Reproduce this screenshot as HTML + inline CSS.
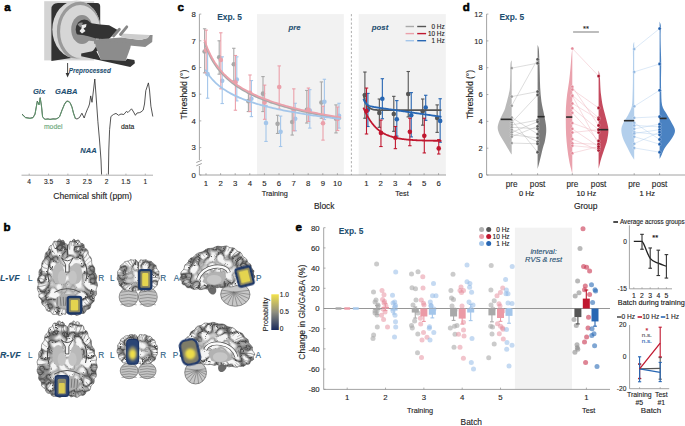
<!DOCTYPE html>
<html><head><meta charset="utf-8"><style>
html,body{margin:0;padding:0;background:#fff;overflow:hidden;}
svg{display:block;}
text{font-family:"Liberation Sans",sans-serif;}
</style></head><body>
<svg width="685" height="426" viewBox="0 0 685 426">
<rect width="685" height="426" fill="#fff"/>
<text x="4.20" y="11.20" font-size="11.5" text-anchor="start" fill="#000" font-weight="bold" font-style="normal" stroke="#000" stroke-width="0.55">a</text>
<text x="177.40" y="11.20" font-size="11.5" text-anchor="start" fill="#000" font-weight="bold" font-style="normal" stroke="#000" stroke-width="0.55">c</text>
<text x="462.80" y="10.80" font-size="11.5" text-anchor="start" fill="#000" font-weight="bold" font-style="normal" stroke="#000" stroke-width="0.55">d</text>
<text x="3.60" y="231.20" font-size="11.5" text-anchor="start" fill="#000" font-weight="bold" font-style="normal" stroke="#000" stroke-width="0.55">b</text>
<text x="295.40" y="230.90" font-size="11.5" text-anchor="start" fill="#000" font-weight="bold" font-style="normal" stroke="#000" stroke-width="0.55">e</text>
<g id="mri">
<clipPath id="discclip"><ellipse cx="76.5" cy="29.5" rx="24.2" ry="29"/></clipPath>
<rect x="44.20" y="1.20" width="50.00" height="59.20" fill="#d4d4d4" />
<path d="M51.4,61 L51.4,9.5 Q51.4,3 58,3 L97.2,3 Q100.2,3 100.2,6.5 L100.2,50 L81,56.5 Z" fill="#323232"/>
<ellipse cx="76.5" cy="29.5" rx="24.2" ry="29" fill="#d6d6d6"/>
<g clip-path="url(#discclip)"><ellipse cx="80.2" cy="31.5" rx="21.7" ry="28.2" fill="none" stroke="#9a9a9a" stroke-width="3.2"/></g>
<ellipse cx="82" cy="29.5" rx="10.8" ry="14.6" fill="#8e8e8e"/>
<ellipse cx="84.3" cy="29.5" rx="8.6" ry="10" fill="#343434"/>
<polygon points="73.00,34.00 96.00,36.50 96.00,41.50 74.00,39.00" fill="#8e8e8e" />
<polygon points="83.00,23.50 88.00,22.80 100.00,24.50 109.10,25.30 118.10,30.20 113.20,35.10 108.30,39.50 96.00,38.50 84.00,35.00 82.00,31.00" fill="#333" />
<path d="M77.5,24.5 Q80,21.5 83,22.8 L80.5,27.5 Z" fill="#8a8a8a"/>
<path d="M81.5,25 L86.5,24 L86,27 L83.5,28.5 L85.5,31 L82,33.5 L79.5,31 L81.5,28.5 Z" fill="#ececec"/>
<polygon points="94.00,39.50 121.40,37.60 140.30,40.00 147.70,38.00 149.70,35.10 152.60,35.10 152.20,42.10 145.20,47.00 129.60,45.40 94.00,43.80" fill="#8c8c8c" />
<polygon points="121.00,33.50 149.70,35.10 147.70,38.00 140.30,40.00 121.40,37.60" fill="#cdcdcd" />
<path d="M113.5,36 L119.4,29.3" stroke="#888" stroke-width="2.8" stroke-linecap="round"/>
<path d="M120.5,34.5 L126.8,26.8" stroke="#888" stroke-width="2.8" stroke-linecap="round"/>
<polygon points="94.50,40.00 131.30,43.30 130.30,47.90 125.70,60.70 100.70,59.60 96.10,47.40" fill="#8c8c8c" />
<polygon points="81.20,53.60 96.00,50.50 100.70,59.60 125.70,60.70 127.00,58.70 134.40,60.10 134.90,63.20 130.30,67.00 81.20,56.20" fill="#333" />
</g>
<line x1="67.60" y1="63.00" x2="67.60" y2="74.50" stroke="#333" stroke-width="0.9" />
<polygon points="65.60,73.00 69.60,73.00 67.60,77.50" fill="#333" />
<text x="68.80" y="72.80" font-size="6.35" text-anchor="start" fill="#1d4e70" font-weight="bold" font-style="italic"  stroke="#1d4e70" stroke-width="0.08">Preprocessed</text>
<line x1="21.50" y1="175.20" x2="153.00" y2="175.20" stroke="#999" stroke-width="0.8" />
<line x1="29.20" y1="175.20" x2="29.20" y2="173.60" stroke="#999" stroke-width="0.7" />
<text x="29.20" y="183.50" font-size="6.6" text-anchor="middle" fill="#262626" font-weight="normal" font-style="normal"  stroke="#262626" stroke-width="0.12">4</text>
<line x1="48.55" y1="175.20" x2="48.55" y2="173.60" stroke="#999" stroke-width="0.7" />
<text x="48.55" y="183.50" font-size="6.6" text-anchor="middle" fill="#262626" font-weight="normal" font-style="normal"  stroke="#262626" stroke-width="0.12">3.5</text>
<line x1="67.90" y1="175.20" x2="67.90" y2="173.60" stroke="#999" stroke-width="0.7" />
<text x="67.90" y="183.50" font-size="6.6" text-anchor="middle" fill="#262626" font-weight="normal" font-style="normal"  stroke="#262626" stroke-width="0.12">3</text>
<line x1="87.25" y1="175.20" x2="87.25" y2="173.60" stroke="#999" stroke-width="0.7" />
<text x="87.25" y="183.50" font-size="6.6" text-anchor="middle" fill="#262626" font-weight="normal" font-style="normal"  stroke="#262626" stroke-width="0.12">2.5</text>
<line x1="106.60" y1="175.20" x2="106.60" y2="173.60" stroke="#999" stroke-width="0.7" />
<text x="106.60" y="183.50" font-size="6.6" text-anchor="middle" fill="#262626" font-weight="normal" font-style="normal"  stroke="#262626" stroke-width="0.12">2</text>
<line x1="125.95" y1="175.20" x2="125.95" y2="173.60" stroke="#999" stroke-width="0.7" />
<text x="125.95" y="183.50" font-size="6.6" text-anchor="middle" fill="#262626" font-weight="normal" font-style="normal"  stroke="#262626" stroke-width="0.12">1.5</text>
<line x1="145.30" y1="175.20" x2="145.30" y2="173.60" stroke="#999" stroke-width="0.7" />
<text x="145.30" y="183.50" font-size="6.6" text-anchor="middle" fill="#262626" font-weight="normal" font-style="normal"  stroke="#262626" stroke-width="0.12">1</text>
<text x="92.60" y="199.30" font-size="8.6" text-anchor="middle" fill="#222" font-weight="normal" font-style="normal"  stroke="#222" stroke-width="0.12">Chemical shift (ppm)</text>
<clipPath id="specclip"><rect x="0" y="60" width="160" height="114.5"/></clipPath>
<g clip-path="url(#specclip)">
<polyline points="22.00,114.00 25.60,117.50 30.00,118.20 33.00,117.50 35.00,114.00 37.30,101.10 39.00,104.60 40.20,97.60 41.50,106.00 42.60,117.00 45.00,119.30 48.00,118.80 50.00,119.50 53.00,118.80 56.00,119.00 58.00,118.00 59.60,116.50 62.00,110.00 64.50,104.00 66.50,101.20 68.00,101.00 70.10,102.50 72.00,107.00 73.50,113.00 75.40,118.50 77.00,119.00 79.50,117.50 81.90,113.20 84.20,118.00 85.50,114.00 87.60,108.80 88.50,107.00 89.50,104.00 90.70,95.90 92.00,102.30 93.50,90.00 94.80,79.00 96.00,95.00 97.90,121.70 99.50,140.00 101.00,160.00 101.80,180.00" fill="none" stroke="#2a2a2a" stroke-width="0.8" stroke-linejoin="round"/>
<polyline points="108.30,180.00 108.80,150.00 109.60,129.50 110.90,116.50 113.40,114.50 116.00,113.40 118.60,115.30 121.00,114.00 123.80,114.50 126.40,111.40 128.00,112.50 131.50,108.80 133.00,111.00 135.40,115.30 137.00,113.00 139.30,112.70 141.00,112.00 143.20,110.10 144.50,104.00 145.80,90.70 148.40,82.90 149.50,90.00 150.90,106.20 152.80,116.50" fill="none" stroke="#2a2a2a" stroke-width="0.8" stroke-linejoin="round"/>
<polyline points="22.00,114.50 25.60,117.80 30.00,118.50 33.00,117.80 35.00,114.50 37.30,101.60 39.00,105.00 40.20,98.20 41.50,106.50 42.60,117.30 45.00,119.40 50.00,119.20 55.00,119.20 58.00,118.20 59.60,116.80 62.00,110.50 64.50,104.50 66.50,101.70 68.00,101.40 70.10,103.00 72.00,107.50 73.50,113.50 75.40,118.80" fill="none" stroke="#5e9e6e" stroke-width="1.0" stroke-linejoin="round" opacity="0.9"/>
</g>
<text x="39.00" y="93.50" font-size="7.6" text-anchor="middle" fill="#1d4e70" font-weight="bold" font-style="italic"  stroke="#1d4e70" stroke-width="0.08">Glx</text>
<text x="66.20" y="93.50" font-size="7.6" text-anchor="middle" fill="#1d4e70" font-weight="bold" font-style="italic"  stroke="#1d4e70" stroke-width="0.08">GABA</text>
<text x="88.40" y="153.20" font-size="7.6" text-anchor="middle" fill="#1d4e70" font-weight="bold" font-style="italic"  stroke="#1d4e70" stroke-width="0.08">NAA</text>
<text x="53.20" y="128.70" font-size="6.8" text-anchor="middle" fill="#6aa87a" font-weight="normal" font-style="normal"  stroke="#6aa87a" stroke-width="0.12">model</text>
<text x="127.70" y="128.70" font-size="6.8" text-anchor="middle" fill="#222" font-weight="normal" font-style="normal"  stroke="#222" stroke-width="0.12">data</text>
<rect x="257.00" y="14.10" width="86.80" height="160.90" fill="#f2f2f2" />
<rect x="358.70" y="14.10" width="87.10" height="160.90" fill="#f2f2f2" />
<line x1="351.40" y1="14.10" x2="351.40" y2="175.00" stroke="#999" stroke-width="0.8" stroke-dasharray="2.2,2"/>
<line x1="199.40" y1="14.10" x2="199.40" y2="160.00" stroke="#8c8c8c" stroke-width="0.8" />
<line x1="199.40" y1="166.00" x2="199.40" y2="175.00" stroke="#8c8c8c" stroke-width="0.8" />
<line x1="199.50" y1="175.00" x2="446.00" y2="175.00" stroke="#8c8c8c" stroke-width="0.8" />
<line x1="196.30" y1="162.50" x2="201.80" y2="160.20" stroke="#777" stroke-width="0.7" />
<line x1="196.30" y1="165.80" x2="201.80" y2="163.50" stroke="#777" stroke-width="0.7" />
<line x1="199.50" y1="14.10" x2="201.30" y2="14.10" stroke="#8c8c8c" stroke-width="0.7" />
<text x="195.90" y="16.90" font-size="7.8" text-anchor="end" fill="#262626" font-weight="normal" font-style="normal"  stroke="#262626" stroke-width="0.12">8</text>
<line x1="199.50" y1="40.80" x2="201.30" y2="40.80" stroke="#8c8c8c" stroke-width="0.7" />
<text x="195.90" y="43.60" font-size="7.8" text-anchor="end" fill="#262626" font-weight="normal" font-style="normal"  stroke="#262626" stroke-width="0.12">7</text>
<line x1="199.50" y1="67.50" x2="201.30" y2="67.50" stroke="#8c8c8c" stroke-width="0.7" />
<text x="195.90" y="70.30" font-size="7.8" text-anchor="end" fill="#262626" font-weight="normal" font-style="normal"  stroke="#262626" stroke-width="0.12">6</text>
<line x1="199.50" y1="94.20" x2="201.30" y2="94.20" stroke="#8c8c8c" stroke-width="0.7" />
<text x="195.90" y="97.00" font-size="7.8" text-anchor="end" fill="#262626" font-weight="normal" font-style="normal"  stroke="#262626" stroke-width="0.12">5</text>
<line x1="199.50" y1="120.90" x2="201.30" y2="120.90" stroke="#8c8c8c" stroke-width="0.7" />
<text x="195.90" y="123.70" font-size="7.8" text-anchor="end" fill="#262626" font-weight="normal" font-style="normal"  stroke="#262626" stroke-width="0.12">4</text>
<line x1="199.50" y1="147.60" x2="201.30" y2="147.60" stroke="#8c8c8c" stroke-width="0.7" />
<text x="195.90" y="150.40" font-size="7.8" text-anchor="end" fill="#262626" font-weight="normal" font-style="normal"  stroke="#262626" stroke-width="0.12">3</text>
<line x1="199.50" y1="175.00" x2="201.30" y2="175.00" stroke="#8c8c8c" stroke-width="0.7" />
<text x="195.90" y="177.80" font-size="7.8" text-anchor="end" fill="#262626" font-weight="normal" font-style="normal"  stroke="#262626" stroke-width="0.12">0</text>
<line x1="206.00" y1="175.00" x2="206.00" y2="173.20" stroke="#8c8c8c" stroke-width="0.7" />
<text x="206.00" y="186.30" font-size="7.8" text-anchor="middle" fill="#262626" font-weight="normal" font-style="normal"  stroke="#262626" stroke-width="0.12">1</text>
<line x1="220.60" y1="175.00" x2="220.60" y2="173.20" stroke="#8c8c8c" stroke-width="0.7" />
<text x="220.60" y="186.30" font-size="7.8" text-anchor="middle" fill="#262626" font-weight="normal" font-style="normal"  stroke="#262626" stroke-width="0.12">2</text>
<line x1="235.20" y1="175.00" x2="235.20" y2="173.20" stroke="#8c8c8c" stroke-width="0.7" />
<text x="235.20" y="186.30" font-size="7.8" text-anchor="middle" fill="#262626" font-weight="normal" font-style="normal"  stroke="#262626" stroke-width="0.12">3</text>
<line x1="249.80" y1="175.00" x2="249.80" y2="173.20" stroke="#8c8c8c" stroke-width="0.7" />
<text x="249.80" y="186.30" font-size="7.8" text-anchor="middle" fill="#262626" font-weight="normal" font-style="normal"  stroke="#262626" stroke-width="0.12">4</text>
<line x1="264.40" y1="175.00" x2="264.40" y2="173.20" stroke="#8c8c8c" stroke-width="0.7" />
<text x="264.40" y="186.30" font-size="7.8" text-anchor="middle" fill="#262626" font-weight="normal" font-style="normal"  stroke="#262626" stroke-width="0.12">5</text>
<line x1="279.00" y1="175.00" x2="279.00" y2="173.20" stroke="#8c8c8c" stroke-width="0.7" />
<text x="279.00" y="186.30" font-size="7.8" text-anchor="middle" fill="#262626" font-weight="normal" font-style="normal"  stroke="#262626" stroke-width="0.12">6</text>
<line x1="293.60" y1="175.00" x2="293.60" y2="173.20" stroke="#8c8c8c" stroke-width="0.7" />
<text x="293.60" y="186.30" font-size="7.8" text-anchor="middle" fill="#262626" font-weight="normal" font-style="normal"  stroke="#262626" stroke-width="0.12">7</text>
<line x1="308.20" y1="175.00" x2="308.20" y2="173.20" stroke="#8c8c8c" stroke-width="0.7" />
<text x="308.20" y="186.30" font-size="7.8" text-anchor="middle" fill="#262626" font-weight="normal" font-style="normal"  stroke="#262626" stroke-width="0.12">8</text>
<line x1="322.80" y1="175.00" x2="322.80" y2="173.20" stroke="#8c8c8c" stroke-width="0.7" />
<text x="322.80" y="186.30" font-size="7.8" text-anchor="middle" fill="#262626" font-weight="normal" font-style="normal"  stroke="#262626" stroke-width="0.12">9</text>
<line x1="337.40" y1="175.00" x2="337.40" y2="173.20" stroke="#8c8c8c" stroke-width="0.7" />
<text x="337.40" y="186.30" font-size="7.8" text-anchor="middle" fill="#262626" font-weight="normal" font-style="normal"  stroke="#262626" stroke-width="0.12">10</text>
<line x1="366.30" y1="175.00" x2="366.30" y2="173.20" stroke="#8c8c8c" stroke-width="0.7" />
<text x="366.30" y="186.30" font-size="7.8" text-anchor="middle" fill="#262626" font-weight="normal" font-style="normal"  stroke="#262626" stroke-width="0.12">1</text>
<line x1="380.75" y1="175.00" x2="380.75" y2="173.20" stroke="#8c8c8c" stroke-width="0.7" />
<text x="380.75" y="186.30" font-size="7.8" text-anchor="middle" fill="#262626" font-weight="normal" font-style="normal"  stroke="#262626" stroke-width="0.12">2</text>
<line x1="395.20" y1="175.00" x2="395.20" y2="173.20" stroke="#8c8c8c" stroke-width="0.7" />
<text x="395.20" y="186.30" font-size="7.8" text-anchor="middle" fill="#262626" font-weight="normal" font-style="normal"  stroke="#262626" stroke-width="0.12">3</text>
<line x1="409.65" y1="175.00" x2="409.65" y2="173.20" stroke="#8c8c8c" stroke-width="0.7" />
<text x="409.65" y="186.30" font-size="7.8" text-anchor="middle" fill="#262626" font-weight="normal" font-style="normal"  stroke="#262626" stroke-width="0.12">4</text>
<line x1="424.10" y1="175.00" x2="424.10" y2="173.20" stroke="#8c8c8c" stroke-width="0.7" />
<text x="424.10" y="186.30" font-size="7.8" text-anchor="middle" fill="#262626" font-weight="normal" font-style="normal"  stroke="#262626" stroke-width="0.12">5</text>
<line x1="438.55" y1="175.00" x2="438.55" y2="173.20" stroke="#8c8c8c" stroke-width="0.7" />
<text x="438.55" y="186.30" font-size="7.8" text-anchor="middle" fill="#262626" font-weight="normal" font-style="normal"  stroke="#262626" stroke-width="0.12">6</text>
<text x="274.80" y="195.80" font-size="7.3" text-anchor="middle" fill="#222" font-weight="normal" font-style="normal"  stroke="#222" stroke-width="0.12">Training</text>
<text x="402.00" y="195.80" font-size="7.3" text-anchor="middle" fill="#222" font-weight="normal" font-style="normal"  stroke="#222" stroke-width="0.12">Test</text>
<text x="324.20" y="208.90" font-size="8.4" text-anchor="middle" fill="#222" font-weight="normal" font-style="normal"  stroke="#222" stroke-width="0.12">Block</text>
<text x="187.40" y="94.60" font-size="8.6" text-anchor="middle" fill="#222" font-weight="normal" font-style="normal" transform="rotate(-90 187.4 94.6)" stroke="#222" stroke-width="0.12">Threshold (°)</text>
<text x="229.60" y="20.00" font-size="8.4" text-anchor="middle" fill="#1d4e70" font-weight="bold" font-style="normal"  stroke="#1d4e70" stroke-width="0.08">Exp. 5</text>
<text x="294.50" y="30.00" font-size="7.8" text-anchor="middle" fill="#1d4e70" font-weight="bold" font-style="italic"  stroke="#1d4e70" stroke-width="0.08">pre</text>
<text x="380.00" y="30.00" font-size="7.8" text-anchor="middle" fill="#1d4e70" font-weight="bold" font-style="italic"  stroke="#1d4e70" stroke-width="0.08">post</text>
<line x1="405.60" y1="26.50" x2="414.00" y2="26.50" stroke="#a9a9a9" stroke-width="1.4" />
<line x1="417.20" y1="26.50" x2="426.10" y2="26.50" stroke="#555" stroke-width="1.4" />
<text x="444.60" y="28.80" font-size="6.4" text-anchor="end" fill="#222" font-weight="normal" font-style="normal"  stroke="#222" stroke-width="0.12">0 Hz</text>
<line x1="405.60" y1="33.60" x2="414.00" y2="33.60" stroke="#eba0aa" stroke-width="1.4" />
<line x1="417.20" y1="33.60" x2="426.10" y2="33.60" stroke="#c0172f" stroke-width="1.4" />
<text x="444.60" y="35.90" font-size="6.4" text-anchor="end" fill="#222" font-weight="normal" font-style="normal"  stroke="#222" stroke-width="0.12">10 Hz</text>
<line x1="405.60" y1="40.70" x2="414.00" y2="40.70" stroke="#a4c6ea" stroke-width="1.4" />
<line x1="417.20" y1="40.70" x2="426.10" y2="40.70" stroke="#2766b3" stroke-width="1.4" />
<text x="444.60" y="43.00" font-size="6.4" text-anchor="end" fill="#222" font-weight="normal" font-style="normal"  stroke="#222" stroke-width="0.12">1 Hz</text>
<line x1="204.60" y1="28.78" x2="204.60" y2="72.84" stroke="#a9a9a9" stroke-width="1.1" />
<line x1="202.90" y1="28.78" x2="206.30" y2="28.78" stroke="#a9a9a9" stroke-width="1.1" />
<line x1="202.90" y1="72.84" x2="206.30" y2="72.84" stroke="#a9a9a9" stroke-width="1.1" />
<circle cx="204.60" cy="51.48" r="2.3" fill="#a9a9a9" />
<line x1="219.20" y1="40.80" x2="219.20" y2="74.17" stroke="#a9a9a9" stroke-width="1.1" />
<line x1="217.50" y1="40.80" x2="220.90" y2="40.80" stroke="#a9a9a9" stroke-width="1.1" />
<line x1="217.50" y1="74.17" x2="220.90" y2="74.17" stroke="#a9a9a9" stroke-width="1.1" />
<circle cx="219.20" cy="57.35" r="2.3" fill="#a9a9a9" />
<line x1="233.80" y1="48.28" x2="233.80" y2="80.85" stroke="#a9a9a9" stroke-width="1.1" />
<line x1="232.10" y1="48.28" x2="235.50" y2="48.28" stroke="#a9a9a9" stroke-width="1.1" />
<line x1="232.10" y1="80.85" x2="235.50" y2="80.85" stroke="#a9a9a9" stroke-width="1.1" />
<circle cx="233.80" cy="64.30" r="2.3" fill="#a9a9a9" />
<line x1="248.40" y1="92.86" x2="248.40" y2="111.56" stroke="#a9a9a9" stroke-width="1.1" />
<line x1="246.70" y1="92.86" x2="250.10" y2="92.86" stroke="#a9a9a9" stroke-width="1.1" />
<line x1="246.70" y1="111.56" x2="250.10" y2="111.56" stroke="#a9a9a9" stroke-width="1.1" />
<circle cx="248.40" cy="101.14" r="2.3" fill="#a9a9a9" />
<line x1="263.00" y1="76.58" x2="263.00" y2="111.56" stroke="#a9a9a9" stroke-width="1.1" />
<line x1="261.30" y1="76.58" x2="264.70" y2="76.58" stroke="#a9a9a9" stroke-width="1.1" />
<line x1="261.30" y1="111.56" x2="264.70" y2="111.56" stroke="#a9a9a9" stroke-width="1.1" />
<circle cx="263.00" cy="93.67" r="2.3" fill="#a9a9a9" />
<line x1="277.60" y1="115.29" x2="277.60" y2="133.45" stroke="#a9a9a9" stroke-width="1.1" />
<line x1="275.90" y1="115.29" x2="279.30" y2="115.29" stroke="#a9a9a9" stroke-width="1.1" />
<line x1="275.90" y1="133.45" x2="279.30" y2="133.45" stroke="#a9a9a9" stroke-width="1.1" />
<circle cx="277.60" cy="123.84" r="2.3" fill="#a9a9a9" />
<line x1="292.20" y1="108.88" x2="292.20" y2="135.05" stroke="#a9a9a9" stroke-width="1.1" />
<line x1="290.50" y1="108.88" x2="293.90" y2="108.88" stroke="#a9a9a9" stroke-width="1.1" />
<line x1="290.50" y1="135.05" x2="293.90" y2="135.05" stroke="#a9a9a9" stroke-width="1.1" />
<circle cx="292.20" cy="121.97" r="2.3" fill="#a9a9a9" />
<line x1="306.80" y1="90.46" x2="306.80" y2="123.04" stroke="#a9a9a9" stroke-width="1.1" />
<line x1="305.10" y1="90.46" x2="308.50" y2="90.46" stroke="#a9a9a9" stroke-width="1.1" />
<line x1="305.10" y1="123.04" x2="308.50" y2="123.04" stroke="#a9a9a9" stroke-width="1.1" />
<circle cx="306.80" cy="109.69" r="2.3" fill="#a9a9a9" />
<line x1="321.40" y1="81.92" x2="321.40" y2="118.23" stroke="#a9a9a9" stroke-width="1.1" />
<line x1="319.70" y1="81.92" x2="323.10" y2="81.92" stroke="#a9a9a9" stroke-width="1.1" />
<line x1="319.70" y1="118.23" x2="323.10" y2="118.23" stroke="#a9a9a9" stroke-width="1.1" />
<circle cx="321.40" cy="102.48" r="2.3" fill="#a9a9a9" />
<line x1="336.00" y1="104.88" x2="336.00" y2="132.91" stroke="#a9a9a9" stroke-width="1.1" />
<line x1="334.30" y1="104.88" x2="337.70" y2="104.88" stroke="#a9a9a9" stroke-width="1.1" />
<line x1="334.30" y1="132.91" x2="337.70" y2="132.91" stroke="#a9a9a9" stroke-width="1.1" />
<circle cx="336.00" cy="118.76" r="2.3" fill="#a9a9a9" />
<line x1="207.60" y1="51.48" x2="207.60" y2="98.20" stroke="#a4c6ea" stroke-width="1.1" />
<line x1="205.90" y1="51.48" x2="209.30" y2="51.48" stroke="#a4c6ea" stroke-width="1.1" />
<line x1="205.90" y1="98.20" x2="209.30" y2="98.20" stroke="#a4c6ea" stroke-width="1.1" />
<circle cx="207.60" cy="74.17" r="2.3" fill="#a4c6ea" />
<line x1="222.20" y1="56.82" x2="222.20" y2="103.54" stroke="#a4c6ea" stroke-width="1.1" />
<line x1="220.50" y1="56.82" x2="223.90" y2="56.82" stroke="#a4c6ea" stroke-width="1.1" />
<line x1="220.50" y1="103.54" x2="223.90" y2="103.54" stroke="#a4c6ea" stroke-width="1.1" />
<circle cx="222.20" cy="80.85" r="2.3" fill="#a4c6ea" />
<line x1="236.80" y1="56.82" x2="236.80" y2="100.87" stroke="#a4c6ea" stroke-width="1.1" />
<line x1="235.10" y1="56.82" x2="238.50" y2="56.82" stroke="#a4c6ea" stroke-width="1.1" />
<line x1="235.10" y1="100.87" x2="238.50" y2="100.87" stroke="#a4c6ea" stroke-width="1.1" />
<circle cx="236.80" cy="79.52" r="2.3" fill="#a4c6ea" />
<line x1="251.40" y1="80.58" x2="251.40" y2="116.63" stroke="#a4c6ea" stroke-width="1.1" />
<line x1="249.70" y1="80.58" x2="253.10" y2="80.58" stroke="#a4c6ea" stroke-width="1.1" />
<line x1="249.70" y1="116.63" x2="253.10" y2="116.63" stroke="#a4c6ea" stroke-width="1.1" />
<circle cx="251.40" cy="98.74" r="2.3" fill="#a4c6ea" />
<line x1="266.00" y1="105.41" x2="266.00" y2="141.46" stroke="#a4c6ea" stroke-width="1.1" />
<line x1="264.30" y1="105.41" x2="267.70" y2="105.41" stroke="#a4c6ea" stroke-width="1.1" />
<line x1="264.30" y1="141.46" x2="267.70" y2="141.46" stroke="#a4c6ea" stroke-width="1.1" />
<circle cx="266.00" cy="123.04" r="2.3" fill="#a4c6ea" />
<line x1="280.60" y1="116.09" x2="280.60" y2="146.53" stroke="#a4c6ea" stroke-width="1.1" />
<line x1="278.90" y1="116.09" x2="282.30" y2="116.09" stroke="#a4c6ea" stroke-width="1.1" />
<line x1="278.90" y1="146.53" x2="282.30" y2="146.53" stroke="#a4c6ea" stroke-width="1.1" />
<circle cx="280.60" cy="131.85" r="2.3" fill="#a4c6ea" />
<line x1="295.20" y1="103.28" x2="295.20" y2="130.78" stroke="#a4c6ea" stroke-width="1.1" />
<line x1="293.50" y1="103.28" x2="296.90" y2="103.28" stroke="#a4c6ea" stroke-width="1.1" />
<line x1="293.50" y1="130.78" x2="296.90" y2="130.78" stroke="#a4c6ea" stroke-width="1.1" />
<circle cx="295.20" cy="118.76" r="2.3" fill="#a4c6ea" />
<line x1="309.80" y1="89.66" x2="309.80" y2="128.11" stroke="#a4c6ea" stroke-width="1.1" />
<line x1="308.10" y1="89.66" x2="311.50" y2="89.66" stroke="#a4c6ea" stroke-width="1.1" />
<line x1="308.10" y1="128.11" x2="311.50" y2="128.11" stroke="#a4c6ea" stroke-width="1.1" />
<circle cx="309.80" cy="110.49" r="2.3" fill="#a4c6ea" />
<line x1="324.40" y1="79.25" x2="324.40" y2="119.56" stroke="#a4c6ea" stroke-width="1.1" />
<line x1="322.70" y1="79.25" x2="326.10" y2="79.25" stroke="#a4c6ea" stroke-width="1.1" />
<line x1="322.70" y1="119.56" x2="326.10" y2="119.56" stroke="#a4c6ea" stroke-width="1.1" />
<circle cx="324.40" cy="101.68" r="2.3" fill="#a4c6ea" />
<line x1="339.00" y1="103.28" x2="339.00" y2="128.11" stroke="#a4c6ea" stroke-width="1.1" />
<line x1="337.30" y1="103.28" x2="340.70" y2="103.28" stroke="#a4c6ea" stroke-width="1.1" />
<line x1="337.30" y1="128.11" x2="340.70" y2="128.11" stroke="#a4c6ea" stroke-width="1.1" />
<circle cx="339.00" cy="115.83" r="2.3" fill="#a4c6ea" />
<line x1="206.20" y1="30.12" x2="206.20" y2="72.84" stroke="#eba0aa" stroke-width="1.1" />
<line x1="204.50" y1="30.12" x2="207.90" y2="30.12" stroke="#eba0aa" stroke-width="1.1" />
<line x1="204.50" y1="72.84" x2="207.90" y2="72.84" stroke="#eba0aa" stroke-width="1.1" />
<circle cx="206.20" cy="50.14" r="2.3" fill="#eba0aa" />
<line x1="220.80" y1="32.79" x2="220.80" y2="88.86" stroke="#eba0aa" stroke-width="1.1" />
<line x1="219.10" y1="32.79" x2="222.50" y2="32.79" stroke="#eba0aa" stroke-width="1.1" />
<line x1="219.10" y1="88.86" x2="222.50" y2="88.86" stroke="#eba0aa" stroke-width="1.1" />
<circle cx="220.80" cy="60.02" r="2.3" fill="#eba0aa" />
<line x1="235.40" y1="55.48" x2="235.40" y2="110.22" stroke="#eba0aa" stroke-width="1.1" />
<line x1="233.70" y1="55.48" x2="237.10" y2="55.48" stroke="#eba0aa" stroke-width="1.1" />
<line x1="233.70" y1="110.22" x2="237.10" y2="110.22" stroke="#eba0aa" stroke-width="1.1" />
<circle cx="235.40" cy="82.18" r="2.3" fill="#eba0aa" />
<line x1="250.00" y1="74.98" x2="250.00" y2="111.56" stroke="#eba0aa" stroke-width="1.1" />
<line x1="248.30" y1="74.98" x2="251.70" y2="74.98" stroke="#eba0aa" stroke-width="1.1" />
<line x1="248.30" y1="111.56" x2="251.70" y2="111.56" stroke="#eba0aa" stroke-width="1.1" />
<circle cx="250.00" cy="92.86" r="2.3" fill="#eba0aa" />
<line x1="264.60" y1="85.12" x2="264.60" y2="119.30" stroke="#eba0aa" stroke-width="1.1" />
<line x1="262.90" y1="85.12" x2="266.30" y2="85.12" stroke="#eba0aa" stroke-width="1.1" />
<line x1="262.90" y1="119.30" x2="266.30" y2="119.30" stroke="#eba0aa" stroke-width="1.1" />
<circle cx="264.60" cy="102.48" r="2.3" fill="#eba0aa" />
<line x1="279.20" y1="65.90" x2="279.20" y2="109.15" stroke="#eba0aa" stroke-width="1.1" />
<line x1="277.50" y1="65.90" x2="280.90" y2="65.90" stroke="#eba0aa" stroke-width="1.1" />
<line x1="277.50" y1="109.15" x2="280.90" y2="109.15" stroke="#eba0aa" stroke-width="1.1" />
<circle cx="279.20" cy="86.99" r="2.3" fill="#eba0aa" />
<line x1="293.80" y1="88.86" x2="293.80" y2="130.78" stroke="#eba0aa" stroke-width="1.1" />
<line x1="292.10" y1="88.86" x2="295.50" y2="88.86" stroke="#eba0aa" stroke-width="1.1" />
<line x1="292.10" y1="130.78" x2="295.50" y2="130.78" stroke="#eba0aa" stroke-width="1.1" />
<circle cx="293.80" cy="109.69" r="2.3" fill="#eba0aa" />
<line x1="308.40" y1="88.06" x2="308.40" y2="121.43" stroke="#eba0aa" stroke-width="1.1" />
<line x1="306.70" y1="88.06" x2="310.10" y2="88.06" stroke="#eba0aa" stroke-width="1.1" />
<line x1="306.70" y1="121.43" x2="310.10" y2="121.43" stroke="#eba0aa" stroke-width="1.1" />
<circle cx="308.40" cy="109.69" r="2.3" fill="#eba0aa" />
<line x1="323.00" y1="106.22" x2="323.00" y2="140.12" stroke="#eba0aa" stroke-width="1.1" />
<line x1="321.30" y1="106.22" x2="324.70" y2="106.22" stroke="#eba0aa" stroke-width="1.1" />
<line x1="321.30" y1="140.12" x2="324.70" y2="140.12" stroke="#eba0aa" stroke-width="1.1" />
<circle cx="323.00" cy="123.30" r="2.3" fill="#eba0aa" />
<line x1="337.60" y1="107.02" x2="337.60" y2="130.51" stroke="#eba0aa" stroke-width="1.1" />
<line x1="335.90" y1="107.02" x2="339.30" y2="107.02" stroke="#eba0aa" stroke-width="1.1" />
<line x1="335.90" y1="130.51" x2="339.30" y2="130.51" stroke="#eba0aa" stroke-width="1.1" />
<circle cx="337.60" cy="119.03" r="2.3" fill="#eba0aa" />
<polyline points="204.54,42.48 206.00,46.67 207.46,50.39 208.92,53.72 210.38,56.72 211.84,59.45 213.30,61.96 214.76,64.27 216.22,66.41 217.68,68.41 219.14,70.27 220.60,72.02 222.06,73.66 223.52,75.21 224.98,76.68 226.44,78.07 227.90,79.40 229.36,80.66 230.82,81.86 232.28,83.01 233.74,84.11 235.20,85.17 236.66,86.18 238.12,87.15 239.58,88.09 241.04,89.00 242.50,89.87 243.96,90.71 245.42,91.52 246.88,92.31 248.34,93.08 249.80,93.81 251.26,94.53 252.72,95.23 254.18,95.91 255.64,96.56 257.10,97.20 258.56,97.83 260.02,98.43 261.48,99.02 262.94,99.60 264.40,100.16 265.86,100.71 267.32,101.24 268.78,101.77 270.24,102.28 271.70,102.78 273.16,103.27 274.62,103.75 276.08,104.21 277.54,104.67 279.00,105.12 280.46,105.56 281.92,105.99 283.38,106.42 284.84,106.83 286.30,107.24 287.76,107.64 289.22,108.03 290.68,108.41 292.14,108.79 293.60,109.16 295.06,109.53 296.52,109.89 297.98,110.24 299.44,110.59 300.90,110.93 302.36,111.27 303.82,111.60 305.28,111.92 306.74,112.24 308.20,112.56 309.66,112.87 311.12,113.18 312.58,113.48 314.04,113.78 315.50,114.07 316.96,114.36 318.42,114.64 319.88,114.92 321.34,115.20 322.80,115.47 324.26,115.74 325.72,116.01 327.18,116.27 328.64,116.53 330.10,116.79 331.56,117.04 333.02,117.29 334.48,117.53 335.94,117.78 337.40,118.02 338.86,118.25 340.32,118.49" fill="none" stroke="#a9a9a9" stroke-width="1.8" stroke-linecap="round"/>
<polyline points="204.54,40.27 206.00,44.54 207.46,48.31 208.92,51.69 210.38,54.74 211.84,57.52 213.30,60.07 214.76,62.41 216.22,64.59 217.68,66.61 219.14,68.51 220.60,70.28 222.06,71.95 223.52,73.52 224.98,75.01 226.44,76.43 227.90,77.77 229.36,79.05 230.82,80.27 232.28,81.44 233.74,82.56 235.20,83.63 236.66,84.65 238.12,85.64 239.58,86.60 241.04,87.51 242.50,88.40 243.96,89.25 245.42,90.08 246.88,90.88 248.34,91.65 249.80,92.40 251.26,93.13 252.72,93.84 254.18,94.53 255.64,95.19 257.10,95.84 258.56,96.47 260.02,97.09 261.48,97.69 262.94,98.27 264.40,98.84 265.86,99.40 267.32,99.94 268.78,100.47 270.24,100.99 271.70,101.50 273.16,101.99 274.62,102.48 276.08,102.95 277.54,103.42 279.00,103.87 280.46,104.32 281.92,104.76 283.38,105.19 284.84,105.61 286.30,106.02 287.76,106.43 289.22,106.82 290.68,107.22 292.14,107.60 293.60,107.98 295.06,108.35 296.52,108.71 297.98,109.07 299.44,109.42 300.90,109.77 302.36,110.11 303.82,110.44 305.28,110.77 306.74,111.10 308.20,111.42 309.66,111.73 311.12,112.04 312.58,112.35 314.04,112.65 315.50,112.95 316.96,113.24 318.42,113.53 319.88,113.82 321.34,114.10 322.80,114.37 324.26,114.65 325.72,114.92 327.18,115.18 328.64,115.44 330.10,115.70 331.56,115.96 333.02,116.21 334.48,116.46 335.94,116.71 337.40,116.95 338.86,117.19 340.32,117.43" fill="none" stroke="#eba0aa" stroke-width="1.8" stroke-linecap="round"/>
<polyline points="205.71,70.20 207.17,72.60 208.63,74.76 210.09,76.71 211.55,78.49 213.01,80.13 214.47,81.65 215.93,83.06 217.39,84.37 218.85,85.61 220.31,86.77 221.77,87.86 223.23,88.89 224.69,89.87 226.15,90.80 227.61,91.69 229.07,92.54 230.53,93.35 231.99,94.12 233.45,94.87 234.91,95.58 236.37,96.27 237.83,96.93 239.29,97.57 240.75,98.19 242.21,98.78 243.67,99.36 245.13,99.91 246.59,100.45 248.05,100.98 249.51,101.49 250.97,101.98 252.43,102.46 253.89,102.93 255.35,103.38 256.81,103.82 258.27,104.26 259.73,104.68 261.19,105.09 262.65,105.49 264.11,105.88 265.57,106.26 267.03,106.63 268.49,107.00 269.95,107.36 271.41,107.71 272.87,108.05 274.33,108.38 275.79,108.71 277.25,109.03 278.71,109.35 280.17,109.66 281.63,109.96 283.09,110.26 284.55,110.55 286.01,110.84 287.47,111.12 288.93,111.40 290.39,111.67 291.85,111.94 293.31,112.21 294.77,112.47 296.23,112.72 297.69,112.97 299.15,113.22 300.61,113.46 302.07,113.70 303.53,113.94 304.99,114.17 306.45,114.40 307.91,114.62 309.37,114.85 310.83,115.06 312.29,115.28 313.75,115.49 315.21,115.70 316.67,115.91 318.13,116.12 319.59,116.32 321.05,116.52 322.51,116.71 323.97,116.91 325.43,117.10 326.89,117.29 328.35,117.47 329.81,117.66 331.27,117.84 332.73,118.02 334.19,118.20 335.65,118.38 337.11,118.55 338.57,118.72 340.03,118.89" fill="none" stroke="#a4c6ea" stroke-width="1.8" stroke-linecap="round"/>
<line x1="364.90" y1="72.04" x2="364.90" y2="118.23" stroke="#555555" stroke-width="1.1" />
<line x1="363.20" y1="72.04" x2="366.60" y2="72.04" stroke="#555555" stroke-width="1.1" />
<line x1="363.20" y1="118.23" x2="366.60" y2="118.23" stroke="#555555" stroke-width="1.1" />
<circle cx="364.90" cy="95.00" r="2.3" fill="#555555" />
<line x1="379.35" y1="99.01" x2="379.35" y2="127.31" stroke="#555555" stroke-width="1.1" />
<line x1="377.65" y1="99.01" x2="381.05" y2="99.01" stroke="#555555" stroke-width="1.1" />
<line x1="377.65" y1="127.31" x2="381.05" y2="127.31" stroke="#555555" stroke-width="1.1" />
<circle cx="379.35" cy="112.89" r="2.3" fill="#555555" />
<line x1="393.80" y1="96.34" x2="393.80" y2="131.31" stroke="#555555" stroke-width="1.1" />
<line x1="392.10" y1="96.34" x2="395.50" y2="96.34" stroke="#555555" stroke-width="1.1" />
<line x1="392.10" y1="131.31" x2="395.50" y2="131.31" stroke="#555555" stroke-width="1.1" />
<circle cx="393.80" cy="113.96" r="2.3" fill="#555555" />
<line x1="408.25" y1="71.51" x2="408.25" y2="116.89" stroke="#555555" stroke-width="1.1" />
<line x1="406.55" y1="71.51" x2="409.95" y2="71.51" stroke="#555555" stroke-width="1.1" />
<line x1="406.55" y1="116.89" x2="409.95" y2="116.89" stroke="#555555" stroke-width="1.1" />
<circle cx="408.25" cy="93.93" r="2.3" fill="#555555" />
<line x1="422.70" y1="99.01" x2="422.70" y2="125.17" stroke="#555555" stroke-width="1.1" />
<line x1="421.00" y1="99.01" x2="424.40" y2="99.01" stroke="#555555" stroke-width="1.1" />
<line x1="421.00" y1="125.17" x2="424.40" y2="125.17" stroke="#555555" stroke-width="1.1" />
<circle cx="422.70" cy="111.56" r="2.3" fill="#555555" />
<line x1="437.15" y1="104.88" x2="437.15" y2="132.38" stroke="#555555" stroke-width="1.1" />
<line x1="435.45" y1="104.88" x2="438.85" y2="104.88" stroke="#555555" stroke-width="1.1" />
<line x1="435.45" y1="132.38" x2="438.85" y2="132.38" stroke="#555555" stroke-width="1.1" />
<circle cx="437.15" cy="117.96" r="2.3" fill="#555555" />
<line x1="367.90" y1="93.40" x2="367.90" y2="126.51" stroke="#2766b3" stroke-width="1.1" />
<line x1="366.20" y1="93.40" x2="369.60" y2="93.40" stroke="#2766b3" stroke-width="1.1" />
<line x1="366.20" y1="126.51" x2="369.60" y2="126.51" stroke="#2766b3" stroke-width="1.1" />
<circle cx="367.90" cy="109.69" r="2.3" fill="#2766b3" />
<line x1="382.35" y1="78.71" x2="382.35" y2="118.76" stroke="#2766b3" stroke-width="1.1" />
<line x1="380.65" y1="78.71" x2="384.05" y2="78.71" stroke="#2766b3" stroke-width="1.1" />
<line x1="380.65" y1="118.76" x2="384.05" y2="118.76" stroke="#2766b3" stroke-width="1.1" />
<circle cx="382.35" cy="98.74" r="2.3" fill="#2766b3" />
<line x1="396.80" y1="100.61" x2="396.80" y2="136.12" stroke="#2766b3" stroke-width="1.1" />
<line x1="395.10" y1="100.61" x2="398.50" y2="100.61" stroke="#2766b3" stroke-width="1.1" />
<line x1="395.10" y1="136.12" x2="398.50" y2="136.12" stroke="#2766b3" stroke-width="1.1" />
<circle cx="396.80" cy="119.30" r="2.3" fill="#2766b3" />
<line x1="411.25" y1="92.60" x2="411.25" y2="136.92" stroke="#2766b3" stroke-width="1.1" />
<line x1="409.55" y1="92.60" x2="412.95" y2="92.60" stroke="#2766b3" stroke-width="1.1" />
<line x1="409.55" y1="136.92" x2="412.95" y2="136.92" stroke="#2766b3" stroke-width="1.1" />
<circle cx="411.25" cy="115.29" r="2.3" fill="#2766b3" />
<line x1="425.70" y1="95.27" x2="425.70" y2="120.37" stroke="#2766b3" stroke-width="1.1" />
<line x1="424.00" y1="95.27" x2="427.40" y2="95.27" stroke="#2766b3" stroke-width="1.1" />
<line x1="424.00" y1="120.37" x2="427.40" y2="120.37" stroke="#2766b3" stroke-width="1.1" />
<circle cx="425.70" cy="107.55" r="2.3" fill="#2766b3" />
<line x1="440.15" y1="98.74" x2="440.15" y2="142.26" stroke="#2766b3" stroke-width="1.1" />
<line x1="438.45" y1="98.74" x2="441.85" y2="98.74" stroke="#2766b3" stroke-width="1.1" />
<line x1="438.45" y1="142.26" x2="441.85" y2="142.26" stroke="#2766b3" stroke-width="1.1" />
<circle cx="440.15" cy="120.90" r="2.3" fill="#2766b3" />
<line x1="366.50" y1="88.06" x2="366.50" y2="133.98" stroke="#c0172f" stroke-width="1.1" />
<line x1="364.80" y1="88.06" x2="368.20" y2="88.06" stroke="#c0172f" stroke-width="1.1" />
<line x1="364.80" y1="133.98" x2="368.20" y2="133.98" stroke="#c0172f" stroke-width="1.1" />
<circle cx="366.50" cy="111.02" r="2.3" fill="#c0172f" />
<line x1="380.95" y1="120.10" x2="380.95" y2="146.53" stroke="#c0172f" stroke-width="1.1" />
<line x1="379.25" y1="120.10" x2="382.65" y2="120.10" stroke="#c0172f" stroke-width="1.1" />
<line x1="379.25" y1="146.53" x2="382.65" y2="146.53" stroke="#c0172f" stroke-width="1.1" />
<circle cx="380.95" cy="132.91" r="2.3" fill="#c0172f" />
<line x1="395.40" y1="126.51" x2="395.40" y2="148.67" stroke="#c0172f" stroke-width="1.1" />
<line x1="393.70" y1="126.51" x2="397.10" y2="126.51" stroke="#c0172f" stroke-width="1.1" />
<line x1="393.70" y1="148.67" x2="397.10" y2="148.67" stroke="#c0172f" stroke-width="1.1" />
<circle cx="395.40" cy="137.72" r="2.3" fill="#c0172f" />
<line x1="409.85" y1="118.23" x2="409.85" y2="145.73" stroke="#c0172f" stroke-width="1.1" />
<line x1="408.15" y1="118.23" x2="411.55" y2="118.23" stroke="#c0172f" stroke-width="1.1" />
<line x1="408.15" y1="145.73" x2="411.55" y2="145.73" stroke="#c0172f" stroke-width="1.1" />
<circle cx="409.85" cy="131.85" r="2.3" fill="#c0172f" />
<line x1="424.30" y1="118.23" x2="424.30" y2="152.94" stroke="#c0172f" stroke-width="1.1" />
<line x1="422.60" y1="118.23" x2="426.00" y2="118.23" stroke="#c0172f" stroke-width="1.1" />
<line x1="422.60" y1="152.94" x2="426.00" y2="152.94" stroke="#c0172f" stroke-width="1.1" />
<circle cx="424.30" cy="135.85" r="2.3" fill="#c0172f" />
<line x1="438.75" y1="139.59" x2="438.75" y2="154.01" stroke="#c0172f" stroke-width="1.1" />
<line x1="437.05" y1="139.59" x2="440.45" y2="139.59" stroke="#c0172f" stroke-width="1.1" />
<line x1="437.05" y1="154.01" x2="440.45" y2="154.01" stroke="#c0172f" stroke-width="1.1" />
<circle cx="438.75" cy="148.40" r="2.3" fill="#c0172f" />
<polyline points="363.41,94.20 364.13,97.43 364.86,100.01 365.58,102.06 366.30,103.71 367.02,105.02 367.75,106.07 368.47,106.90 369.19,107.57 369.91,108.11 370.63,108.53 371.36,108.87 372.08,109.14 372.80,109.36 373.53,109.53 374.25,109.67 374.97,109.78 375.69,109.87 376.42,109.94 377.14,110.00 377.86,110.04 378.58,110.08 379.31,110.11 380.03,110.13 380.75,110.15 381.47,110.16 382.19,110.17 382.92,110.18 383.64,110.19 384.36,110.20 385.09,110.20 385.81,110.21 386.53,110.21 387.25,110.21 387.98,110.21 388.70,110.21 389.42,110.22 390.14,110.22 390.87,110.22 391.59,110.22 392.31,110.22 393.03,110.22 393.75,110.22 394.48,110.22 395.20,110.22 395.92,110.22 396.64,110.22 397.37,110.22 398.09,110.22 398.81,110.22 399.53,110.22 400.26,110.22 400.98,110.22 401.70,110.22 402.42,110.22 403.15,110.22 403.87,110.22 404.59,110.22 405.31,110.22 406.04,110.22 406.76,110.22 407.48,110.22 408.20,110.22 408.93,110.22 409.65,110.22 410.37,110.22 411.09,110.22 411.82,110.22 412.54,110.22 413.26,110.22 413.98,110.22 414.71,110.22 415.43,110.22 416.15,110.22 416.87,110.22 417.60,110.22 418.32,110.22 419.04,110.22 419.76,110.22 420.49,110.22 421.21,110.22 421.93,110.22 422.65,110.22 423.38,110.22 424.10,110.22 424.82,110.22 425.54,110.22 426.27,110.22 426.99,110.22 427.71,110.22 428.43,110.22 429.16,110.22 429.88,110.22 430.60,110.22 431.32,110.22 432.05,110.22 432.77,110.22 433.49,110.22 434.21,110.22 434.94,110.22 435.66,110.22 436.38,110.22 437.10,110.22 437.83,110.22 438.55,110.22 439.27,110.22 439.99,110.22 440.72,110.22 441.44,110.22" fill="none" stroke="#555555" stroke-width="1.8" />
<polyline points="363.41,98.86 364.13,100.69 364.86,102.08 365.58,103.13 366.30,103.94 367.02,104.56 367.75,105.05 368.47,105.44 369.19,105.76 369.91,106.02 370.63,106.24 371.36,106.43 372.08,106.60 372.80,106.75 373.53,106.89 374.25,107.02 374.97,107.14 375.69,107.26 376.42,107.38 377.14,107.49 377.86,107.60 378.58,107.71 379.31,107.81 380.03,107.92 380.75,108.03 381.47,108.13 382.19,108.24 382.92,108.34 383.64,108.45 384.36,108.55 385.09,108.65 385.81,108.76 386.53,108.86 387.25,108.97 387.98,109.07 388.70,109.18 389.42,109.28 390.14,109.38 390.87,109.49 391.59,109.59 392.31,109.70 393.03,109.80 393.75,109.90 394.48,110.01 395.20,110.11 395.92,110.22 396.64,110.32 397.37,110.43 398.09,110.53 398.81,110.63 399.53,110.74 400.26,110.84 400.98,110.95 401.70,111.05 402.42,111.15 403.15,111.26 403.87,111.36 404.59,111.47 405.31,111.57 406.04,111.68 406.76,111.78 407.48,111.88 408.20,111.99 408.93,112.09 409.65,112.20 410.37,112.30 411.09,112.40 411.82,112.51 412.54,112.61 413.26,112.72 413.98,112.82 414.71,112.92 415.43,113.03 416.15,113.13 416.87,113.24 417.60,113.34 418.32,113.45 419.04,113.55 419.76,113.65 420.49,113.76 421.21,113.86 421.93,113.97 422.65,114.07 423.38,114.17 424.10,114.28 424.82,114.38 425.54,114.49 426.27,114.59 426.99,114.69 427.71,114.80 428.43,114.90 429.16,115.01 429.88,115.11 430.60,115.22 431.32,115.32 432.05,115.42 432.77,115.53 433.49,115.63 434.21,115.74 434.94,115.84 435.66,115.94 436.38,116.05 437.10,116.15 437.83,116.26 438.55,116.36 439.27,116.47 439.99,116.57 440.72,116.67 441.44,116.78" fill="none" stroke="#2766b3" stroke-width="1.8" />
<polyline points="363.41,107.55 364.13,109.27 364.86,110.91 365.58,112.46 366.30,113.93 367.02,115.32 367.75,116.64 368.47,117.89 369.19,119.08 369.91,120.21 370.63,121.28 371.36,122.29 372.08,123.26 372.80,124.17 373.53,125.03 374.25,125.85 374.97,126.63 375.69,127.37 376.42,128.07 377.14,128.73 377.86,129.36 378.58,129.96 379.31,130.52 380.03,131.06 380.75,131.57 381.47,132.05 382.19,132.51 382.92,132.95 383.64,133.36 384.36,133.75 385.09,134.12 385.81,134.47 386.53,134.80 387.25,135.12 387.98,135.42 388.70,135.70 389.42,135.97 390.14,136.23 390.87,136.47 391.59,136.70 392.31,136.92 393.03,137.13 393.75,137.32 394.48,137.51 395.20,137.68 395.92,137.85 396.64,138.01 397.37,138.16 398.09,138.30 398.81,138.44 399.53,138.57 400.26,138.69 400.98,138.80 401.70,138.91 402.42,139.02 403.15,139.12 403.87,139.21 404.59,139.30 405.31,139.38 406.04,139.46 406.76,139.54 407.48,139.61 408.20,139.68 408.93,139.74 409.65,139.80 410.37,139.86 411.09,139.92 411.82,139.97 412.54,140.02 413.26,140.06 413.98,140.11 414.71,140.15 415.43,140.19 416.15,140.23 416.87,140.26 417.60,140.30 418.32,140.33 419.04,140.36 419.76,140.39 420.49,140.42 421.21,140.44 421.93,140.47 422.65,140.49 423.38,140.51 424.10,140.54 424.82,140.56 425.54,140.58 426.27,140.59 426.99,140.61 427.71,140.63 428.43,140.64 429.16,140.66 429.88,140.67 430.60,140.68 431.32,140.70 432.05,140.71 432.77,140.72 433.49,140.73 434.21,140.74 434.94,140.75 435.66,140.76 436.38,140.77 437.10,140.78 437.83,140.78 438.55,140.79 439.27,140.80 439.99,140.80 440.72,140.81 441.44,140.82" fill="none" stroke="#c0172f" stroke-width="1.8" />
<line x1="486.60" y1="14.10" x2="486.60" y2="175.00" stroke="#8c8c8c" stroke-width="0.8" />
<line x1="486.60" y1="175.00" x2="685.00" y2="175.00" stroke="#8c8c8c" stroke-width="0.8" />
<line x1="486.60" y1="175.00" x2="488.40" y2="175.00" stroke="#8c8c8c" stroke-width="0.7" />
<text x="482.60" y="177.70" font-size="7.5" text-anchor="end" fill="#262626" font-weight="normal" font-style="normal"  stroke="#262626" stroke-width="0.12">0</text>
<line x1="486.60" y1="148.18" x2="488.40" y2="148.18" stroke="#8c8c8c" stroke-width="0.7" />
<text x="482.60" y="150.88" font-size="7.5" text-anchor="end" fill="#262626" font-weight="normal" font-style="normal"  stroke="#262626" stroke-width="0.12">2</text>
<line x1="486.60" y1="121.36" x2="488.40" y2="121.36" stroke="#8c8c8c" stroke-width="0.7" />
<text x="482.60" y="124.06" font-size="7.5" text-anchor="end" fill="#262626" font-weight="normal" font-style="normal"  stroke="#262626" stroke-width="0.12">4</text>
<line x1="486.60" y1="94.54" x2="488.40" y2="94.54" stroke="#8c8c8c" stroke-width="0.7" />
<text x="482.60" y="97.24" font-size="7.5" text-anchor="end" fill="#262626" font-weight="normal" font-style="normal"  stroke="#262626" stroke-width="0.12">6</text>
<line x1="486.60" y1="67.72" x2="488.40" y2="67.72" stroke="#8c8c8c" stroke-width="0.7" />
<text x="482.60" y="70.42" font-size="7.5" text-anchor="end" fill="#262626" font-weight="normal" font-style="normal"  stroke="#262626" stroke-width="0.12">8</text>
<line x1="486.60" y1="40.90" x2="488.40" y2="40.90" stroke="#8c8c8c" stroke-width="0.7" />
<text x="482.60" y="43.60" font-size="7.5" text-anchor="end" fill="#262626" font-weight="normal" font-style="normal"  stroke="#262626" stroke-width="0.12">10</text>
<line x1="486.60" y1="14.08" x2="488.40" y2="14.08" stroke="#8c8c8c" stroke-width="0.7" />
<text x="482.60" y="16.78" font-size="7.5" text-anchor="end" fill="#262626" font-weight="normal" font-style="normal"  stroke="#262626" stroke-width="0.12">12</text>
<line x1="511.70" y1="175.00" x2="511.70" y2="173.20" stroke="#8c8c8c" stroke-width="0.7" />
<line x1="537.60" y1="175.00" x2="537.60" y2="173.20" stroke="#8c8c8c" stroke-width="0.7" />
<line x1="572.30" y1="175.00" x2="572.30" y2="173.20" stroke="#8c8c8c" stroke-width="0.7" />
<line x1="598.60" y1="175.00" x2="598.60" y2="173.20" stroke="#8c8c8c" stroke-width="0.7" />
<line x1="634.20" y1="175.00" x2="634.20" y2="173.20" stroke="#8c8c8c" stroke-width="0.7" />
<line x1="659.60" y1="175.00" x2="659.60" y2="173.20" stroke="#8c8c8c" stroke-width="0.7" />
<text x="511.70" y="187.00" font-size="8.2" text-anchor="middle" fill="#2a2a2a" font-weight="normal" font-style="normal"  stroke="#2a2a2a" stroke-width="0.12">pre</text>
<text x="537.60" y="187.00" font-size="8.2" text-anchor="middle" fill="#2a2a2a" font-weight="normal" font-style="normal"  stroke="#2a2a2a" stroke-width="0.12">post</text>
<text x="572.30" y="187.00" font-size="8.2" text-anchor="middle" fill="#2a2a2a" font-weight="normal" font-style="normal"  stroke="#2a2a2a" stroke-width="0.12">pre</text>
<text x="598.60" y="187.00" font-size="8.2" text-anchor="middle" fill="#2a2a2a" font-weight="normal" font-style="normal"  stroke="#2a2a2a" stroke-width="0.12">post</text>
<text x="634.20" y="187.00" font-size="8.2" text-anchor="middle" fill="#2a2a2a" font-weight="normal" font-style="normal"  stroke="#2a2a2a" stroke-width="0.12">pre</text>
<text x="659.60" y="187.00" font-size="8.2" text-anchor="middle" fill="#2a2a2a" font-weight="normal" font-style="normal"  stroke="#2a2a2a" stroke-width="0.12">post</text>
<text x="526.60" y="195.60" font-size="7.5" text-anchor="middle" fill="#1a1a1a" font-weight="normal" font-style="normal" stroke="#1a1a1a" stroke-width="0.16">0 Hz</text>
<text x="586.40" y="195.60" font-size="7.5" text-anchor="middle" fill="#1a1a1a" font-weight="normal" font-style="normal" stroke="#1a1a1a" stroke-width="0.16">10 Hz</text>
<text x="647.30" y="195.60" font-size="7.5" text-anchor="middle" fill="#1a1a1a" font-weight="normal" font-style="normal" stroke="#1a1a1a" stroke-width="0.16">1 Hz</text>
<text x="585.70" y="209.20" font-size="8.5" text-anchor="middle" fill="#222" font-weight="normal" font-style="normal"  stroke="#222" stroke-width="0.12">Group</text>
<text x="473.40" y="94.50" font-size="8.5" text-anchor="middle" fill="#222" font-weight="normal" font-style="normal" transform="rotate(-90 473.4 94.5)" stroke="#222" stroke-width="0.12">Threshold (°)</text>
<text x="499.40" y="20.00" font-size="8.4" text-anchor="start" fill="#1d4e70" font-weight="bold" font-style="normal"  stroke="#1d4e70" stroke-width="0.08">Exp. 5</text>
<line x1="573.10" y1="32.00" x2="598.90" y2="32.00" stroke="#999" stroke-width="1.3" />
<text x="586.00" y="30.50" font-size="7.5" text-anchor="middle" fill="#222" font-weight="normal" font-style="normal"  stroke="#222" stroke-width="0.12">**</text>
<path d="M511.70,60.34 L511.70,60.34 C511.50,60.90 510.73,61.35 510.50,63.70 C510.27,66.04 510.40,70.40 510.30,74.42 C510.20,78.45 510.17,84.48 509.90,87.83 C509.63,91.19 509.48,91.19 508.70,94.54 C507.92,97.89 506.28,104.60 505.20,107.95 C504.12,111.30 503.20,112.42 502.20,114.66 C501.20,116.89 499.95,119.12 499.20,121.36 C498.45,123.59 497.62,125.83 497.70,128.06 C497.78,130.30 498.70,132.53 499.70,134.77 C500.70,137.00 502.37,139.24 503.70,141.47 C505.03,143.71 506.37,145.99 507.70,148.18 C509.03,150.37 511.03,153.54 511.70,154.62 L511.70,154.62 Z" fill="#b9b9b9"/>
<path d="M537.60,45.06 L537.60,45.06 C537.80,45.71 538.50,46.29 538.80,48.95 C539.10,51.61 539.23,56.77 539.40,61.02 C539.57,65.26 539.67,69.95 539.80,74.42 C539.93,78.89 539.93,83.36 540.20,87.83 C540.47,92.30 540.75,96.78 541.40,101.25 C542.05,105.72 543.37,110.86 544.10,114.66 C544.83,118.45 545.45,121.14 545.80,124.04 C546.15,126.95 546.37,129.18 546.20,132.09 C546.03,134.99 545.37,138.79 544.80,141.47 C544.23,144.16 543.67,144.83 542.80,148.18 C541.93,151.53 540.47,158.13 539.60,161.59 C538.73,165.05 537.93,167.74 537.60,168.97 L537.60,168.97 Z" fill="#7b7b7b"/>
<path d="M572.30,48.41 L572.30,48.41 C572.18,49.39 571.90,51.09 571.60,54.31 C571.30,57.53 570.92,63.25 570.50,67.72 C570.08,72.19 569.67,76.66 569.10,81.13 C568.53,85.60 567.63,90.07 567.10,94.54 C566.57,99.01 566.12,103.48 565.90,107.95 C565.68,112.42 565.77,116.89 565.80,121.36 C565.83,125.83 565.85,130.30 566.10,134.77 C566.35,139.24 566.77,143.71 567.30,148.18 C567.83,152.65 568.47,157.34 569.30,161.59 C570.13,165.84 571.80,171.65 572.30,173.66 L572.30,173.66 Z" fill="#eaa2ad"/>
<path d="M598.60,70.40 L598.60,70.40 C598.80,71.30 599.50,72.86 599.80,75.77 C600.10,78.67 600.20,84.71 600.40,87.83 C600.60,90.96 600.58,91.41 601.00,94.54 C601.42,97.67 602.05,102.59 602.90,106.61 C603.75,110.63 605.18,114.88 606.10,118.68 C607.02,122.48 608.23,125.83 608.40,129.41 C608.57,132.98 607.73,137.01 607.10,140.13 C606.47,143.26 605.60,145.05 604.60,148.18 C603.60,151.31 602.10,155.44 601.10,158.91 C600.10,162.37 599.02,167.29 598.60,168.97 L598.60,168.97 Z" fill="#c54a5e"/>
<path d="M634.20,41.70 L634.20,41.70 C634.00,42.46 633.20,43.05 633.00,46.26 C632.80,49.48 633.02,55.20 633.00,61.02 C632.98,66.83 632.97,75.54 632.90,81.13 C632.83,86.72 632.78,90.29 632.60,94.54 C632.42,98.79 632.53,103.26 631.80,106.61 C631.07,109.96 629.47,112.20 628.20,114.66 C626.93,117.11 625.33,118.99 624.20,121.36 C623.07,123.73 621.65,126.19 621.40,128.87 C621.15,131.55 621.65,134.23 622.70,137.45 C623.75,140.67 626.28,145.27 627.70,148.18 C629.12,151.09 630.12,152.96 631.20,154.88 C632.28,156.81 633.70,158.91 634.20,159.71 L634.20,159.71 Z" fill="#b3cfec"/>
<path d="M659.60,21.59 L659.60,21.59 C659.82,22.35 660.73,24.05 660.90,26.15 C661.07,28.25 660.62,30.62 660.60,34.19 C660.58,37.77 660.70,42.69 660.80,47.61 C660.90,52.52 661.17,58.11 661.20,63.70 C661.23,69.28 661.00,76.66 661.00,81.13 C661.00,85.60 661.02,86.49 661.20,90.52 C661.38,94.54 661.22,101.38 662.10,105.27 C662.98,109.16 664.92,110.94 666.50,113.85 C668.08,116.76 670.18,119.88 671.60,122.70 C673.02,125.52 675.00,128.06 675.00,130.75 C675.00,133.43 673.33,135.89 671.60,138.79 C669.87,141.70 666.27,145.50 664.60,148.18 C662.93,150.86 662.43,153.10 661.60,154.88 C660.77,156.67 659.93,158.24 659.60,158.91 L659.60,158.91 Z" fill="#4a82c2"/>
<line x1="511.70" y1="68.12" x2="537.60" y2="63.16" stroke="#b4b4b4" stroke-width="0.45" />
<line x1="511.70" y1="96.55" x2="537.60" y2="91.59" stroke="#b4b4b4" stroke-width="0.45" />
<line x1="511.70" y1="105.67" x2="537.60" y2="59.27" stroke="#b4b4b4" stroke-width="0.45" />
<line x1="511.70" y1="117.47" x2="537.60" y2="134.10" stroke="#b4b4b4" stroke-width="0.45" />
<line x1="511.70" y1="122.70" x2="537.60" y2="94.94" stroke="#b4b4b4" stroke-width="0.45" />
<line x1="511.70" y1="124.98" x2="537.60" y2="120.15" stroke="#b4b4b4" stroke-width="0.45" />
<line x1="511.70" y1="127.26" x2="537.60" y2="128.87" stroke="#b4b4b4" stroke-width="0.45" />
<line x1="511.70" y1="129.81" x2="537.60" y2="141.74" stroke="#b4b4b4" stroke-width="0.45" />
<line x1="511.70" y1="132.36" x2="537.60" y2="121.76" stroke="#b4b4b4" stroke-width="0.45" />
<line x1="511.70" y1="134.77" x2="537.60" y2="137.85" stroke="#b4b4b4" stroke-width="0.45" />
<line x1="511.70" y1="136.65" x2="537.60" y2="126.32" stroke="#b4b4b4" stroke-width="0.45" />
<line x1="511.70" y1="143.08" x2="537.60" y2="143.75" stroke="#b4b4b4" stroke-width="0.45" />
<line x1="511.70" y1="120.02" x2="537.60" y2="152.20" stroke="#b4b4b4" stroke-width="0.45" />
<circle cx="511.70" cy="68.12" r="1.5" fill="#9a9a9a" stroke="#fff" stroke-width="0.3"/>
<circle cx="537.60" cy="63.16" r="1.6" fill="#555" stroke="#fff" stroke-width="0.3"/>
<circle cx="511.70" cy="96.55" r="1.5" fill="#9a9a9a" stroke="#fff" stroke-width="0.3"/>
<circle cx="537.60" cy="91.59" r="1.6" fill="#555" stroke="#fff" stroke-width="0.3"/>
<circle cx="511.70" cy="105.67" r="1.5" fill="#9a9a9a" stroke="#fff" stroke-width="0.3"/>
<circle cx="537.60" cy="59.27" r="1.6" fill="#555" stroke="#fff" stroke-width="0.3"/>
<circle cx="511.70" cy="117.47" r="1.5" fill="#9a9a9a" stroke="#fff" stroke-width="0.3"/>
<circle cx="537.60" cy="134.10" r="1.6" fill="#555" stroke="#fff" stroke-width="0.3"/>
<circle cx="511.70" cy="122.70" r="1.5" fill="#9a9a9a" stroke="#fff" stroke-width="0.3"/>
<circle cx="537.60" cy="94.94" r="1.6" fill="#555" stroke="#fff" stroke-width="0.3"/>
<circle cx="511.70" cy="124.98" r="1.5" fill="#9a9a9a" stroke="#fff" stroke-width="0.3"/>
<circle cx="537.60" cy="120.15" r="1.6" fill="#555" stroke="#fff" stroke-width="0.3"/>
<circle cx="511.70" cy="127.26" r="1.5" fill="#9a9a9a" stroke="#fff" stroke-width="0.3"/>
<circle cx="537.60" cy="128.87" r="1.6" fill="#555" stroke="#fff" stroke-width="0.3"/>
<circle cx="511.70" cy="129.81" r="1.5" fill="#9a9a9a" stroke="#fff" stroke-width="0.3"/>
<circle cx="537.60" cy="141.74" r="1.6" fill="#555" stroke="#fff" stroke-width="0.3"/>
<circle cx="511.70" cy="132.36" r="1.5" fill="#9a9a9a" stroke="#fff" stroke-width="0.3"/>
<circle cx="537.60" cy="121.76" r="1.6" fill="#555" stroke="#fff" stroke-width="0.3"/>
<circle cx="511.70" cy="134.77" r="1.5" fill="#9a9a9a" stroke="#fff" stroke-width="0.3"/>
<circle cx="537.60" cy="137.85" r="1.6" fill="#555" stroke="#fff" stroke-width="0.3"/>
<circle cx="511.70" cy="136.65" r="1.5" fill="#9a9a9a" stroke="#fff" stroke-width="0.3"/>
<circle cx="537.60" cy="126.32" r="1.6" fill="#555" stroke="#fff" stroke-width="0.3"/>
<circle cx="511.70" cy="143.08" r="1.5" fill="#9a9a9a" stroke="#fff" stroke-width="0.3"/>
<circle cx="537.60" cy="143.75" r="1.6" fill="#555" stroke="#fff" stroke-width="0.3"/>
<circle cx="511.70" cy="120.02" r="1.5" fill="#9a9a9a" stroke="#fff" stroke-width="0.3"/>
<circle cx="537.60" cy="152.20" r="1.6" fill="#555" stroke="#fff" stroke-width="0.3"/>
<line x1="572.30" y1="48.41" x2="598.60" y2="76.03" stroke="#eeb0ba" stroke-width="0.45" />
<line x1="572.30" y1="86.76" x2="598.60" y2="125.38" stroke="#eeb0ba" stroke-width="0.45" />
<line x1="572.30" y1="89.44" x2="598.60" y2="107.95" stroke="#eeb0ba" stroke-width="0.45" />
<line x1="572.30" y1="95.34" x2="598.60" y2="117.87" stroke="#eeb0ba" stroke-width="0.45" />
<line x1="572.30" y1="95.88" x2="598.60" y2="144.16" stroke="#eeb0ba" stroke-width="0.45" />
<line x1="572.30" y1="103.39" x2="598.60" y2="119.35" stroke="#eeb0ba" stroke-width="0.45" />
<line x1="572.30" y1="108.08" x2="598.60" y2="129.67" stroke="#eeb0ba" stroke-width="0.45" />
<line x1="572.30" y1="112.78" x2="598.60" y2="140.94" stroke="#eeb0ba" stroke-width="0.45" />
<line x1="572.30" y1="123.10" x2="598.60" y2="132.49" stroke="#eeb0ba" stroke-width="0.45" />
<line x1="572.30" y1="128.87" x2="598.60" y2="146.57" stroke="#eeb0ba" stroke-width="0.45" />
<line x1="572.30" y1="132.49" x2="598.60" y2="129.67" stroke="#eeb0ba" stroke-width="0.45" />
<line x1="572.30" y1="139.06" x2="598.60" y2="150.33" stroke="#eeb0ba" stroke-width="0.45" />
<line x1="572.30" y1="143.35" x2="598.60" y2="144.16" stroke="#eeb0ba" stroke-width="0.45" />
<line x1="572.30" y1="145.63" x2="598.60" y2="148.18" stroke="#eeb0ba" stroke-width="0.45" />
<line x1="572.30" y1="153.14" x2="598.60" y2="146.57" stroke="#eeb0ba" stroke-width="0.45" />
<circle cx="572.30" cy="48.41" r="1.5" fill="#e38898" stroke="#fff" stroke-width="0.3"/>
<circle cx="598.60" cy="76.03" r="1.6" fill="#a8142c" stroke="#fff" stroke-width="0.3"/>
<circle cx="572.30" cy="86.76" r="1.5" fill="#e38898" stroke="#fff" stroke-width="0.3"/>
<circle cx="598.60" cy="125.38" r="1.6" fill="#a8142c" stroke="#fff" stroke-width="0.3"/>
<circle cx="572.30" cy="89.44" r="1.5" fill="#e38898" stroke="#fff" stroke-width="0.3"/>
<circle cx="598.60" cy="107.95" r="1.6" fill="#a8142c" stroke="#fff" stroke-width="0.3"/>
<circle cx="572.30" cy="95.34" r="1.5" fill="#e38898" stroke="#fff" stroke-width="0.3"/>
<circle cx="598.60" cy="117.87" r="1.6" fill="#a8142c" stroke="#fff" stroke-width="0.3"/>
<circle cx="572.30" cy="95.88" r="1.5" fill="#e38898" stroke="#fff" stroke-width="0.3"/>
<circle cx="598.60" cy="144.16" r="1.6" fill="#a8142c" stroke="#fff" stroke-width="0.3"/>
<circle cx="572.30" cy="103.39" r="1.5" fill="#e38898" stroke="#fff" stroke-width="0.3"/>
<circle cx="598.60" cy="119.35" r="1.6" fill="#a8142c" stroke="#fff" stroke-width="0.3"/>
<circle cx="572.30" cy="108.08" r="1.5" fill="#e38898" stroke="#fff" stroke-width="0.3"/>
<circle cx="598.60" cy="129.67" r="1.6" fill="#a8142c" stroke="#fff" stroke-width="0.3"/>
<circle cx="572.30" cy="112.78" r="1.5" fill="#e38898" stroke="#fff" stroke-width="0.3"/>
<circle cx="598.60" cy="140.94" r="1.6" fill="#a8142c" stroke="#fff" stroke-width="0.3"/>
<circle cx="572.30" cy="123.10" r="1.5" fill="#e38898" stroke="#fff" stroke-width="0.3"/>
<circle cx="598.60" cy="132.49" r="1.6" fill="#a8142c" stroke="#fff" stroke-width="0.3"/>
<circle cx="572.30" cy="128.87" r="1.5" fill="#e38898" stroke="#fff" stroke-width="0.3"/>
<circle cx="598.60" cy="146.57" r="1.6" fill="#a8142c" stroke="#fff" stroke-width="0.3"/>
<circle cx="572.30" cy="132.49" r="1.5" fill="#e38898" stroke="#fff" stroke-width="0.3"/>
<circle cx="598.60" cy="129.67" r="1.6" fill="#a8142c" stroke="#fff" stroke-width="0.3"/>
<circle cx="572.30" cy="139.06" r="1.5" fill="#e38898" stroke="#fff" stroke-width="0.3"/>
<circle cx="598.60" cy="150.33" r="1.6" fill="#a8142c" stroke="#fff" stroke-width="0.3"/>
<circle cx="572.30" cy="143.35" r="1.5" fill="#e38898" stroke="#fff" stroke-width="0.3"/>
<circle cx="598.60" cy="144.16" r="1.6" fill="#a8142c" stroke="#fff" stroke-width="0.3"/>
<circle cx="572.30" cy="145.63" r="1.5" fill="#e38898" stroke="#fff" stroke-width="0.3"/>
<circle cx="598.60" cy="148.18" r="1.6" fill="#a8142c" stroke="#fff" stroke-width="0.3"/>
<circle cx="572.30" cy="153.14" r="1.5" fill="#e38898" stroke="#fff" stroke-width="0.3"/>
<circle cx="598.60" cy="146.57" r="1.6" fill="#a8142c" stroke="#fff" stroke-width="0.3"/>
<line x1="634.20" y1="49.08" x2="659.60" y2="28.56" stroke="#b0cdee" stroke-width="0.45" />
<line x1="634.20" y1="71.88" x2="659.60" y2="63.97" stroke="#b0cdee" stroke-width="0.45" />
<line x1="634.20" y1="106.34" x2="659.60" y2="90.25" stroke="#b0cdee" stroke-width="0.45" />
<line x1="634.20" y1="117.87" x2="659.60" y2="116.67" stroke="#b0cdee" stroke-width="0.45" />
<line x1="634.20" y1="122.84" x2="659.60" y2="139.46" stroke="#b0cdee" stroke-width="0.45" />
<line x1="634.20" y1="125.38" x2="659.60" y2="126.86" stroke="#b0cdee" stroke-width="0.45" />
<line x1="634.20" y1="128.87" x2="659.60" y2="124.18" stroke="#b0cdee" stroke-width="0.45" />
<line x1="634.20" y1="132.09" x2="659.60" y2="134.77" stroke="#b0cdee" stroke-width="0.45" />
<line x1="634.20" y1="133.43" x2="659.60" y2="129.67" stroke="#b0cdee" stroke-width="0.45" />
<line x1="634.20" y1="136.65" x2="659.60" y2="144.16" stroke="#b0cdee" stroke-width="0.45" />
<line x1="634.20" y1="143.75" x2="659.60" y2="132.09" stroke="#b0cdee" stroke-width="0.45" />
<line x1="634.20" y1="147.91" x2="659.60" y2="152.20" stroke="#b0cdee" stroke-width="0.45" />
<circle cx="634.20" cy="49.08" r="1.5" fill="#94b9e2" stroke="#fff" stroke-width="0.3"/>
<circle cx="659.60" cy="28.56" r="1.6" fill="#1f5fae" stroke="#fff" stroke-width="0.3"/>
<circle cx="634.20" cy="71.88" r="1.5" fill="#94b9e2" stroke="#fff" stroke-width="0.3"/>
<circle cx="659.60" cy="63.97" r="1.6" fill="#1f5fae" stroke="#fff" stroke-width="0.3"/>
<circle cx="634.20" cy="106.34" r="1.5" fill="#94b9e2" stroke="#fff" stroke-width="0.3"/>
<circle cx="659.60" cy="90.25" r="1.6" fill="#1f5fae" stroke="#fff" stroke-width="0.3"/>
<circle cx="634.20" cy="117.87" r="1.5" fill="#94b9e2" stroke="#fff" stroke-width="0.3"/>
<circle cx="659.60" cy="116.67" r="1.6" fill="#1f5fae" stroke="#fff" stroke-width="0.3"/>
<circle cx="634.20" cy="122.84" r="1.5" fill="#94b9e2" stroke="#fff" stroke-width="0.3"/>
<circle cx="659.60" cy="139.46" r="1.6" fill="#1f5fae" stroke="#fff" stroke-width="0.3"/>
<circle cx="634.20" cy="125.38" r="1.5" fill="#94b9e2" stroke="#fff" stroke-width="0.3"/>
<circle cx="659.60" cy="126.86" r="1.6" fill="#1f5fae" stroke="#fff" stroke-width="0.3"/>
<circle cx="634.20" cy="128.87" r="1.5" fill="#94b9e2" stroke="#fff" stroke-width="0.3"/>
<circle cx="659.60" cy="124.18" r="1.6" fill="#1f5fae" stroke="#fff" stroke-width="0.3"/>
<circle cx="634.20" cy="132.09" r="1.5" fill="#94b9e2" stroke="#fff" stroke-width="0.3"/>
<circle cx="659.60" cy="134.77" r="1.6" fill="#1f5fae" stroke="#fff" stroke-width="0.3"/>
<circle cx="634.20" cy="133.43" r="1.5" fill="#94b9e2" stroke="#fff" stroke-width="0.3"/>
<circle cx="659.60" cy="129.67" r="1.6" fill="#1f5fae" stroke="#fff" stroke-width="0.3"/>
<circle cx="634.20" cy="136.65" r="1.5" fill="#94b9e2" stroke="#fff" stroke-width="0.3"/>
<circle cx="659.60" cy="144.16" r="1.6" fill="#1f5fae" stroke="#fff" stroke-width="0.3"/>
<circle cx="634.20" cy="143.75" r="1.5" fill="#94b9e2" stroke="#fff" stroke-width="0.3"/>
<circle cx="659.60" cy="132.09" r="1.6" fill="#1f5fae" stroke="#fff" stroke-width="0.3"/>
<circle cx="634.20" cy="147.91" r="1.5" fill="#94b9e2" stroke="#fff" stroke-width="0.3"/>
<circle cx="659.60" cy="152.20" r="1.6" fill="#1f5fae" stroke="#fff" stroke-width="0.3"/>
<line x1="511.70" y1="119.35" x2="500.70" y2="119.35" stroke="#2a2a2a" stroke-width="1.6" />
<line x1="537.60" y1="116.67" x2="544.60" y2="116.67" stroke="#2a2a2a" stroke-width="1.6" />
<line x1="572.30" y1="117.07" x2="566.10" y2="117.07" stroke="#2a2a2a" stroke-width="1.6" />
<line x1="598.60" y1="129.67" x2="608.10" y2="129.67" stroke="#2a2a2a" stroke-width="1.6" />
<line x1="634.20" y1="120.69" x2="623.90" y2="120.69" stroke="#2a2a2a" stroke-width="1.6" />
<line x1="659.60" y1="118.41" x2="666.60" y2="118.41" stroke="#2a2a2a" stroke-width="1.6" />
<filter id="gyri" x="0" y="0" width="100%" height="100%" color-interpolation-filters="sRGB"><feTurbulence type="turbulence" baseFrequency="0.12" numOctaves="1" seed="7" result="n"/><feColorMatrix in="n" type="matrix" values="1 0 0 0 0  1 0 0 0 0  1 0 0 0 0  0 0 0 0 1" result="g"/><feGaussianBlur in="g" stdDeviation="0.7" result="gb"/><feComponentTransfer in="gb"><feFuncR type="table" tableValues="0.32 0.47 0.57 0.66 0.79 0.92 0.97 0.97 0.97 0.97 0.97 0.97 0.97 0.97 0.97 0.97 0.97 0.97 0.97 0.97 0.97"/><feFuncG type="table" tableValues="0.32 0.47 0.57 0.66 0.79 0.92 0.97 0.97 0.97 0.97 0.97 0.97 0.97 0.97 0.97 0.97 0.97 0.97 0.97 0.97 0.97"/><feFuncB type="table" tableValues="0.32 0.47 0.57 0.66 0.79 0.92 0.97 0.97 0.97 0.97 0.97 0.97 0.97 0.97 0.97 0.97 0.97 0.97 0.97 0.97 0.97"/></feComponentTransfer></filter>
<filter id="gyl" x="0" y="0" width="100%" height="100%" color-interpolation-filters="sRGB"><feTurbulence type="turbulence" baseFrequency="0.12" numOctaves="1" seed="7" result="n"/><feColorMatrix in="n" type="matrix" values="0 0 0 0 0.2  0 0 0 0 0.2  0 0 0 0 0.2  1 0 0 0 0" result="a"/><feGaussianBlur in="a" stdDeviation="0.7" result="ab"/><feComponentTransfer in="ab"><feFuncA type="table" tableValues="0.75 0.7 0.25 0 0 0 0 0 0 0 0 0 0 0 0 0 0 0 0 0 0 0 0 0 0 0 0 0 0 0 0 0 0 0 0 0 0 0 0 0 0"/></feComponentTransfer></filter>
<filter id="rb" x="-30%" y="-30%" width="160%" height="160%"><feGaussianBlur stdDeviation="0.65"/></filter>
<filter id="rb2" x="-30%" y="-30%" width="160%" height="160%"><feGaussianBlur stdDeviation="1.1"/></filter>
<clipPath id="bc1"><path d="M67.35,244.86 L67.70,245.21 L68.04,245.31 L68.38,245.07 L68.72,244.45 L69.08,243.57 L69.46,242.63 L69.83,241.84 L70.20,241.37 L70.55,241.25 L70.89,241.39 L71.23,241.56 L71.59,241.52 L71.98,241.19 L72.42,240.61 L72.89,239.94 L73.35,239.40 L73.80,239.17 L74.21,239.29 L74.59,239.69 L74.96,240.18 L75.38,240.55 L75.88,240.67 L76.47,240.52 L77.12,240.23 L77.78,240.01 L78.40,240.04 L78.94,240.41 L79.39,241.08 L79.78,241.89 L80.16,242.63 L80.61,243.14 L81.16,243.39 L81.79,243.46 L82.44,243.51 L83.05,243.75 L83.54,244.27 L83.90,245.09 L84.17,246.09 L84.43,247.08 L84.77,247.91 L85.23,248.49 L85.82,248.87 L86.47,249.19 L87.08,249.60 L87.58,250.24 L87.92,251.13 L88.12,252.22 L88.27,253.36 L88.48,254.41 L88.83,255.28 L89.35,256.00 L89.97,256.64 L90.60,257.35 L91.11,258.21 L91.45,259.26 L91.61,260.46 L91.67,261.71 L91.76,262.90 L91.98,263.94 L92.40,264.82 L92.97,265.59 L93.61,266.33 L94.17,267.12 L94.55,268.01 L94.71,268.99 L94.72,270.02 L94.69,271.02 L94.77,271.97 L95.03,272.84 L95.47,273.66 L96.00,274.47 L96.48,275.31 L96.78,276.19 L96.84,277.11 L96.69,278.04 L96.45,278.96 L96.28,279.87 L96.28,280.76 L96.50,281.67 L96.85,282.60 L97.21,283.59 L97.43,284.61 L97.41,285.63 L97.16,286.62 L96.76,287.57 L96.38,288.50 L96.15,289.43 L96.12,290.41 L96.27,291.42 L96.48,292.44 L96.59,293.40 L96.49,294.25 L96.15,294.97 L95.64,295.57 L95.09,296.13 L94.64,296.72 L94.37,297.41 L94.29,298.24 L94.30,299.16 L94.27,300.11 L94.08,300.99 L93.67,301.74 L93.06,302.35 L92.38,302.88 L91.73,303.44 L91.24,304.13 L90.91,304.98 L90.70,305.95 L90.50,306.95 L90.18,307.82 L89.68,308.49 L88.99,308.93 L88.19,309.21 L87.39,309.46 L86.69,309.83 L86.13,310.39 L85.68,311.14 L85.26,311.96 L84.79,312.70 L84.20,313.21 L83.46,313.45 L82.60,313.46 L81.72,313.38 L80.89,313.38 L80.16,313.57 L79.52,313.98 L78.93,314.54 L78.33,315.06 L77.67,315.40 L76.96,315.45 L76.19,315.23 L75.38,314.84 L74.60,314.46 L73.87,314.26 L73.21,314.30 L72.60,314.52 L72.01,314.79 L71.43,314.95 L70.87,314.87 L70.34,314.54 L69.87,314.02 L69.46,313.44 L69.13,312.99 L68.84,312.76 L68.59,312.77 L68.36,312.90 L68.14,313.01 L67.89,312.99 L67.63,312.78 L67.35,312.44 L67.07,312.11 L66.82,311.94 L66.59,312.03 L66.35,312.41 L66.10,312.99 L65.82,313.62 L65.51,314.10 L65.18,314.34 L64.81,314.30 L64.40,314.08 L63.94,313.86 L63.40,313.82 L62.79,314.04 L62.11,314.47 L61.37,314.98 L60.61,315.38 L59.87,315.54 L59.18,315.40 L58.56,315.03 L57.98,314.59 L57.37,314.24 L56.68,314.11 L55.89,314.20 L55.03,314.40 L54.15,314.55 L53.34,314.49 L52.63,314.15 L52.05,313.56 L51.55,312.85 L51.05,312.18 L50.46,311.69 L49.76,311.41 L48.94,311.27 L48.10,311.12 L47.34,310.83 L46.72,310.30 L46.27,309.53 L45.95,308.62 L45.66,307.71 L45.29,306.93 L44.77,306.32 L44.10,305.85 L43.36,305.41 L42.68,304.88 L42.16,304.18 L41.85,303.30 L41.71,302.29 L41.64,301.26 L41.52,300.32 L41.22,299.55 L40.74,298.94 L40.14,298.41 L39.56,297.88 L39.11,297.26 L38.89,296.51 L38.89,295.65 L39.02,294.74 L39.12,293.84 L39.07,292.99 L38.81,292.21 L38.39,291.43 L37.92,290.62 L37.56,289.72 L37.42,288.72 L37.52,287.66 L37.80,286.57 L38.10,285.51 L38.29,284.49 L38.27,283.52 L38.06,282.59 L37.75,281.68 L37.50,280.75 L37.44,279.83 L37.62,278.92 L38.01,278.04 L38.49,277.19 L38.89,276.35 L39.12,275.49 L39.14,274.57 L39.03,273.61 L38.93,272.61 L38.97,271.65 L39.25,270.74 L39.75,269.92 L40.37,269.16 L40.97,268.41 L41.42,267.59 L41.68,266.66 L41.77,265.61 L41.79,264.49 L41.89,263.36 L42.16,262.31 L42.62,261.39 L43.23,260.57 L43.85,259.81 L44.39,258.98 L44.75,258.01 L44.95,256.89 L45.07,255.67 L45.22,254.50 L45.49,253.48 L45.93,252.70 L46.52,252.14 L47.17,251.70 L47.77,251.23 L48.24,250.60 L48.57,249.75 L48.80,248.73 L49.02,247.68 L49.33,246.75 L49.77,246.08 L50.34,245.69 L50.99,245.49 L51.63,245.32 L52.18,245.00 L52.63,244.43 L52.98,243.62 L53.29,242.71 L53.66,241.90 L54.11,241.35 L54.69,241.14 L55.35,241.20 L56.03,241.35 L56.67,241.41 L57.23,241.22 L57.71,240.75 L58.14,240.11 L58.57,239.51 L59.04,239.14 L59.54,239.12 L60.07,239.45 L60.60,239.97 L61.10,240.47 L61.54,240.76 L61.93,240.77 L62.27,240.55 L62.61,240.28 L62.96,240.16 L63.35,240.33 L63.76,240.83 L64.18,241.59 L64.58,242.44 L64.95,243.17 L65.30,243.64 L65.63,243.84 L65.96,243.88 L66.29,243.92 L66.64,244.10 L66.99,244.44 Z"/></clipPath>
<path d="M67.35,244.86 L67.70,245.21 L68.04,245.31 L68.38,245.07 L68.72,244.45 L69.08,243.57 L69.46,242.63 L69.83,241.84 L70.20,241.37 L70.55,241.25 L70.89,241.39 L71.23,241.56 L71.59,241.52 L71.98,241.19 L72.42,240.61 L72.89,239.94 L73.35,239.40 L73.80,239.17 L74.21,239.29 L74.59,239.69 L74.96,240.18 L75.38,240.55 L75.88,240.67 L76.47,240.52 L77.12,240.23 L77.78,240.01 L78.40,240.04 L78.94,240.41 L79.39,241.08 L79.78,241.89 L80.16,242.63 L80.61,243.14 L81.16,243.39 L81.79,243.46 L82.44,243.51 L83.05,243.75 L83.54,244.27 L83.90,245.09 L84.17,246.09 L84.43,247.08 L84.77,247.91 L85.23,248.49 L85.82,248.87 L86.47,249.19 L87.08,249.60 L87.58,250.24 L87.92,251.13 L88.12,252.22 L88.27,253.36 L88.48,254.41 L88.83,255.28 L89.35,256.00 L89.97,256.64 L90.60,257.35 L91.11,258.21 L91.45,259.26 L91.61,260.46 L91.67,261.71 L91.76,262.90 L91.98,263.94 L92.40,264.82 L92.97,265.59 L93.61,266.33 L94.17,267.12 L94.55,268.01 L94.71,268.99 L94.72,270.02 L94.69,271.02 L94.77,271.97 L95.03,272.84 L95.47,273.66 L96.00,274.47 L96.48,275.31 L96.78,276.19 L96.84,277.11 L96.69,278.04 L96.45,278.96 L96.28,279.87 L96.28,280.76 L96.50,281.67 L96.85,282.60 L97.21,283.59 L97.43,284.61 L97.41,285.63 L97.16,286.62 L96.76,287.57 L96.38,288.50 L96.15,289.43 L96.12,290.41 L96.27,291.42 L96.48,292.44 L96.59,293.40 L96.49,294.25 L96.15,294.97 L95.64,295.57 L95.09,296.13 L94.64,296.72 L94.37,297.41 L94.29,298.24 L94.30,299.16 L94.27,300.11 L94.08,300.99 L93.67,301.74 L93.06,302.35 L92.38,302.88 L91.73,303.44 L91.24,304.13 L90.91,304.98 L90.70,305.95 L90.50,306.95 L90.18,307.82 L89.68,308.49 L88.99,308.93 L88.19,309.21 L87.39,309.46 L86.69,309.83 L86.13,310.39 L85.68,311.14 L85.26,311.96 L84.79,312.70 L84.20,313.21 L83.46,313.45 L82.60,313.46 L81.72,313.38 L80.89,313.38 L80.16,313.57 L79.52,313.98 L78.93,314.54 L78.33,315.06 L77.67,315.40 L76.96,315.45 L76.19,315.23 L75.38,314.84 L74.60,314.46 L73.87,314.26 L73.21,314.30 L72.60,314.52 L72.01,314.79 L71.43,314.95 L70.87,314.87 L70.34,314.54 L69.87,314.02 L69.46,313.44 L69.13,312.99 L68.84,312.76 L68.59,312.77 L68.36,312.90 L68.14,313.01 L67.89,312.99 L67.63,312.78 L67.35,312.44 L67.07,312.11 L66.82,311.94 L66.59,312.03 L66.35,312.41 L66.10,312.99 L65.82,313.62 L65.51,314.10 L65.18,314.34 L64.81,314.30 L64.40,314.08 L63.94,313.86 L63.40,313.82 L62.79,314.04 L62.11,314.47 L61.37,314.98 L60.61,315.38 L59.87,315.54 L59.18,315.40 L58.56,315.03 L57.98,314.59 L57.37,314.24 L56.68,314.11 L55.89,314.20 L55.03,314.40 L54.15,314.55 L53.34,314.49 L52.63,314.15 L52.05,313.56 L51.55,312.85 L51.05,312.18 L50.46,311.69 L49.76,311.41 L48.94,311.27 L48.10,311.12 L47.34,310.83 L46.72,310.30 L46.27,309.53 L45.95,308.62 L45.66,307.71 L45.29,306.93 L44.77,306.32 L44.10,305.85 L43.36,305.41 L42.68,304.88 L42.16,304.18 L41.85,303.30 L41.71,302.29 L41.64,301.26 L41.52,300.32 L41.22,299.55 L40.74,298.94 L40.14,298.41 L39.56,297.88 L39.11,297.26 L38.89,296.51 L38.89,295.65 L39.02,294.74 L39.12,293.84 L39.07,292.99 L38.81,292.21 L38.39,291.43 L37.92,290.62 L37.56,289.72 L37.42,288.72 L37.52,287.66 L37.80,286.57 L38.10,285.51 L38.29,284.49 L38.27,283.52 L38.06,282.59 L37.75,281.68 L37.50,280.75 L37.44,279.83 L37.62,278.92 L38.01,278.04 L38.49,277.19 L38.89,276.35 L39.12,275.49 L39.14,274.57 L39.03,273.61 L38.93,272.61 L38.97,271.65 L39.25,270.74 L39.75,269.92 L40.37,269.16 L40.97,268.41 L41.42,267.59 L41.68,266.66 L41.77,265.61 L41.79,264.49 L41.89,263.36 L42.16,262.31 L42.62,261.39 L43.23,260.57 L43.85,259.81 L44.39,258.98 L44.75,258.01 L44.95,256.89 L45.07,255.67 L45.22,254.50 L45.49,253.48 L45.93,252.70 L46.52,252.14 L47.17,251.70 L47.77,251.23 L48.24,250.60 L48.57,249.75 L48.80,248.73 L49.02,247.68 L49.33,246.75 L49.77,246.08 L50.34,245.69 L50.99,245.49 L51.63,245.32 L52.18,245.00 L52.63,244.43 L52.98,243.62 L53.29,242.71 L53.66,241.90 L54.11,241.35 L54.69,241.14 L55.35,241.20 L56.03,241.35 L56.67,241.41 L57.23,241.22 L57.71,240.75 L58.14,240.11 L58.57,239.51 L59.04,239.14 L59.54,239.12 L60.07,239.45 L60.60,239.97 L61.10,240.47 L61.54,240.76 L61.93,240.77 L62.27,240.55 L62.61,240.28 L62.96,240.16 L63.35,240.33 L63.76,240.83 L64.18,241.59 L64.58,242.44 L64.95,243.17 L65.30,243.64 L65.63,243.84 L65.96,243.88 L66.29,243.92 L66.64,244.10 L66.99,244.44 Z" fill="#dadada"/>
<path d="M67.35,252.58 L67.61,254.44 L67.86,254.53 L68.14,253.39 L68.44,252.10 L68.81,249.56 L69.17,247.89 L69.49,247.23 L69.65,249.05 L69.83,250.17 L69.95,251.90 L70.27,251.35 L70.58,250.93 L70.92,250.36 L71.65,246.79 L72.18,245.19 L72.53,245.12 L72.77,245.89 L72.73,248.27 L72.72,250.34 L73.00,250.72 L73.20,251.58 L73.85,250.30 L74.68,248.50 L75.44,247.27 L76.29,245.87 L76.67,246.47 L76.93,247.46 L76.69,250.07 L76.69,251.61 L76.84,252.59 L77.53,251.94 L78.36,251.04 L79.29,249.96 L80.58,248.14 L81.05,248.49 L80.95,250.15 L80.54,252.40 L79.92,254.93 L79.80,256.30 L80.28,256.45 L81.05,256.11 L82.75,254.22 L83.56,254.04 L84.55,253.65 L84.23,255.35 L84.25,256.48 L83.55,258.58 L82.46,261.06 L82.82,261.56 L84.25,260.79 L85.12,260.82 L86.86,260.00 L87.22,260.80 L87.12,262.06 L87.19,263.12 L86.53,264.79 L85.34,266.76 L85.01,267.93 L85.85,268.22 L87.70,267.87 L88.94,268.03 L89.42,268.68 L90.02,269.29 L89.53,270.43 L88.59,271.70 L88.43,272.56 L87.24,273.77 L87.93,274.24 L88.85,274.68 L90.02,275.10 L91.95,275.41 L91.93,276.21 L92.31,276.93 L90.74,277.93 L89.86,278.75 L88.67,279.53 L88.55,280.20 L90.05,280.84 L91.14,281.56 L91.90,282.35 L93.43,283.27 L92.61,284.05 L91.95,284.81 L91.14,285.50 L89.63,286.00 L88.36,286.45 L89.65,287.55 L89.71,288.33 L91.01,289.54 L92.54,290.90 L92.20,291.55 L91.46,291.98 L89.87,291.94 L88.45,291.89 L88.01,292.29 L87.42,292.59 L88.38,293.80 L89.13,294.96 L90.11,296.36 L90.96,297.77 L89.94,297.91 L88.83,297.94 L87.65,297.87 L85.71,297.08 L85.08,297.34 L85.94,299.02 L86.48,300.48 L86.64,301.63 L86.91,302.94 L87.05,304.16 L86.20,304.22 L84.16,302.72 L83.46,302.83 L82.49,302.53 L81.96,302.80 L82.01,303.97 L82.15,305.35 L82.28,306.82 L82.63,308.78 L81.31,307.71 L80.42,307.36 L78.89,305.58 L78.21,305.50 L77.48,305.24 L77.10,305.82 L77.03,307.27 L77.22,309.60 L76.59,309.68 L76.00,309.84 L75.23,309.28 L74.36,308.17 L73.40,306.52 L72.65,305.50 L72.40,306.79 L71.93,307.05 L71.61,308.26 L71.29,309.62 L70.83,309.98 L70.22,308.59 L69.69,307.22 L69.25,305.89 L68.92,305.14 L68.65,304.49 L68.50,305.59 L68.39,307.52 L68.23,308.72 L68.03,308.69 L67.81,308.20 L67.58,306.81 L67.35,304.79 L67.15,303.60 L66.97,303.39 L66.75,305.30 L66.54,306.53 L66.27,308.48 L66.06,308.38 L65.78,309.37 L65.56,308.42 L65.34,307.44 L65.15,305.65 L64.75,306.00 L64.44,305.22 L63.75,307.15 L62.96,309.04 L62.15,310.57 L61.51,310.79 L61.04,310.14 L60.73,308.89 L60.51,307.52 L60.46,305.73 L59.83,306.07 L58.91,307.20 L57.85,308.54 L56.96,309.19 L55.86,310.21 L55.30,309.82 L55.34,308.07 L55.42,306.41 L55.63,304.65 L55.21,304.24 L54.42,304.53 L53.59,304.80 L51.86,306.49 L50.48,307.42 L49.97,306.92 L50.10,305.51 L50.82,303.40 L51.00,302.13 L51.23,300.87 L50.83,300.44 L49.34,301.22 L48.60,301.06 L46.67,302.05 L46.64,301.06 L46.11,300.56 L46.88,298.92 L47.98,297.10 L48.06,296.23 L48.14,295.40 L47.11,295.39 L45.37,295.83 L44.67,295.53 L44.02,295.18 L43.61,294.69 L43.87,293.82 L45.51,292.27 L46.51,291.13 L45.99,290.74 L45.73,290.19 L44.76,289.89 L42.79,289.86 L42.37,289.18 L41.68,288.53 L42.83,287.35 L43.76,286.29 L44.58,285.32 L45.20,284.44 L45.15,283.69 L44.83,282.98 L43.27,282.33 L42.43,281.59 L42.16,280.81 L42.16,280.03 L42.92,279.31 L44.34,278.70 L45.62,278.16 L45.71,277.49 L45.99,276.86 L45.05,275.94 L43.62,274.82 L43.21,273.90 L43.52,273.16 L44.33,272.62 L45.57,272.28 L47.07,272.13 L48.03,271.80 L47.44,270.72 L46.60,269.43 L46.22,268.31 L45.95,267.19 L46.01,266.23 L45.94,265.13 L48.05,265.71 L48.76,265.29 L49.87,265.26 L50.40,264.77 L49.58,262.95 L49.56,261.87 L48.81,259.94 L48.38,258.31 L49.27,258.26 L49.65,257.64 L51.43,258.96 L52.58,259.58 L53.20,259.52 L52.70,257.72 L52.39,256.13 L51.75,253.87 L51.53,252.25 L51.75,251.37 L52.49,251.51 L53.81,252.91 L55.19,254.65 L55.73,254.67 L56.16,254.46 L56.10,253.08 L55.53,250.28 L55.26,248.07 L55.78,247.97 L56.36,248.11 L57.25,249.23 L58.06,250.22 L58.93,251.55 L59.35,251.39 L59.45,249.98 L59.59,248.63 L59.48,246.05 L59.67,244.72 L60.43,246.17 L60.83,246.05 L61.61,248.28 L62.40,250.91 L62.74,251.10 L62.92,250.33 L62.95,248.41 L63.15,247.56 L63.28,246.05 L63.53,245.47 L63.98,246.74 L64.44,248.43 L64.95,251.19 L65.28,252.24 L65.59,253.17 L65.73,251.58 L65.92,250.12 L66.16,249.28 L66.43,248.87 L66.76,250.34 L67.06,250.88 Z" fill="#f4f4f4"/>
<g clip-path="url(#bc1)"><rect x="36.4" y="238.1" width="62.0" height="78.4" fill="#fff" filter="url(#gyri)"/></g>
<path d="M67.35,259.48 L67.56,259.43 L67.77,259.29 L67.98,259.09 L68.18,258.83 L68.39,258.55 L68.60,258.24 L68.81,257.94 L69.03,257.66 L69.25,257.41 L69.48,257.22 L69.71,257.07 L69.94,256.92 L70.17,256.78 L70.41,256.66 L70.65,256.55 L70.90,256.46 L71.15,256.38 L71.41,256.34 L71.68,256.31 L71.96,256.32 L72.25,256.36 L72.56,256.42 L72.88,256.51 L73.20,256.61 L73.53,256.74 L73.87,256.90 L74.20,257.06 L74.52,257.25 L74.84,257.46 L75.15,257.67 L75.45,257.91 L75.75,258.17 L76.04,258.45 L76.33,258.74 L76.61,259.05 L76.90,259.38 L77.17,259.73 L77.45,260.08 L77.72,260.45 L77.99,260.83 L78.25,261.22 L78.51,261.62 L78.77,262.04 L79.02,262.47 L79.27,262.91 L79.52,263.37 L79.76,263.84 L80.00,264.32 L80.24,264.82 L80.47,265.33 L80.70,265.87 L80.92,266.43 L81.15,267.01 L81.36,267.60 L81.58,268.21 L81.79,268.82 L82.00,269.42 L82.20,270.03 L82.40,270.62 L82.60,271.19 L82.79,271.75 L82.99,272.30 L83.19,272.85 L83.38,273.39 L83.57,273.92 L83.76,274.46 L83.93,274.99 L84.09,275.52 L84.24,276.06 L84.37,276.60 L84.49,277.14 L84.60,277.67 L84.70,278.21 L84.78,278.74 L84.86,279.27 L84.92,279.81 L84.98,280.35 L85.02,280.90 L85.06,281.45 L85.08,282.01 L85.09,282.58 L85.09,283.17 L85.09,283.77 L85.07,284.38 L85.04,284.99 L84.99,285.60 L84.94,286.19 L84.88,286.77 L84.81,287.33 L84.73,287.86 L84.63,288.37 L84.53,288.85 L84.41,289.32 L84.29,289.76 L84.15,290.20 L84.00,290.63 L83.84,291.06 L83.68,291.49 L83.50,291.93 L83.31,292.37 L83.11,292.83 L82.90,293.29 L82.67,293.76 L82.44,294.24 L82.20,294.71 L81.95,295.17 L81.68,295.62 L81.41,296.06 L81.12,296.48 L80.82,296.88 L80.52,297.25 L80.20,297.62 L79.86,297.98 L79.52,298.32 L79.16,298.65 L78.80,298.96 L78.43,299.26 L78.05,299.54 L77.67,299.79 L77.28,300.03 L76.88,300.25 L76.47,300.44 L76.04,300.62 L75.61,300.79 L75.17,300.93 L74.73,301.06 L74.30,301.17 L73.86,301.26 L73.44,301.33 L73.02,301.38 L72.61,301.41 L72.19,301.42 L71.76,301.40 L71.34,301.36 L70.92,301.31 L70.51,301.25 L70.13,301.17 L69.76,301.09 L69.43,301.01 L69.12,300.93 L68.86,300.84 L68.63,300.71 L68.43,300.57 L68.26,300.42 L68.10,300.27 L67.96,300.13 L67.81,300.00 L67.67,299.90 L67.52,299.83 L67.35,299.80 L67.18,299.83 L67.03,299.90 L66.89,300.00 L66.74,300.13 L66.60,300.27 L66.44,300.42 L66.27,300.57 L66.07,300.71 L65.84,300.84 L65.58,300.93 L65.27,301.01 L64.94,301.09 L64.57,301.17 L64.19,301.25 L63.78,301.31 L63.36,301.36 L62.94,301.40 L62.51,301.42 L62.09,301.41 L61.68,301.38 L61.26,301.33 L60.84,301.26 L60.40,301.17 L59.97,301.06 L59.53,300.93 L59.09,300.79 L58.66,300.62 L58.23,300.44 L57.82,300.25 L57.42,300.03 L57.03,299.79 L56.65,299.54 L56.27,299.26 L55.90,298.96 L55.54,298.65 L55.18,298.32 L54.84,297.98 L54.50,297.62 L54.18,297.25 L53.88,296.88 L53.58,296.48 L53.29,296.06 L53.02,295.62 L52.75,295.17 L52.50,294.71 L52.26,294.24 L52.03,293.76 L51.80,293.29 L51.59,292.83 L51.39,292.37 L51.20,291.93 L51.02,291.49 L50.86,291.06 L50.70,290.63 L50.55,290.20 L50.41,289.76 L50.29,289.32 L50.17,288.85 L50.07,288.37 L49.97,287.86 L49.89,287.33 L49.82,286.77 L49.76,286.19 L49.71,285.60 L49.66,284.99 L49.63,284.38 L49.61,283.77 L49.61,283.17 L49.61,282.58 L49.62,282.01 L49.64,281.45 L49.68,280.90 L49.72,280.35 L49.78,279.81 L49.84,279.27 L49.92,278.74 L50.00,278.21 L50.10,277.67 L50.21,277.14 L50.33,276.60 L50.46,276.06 L50.61,275.52 L50.77,274.99 L50.94,274.46 L51.13,273.92 L51.32,273.39 L51.51,272.85 L51.71,272.30 L51.91,271.75 L52.10,271.19 L52.30,270.62 L52.50,270.03 L52.70,269.42 L52.91,268.82 L53.12,268.21 L53.34,267.60 L53.55,267.01 L53.78,266.43 L54.00,265.87 L54.23,265.33 L54.46,264.82 L54.70,264.32 L54.94,263.84 L55.18,263.37 L55.43,262.91 L55.68,262.47 L55.93,262.04 L56.19,261.62 L56.45,261.22 L56.71,260.83 L56.98,260.45 L57.25,260.08 L57.53,259.73 L57.80,259.38 L58.09,259.05 L58.37,258.74 L58.66,258.45 L58.95,258.17 L59.25,257.91 L59.55,257.67 L59.86,257.46 L60.18,257.25 L60.50,257.06 L60.83,256.90 L61.17,256.74 L61.50,256.61 L61.82,256.51 L62.14,256.42 L62.45,256.36 L62.74,256.32 L63.02,256.31 L63.29,256.34 L63.55,256.38 L63.80,256.46 L64.05,256.55 L64.29,256.66 L64.53,256.78 L64.76,256.92 L64.99,257.07 L65.22,257.22 L65.45,257.41 L65.67,257.66 L65.89,257.94 L66.10,258.24 L66.31,258.55 L66.52,258.83 L66.72,259.09 L66.93,259.29 L67.14,259.43 Z" fill="#f2f2f2" opacity="0.5" filter="url(#rb2)"/>
<path d="M67.35,244.86 Q67.19,250.23 67.35,255.59" stroke="#505050" stroke-width="0.55" fill="none" stroke-linecap="round"/>
<path d="M68.72,244.45 Q66.96,249.59 68.33,254.85" stroke="#505050" stroke-width="0.44" fill="none" stroke-linecap="round"/>
<path d="M70.20,241.37 Q69.67,245.31 69.63,249.29" stroke="#505050" stroke-width="0.54" fill="none" stroke-linecap="round"/>
<path d="M72.42,240.61 Q70.60,242.95 71.79,245.67" stroke="#505050" stroke-width="0.37" fill="none" stroke-linecap="round"/>
<path d="M74.59,239.69 Q74.86,242.96 73.49,245.95" stroke="#505050" stroke-width="0.55" fill="none" stroke-linecap="round"/>
<path d="M75.88,240.67 Q75.18,243.62 74.63,246.60" stroke="#505050" stroke-width="0.53" fill="none" stroke-linecap="round"/>
<path d="M79.39,241.08 Q75.78,245.32 76.45,250.85" stroke="#505050" stroke-width="0.47" fill="none" stroke-linecap="round"/>
<path d="M81.79,243.46 Q82.07,246.49 79.83,248.56" stroke="#505050" stroke-width="0.48" fill="none" stroke-linecap="round"/>
<path d="M83.90,245.09 Q81.22,249.34 79.74,254.14" stroke="#505050" stroke-width="0.48" fill="none" stroke-linecap="round"/>
<path d="M85.82,248.87 Q84.51,252.85 81.74,255.99" stroke="#505050" stroke-width="0.45" fill="none" stroke-linecap="round"/>
<path d="M88.12,252.22 Q86.20,257.02 82.26,260.37" stroke="#505050" stroke-width="0.56" fill="none" stroke-linecap="round"/>
<path d="M89.97,256.64 Q87.33,259.07 85.12,261.89" stroke="#505050" stroke-width="0.40" fill="none" stroke-linecap="round"/>
<path d="M91.61,260.46 Q88.80,262.32 86.50,264.81" stroke="#505050" stroke-width="0.36" fill="none" stroke-linecap="round"/>
<path d="M92.97,265.59 Q90.43,267.54 87.52,268.89" stroke="#505050" stroke-width="0.55" fill="none" stroke-linecap="round"/>
<path d="M94.71,268.99 Q91.58,269.63 89.01,271.52" stroke="#505050" stroke-width="0.37" fill="none" stroke-linecap="round"/>
<path d="M95.47,273.66 Q92.33,272.84 90.00,275.11" stroke="#505050" stroke-width="0.58" fill="none" stroke-linecap="round"/>
<path d="M96.84,277.11 Q93.99,278.84 90.79,277.93" stroke="#505050" stroke-width="0.46" fill="none" stroke-linecap="round"/>
<path d="M96.85,282.60 Q92.69,282.48 88.53,282.18" stroke="#505050" stroke-width="0.43" fill="none" stroke-linecap="round"/>
<path d="M97.41,285.63 Q94.16,283.57 90.46,284.58" stroke="#505050" stroke-width="0.38" fill="none" stroke-linecap="round"/>
<path d="M96.27,291.42 Q94.10,291.84 92.68,290.14" stroke="#505050" stroke-width="0.41" fill="none" stroke-linecap="round"/>
<path d="M95.64,295.57 Q92.87,294.77 90.61,293.00" stroke="#505050" stroke-width="0.50" fill="none" stroke-linecap="round"/>
<path d="M94.37,297.41 Q90.23,296.59 87.57,293.31" stroke="#505050" stroke-width="0.48" fill="none" stroke-linecap="round"/>
<path d="M93.67,301.74 Q91.69,300.04 89.57,298.53" stroke="#505050" stroke-width="0.46" fill="none" stroke-linecap="round"/>
<path d="M90.91,304.98 Q88.71,302.57 86.33,300.34" stroke="#505050" stroke-width="0.39" fill="none" stroke-linecap="round"/>
<path d="M89.68,308.49 Q87.52,304.92 84.46,302.09" stroke="#505050" stroke-width="0.48" fill="none" stroke-linecap="round"/>
<path d="M85.68,311.14 Q84.85,306.90 81.46,304.23" stroke="#505050" stroke-width="0.41" fill="none" stroke-linecap="round"/>
<path d="M82.60,313.46 Q82.14,308.42 78.55,304.86" stroke="#505050" stroke-width="0.43" fill="none" stroke-linecap="round"/>
<path d="M79.52,313.98 Q76.67,309.69 76.04,304.58" stroke="#505050" stroke-width="0.60" fill="none" stroke-linecap="round"/>
<path d="M75.38,314.84 Q73.75,312.66 74.22,309.98" stroke="#505050" stroke-width="0.53" fill="none" stroke-linecap="round"/>
<path d="M73.21,314.30 Q74.13,311.78 72.41,309.73" stroke="#505050" stroke-width="0.46" fill="none" stroke-linecap="round"/>
<path d="M69.87,314.02 Q69.30,311.70 69.51,309.32" stroke="#505050" stroke-width="0.52" fill="none" stroke-linecap="round"/>
<path d="M68.84,312.76 Q69.42,310.26 68.61,307.82" stroke="#505050" stroke-width="0.58" fill="none" stroke-linecap="round"/>
<path d="M67.35,312.44 Q67.37,310.23 67.35,308.03" stroke="#505050" stroke-width="0.54" fill="none" stroke-linecap="round"/>
<path d="M66.35,312.41 Q65.30,308.56 66.59,304.79" stroke="#505050" stroke-width="0.37" fill="none" stroke-linecap="round"/>
<path d="M65.18,314.34 Q65.52,312.25 65.45,310.13" stroke="#505050" stroke-width="0.48" fill="none" stroke-linecap="round"/>
<path d="M62.11,314.47 Q61.23,311.83 62.88,309.59" stroke="#505050" stroke-width="0.40" fill="none" stroke-linecap="round"/>
<path d="M58.56,315.03 Q61.61,310.42 61.18,304.91" stroke="#505050" stroke-width="0.37" fill="none" stroke-linecap="round"/>
<path d="M56.68,314.11 Q58.08,309.26 59.79,304.50" stroke="#505050" stroke-width="0.54" fill="none" stroke-linecap="round"/>
<path d="M52.63,314.15 Q54.20,310.80 55.64,307.41" stroke="#505050" stroke-width="0.46" fill="none" stroke-linecap="round"/>
<path d="M48.94,311.27 Q50.80,309.87 51.20,307.58" stroke="#505050" stroke-width="0.56" fill="none" stroke-linecap="round"/>
<path d="M46.72,310.30 Q49.64,307.95 50.88,304.41" stroke="#505050" stroke-width="0.45" fill="none" stroke-linecap="round"/>
<path d="M44.77,306.32 Q46.49,304.47 48.15,302.54" stroke="#505050" stroke-width="0.35" fill="none" stroke-linecap="round"/>
<path d="M41.71,302.29 Q45.62,300.12 48.49,296.69" stroke="#505050" stroke-width="0.57" fill="none" stroke-linecap="round"/>
<path d="M40.74,298.94 Q43.52,297.53 45.87,295.50" stroke="#505050" stroke-width="0.48" fill="none" stroke-linecap="round"/>
<path d="M39.02,294.74 Q42.37,292.11 46.52,291.13" stroke="#505050" stroke-width="0.58" fill="none" stroke-linecap="round"/>
<path d="M38.39,291.43 Q42.54,291.18 45.92,288.75" stroke="#505050" stroke-width="0.45" fill="none" stroke-linecap="round"/>
<path d="M37.80,286.57 Q42.04,286.50 46.02,285.05" stroke="#505050" stroke-width="0.54" fill="none" stroke-linecap="round"/>
<path d="M38.06,282.59 Q40.93,283.23 43.71,282.31" stroke="#505050" stroke-width="0.37" fill="none" stroke-linecap="round"/>
<path d="M37.62,278.92 Q40.79,277.39 43.70,279.36" stroke="#505050" stroke-width="0.44" fill="none" stroke-linecap="round"/>
<path d="M39.14,274.57 Q42.63,274.43 45.69,276.09" stroke="#505050" stroke-width="0.59" fill="none" stroke-linecap="round"/>
<path d="M39.75,269.92 Q42.03,271.46 44.74,271.94" stroke="#505050" stroke-width="0.49" fill="none" stroke-linecap="round"/>
<path d="M41.77,265.61 Q43.27,268.62 46.63,268.56" stroke="#505050" stroke-width="0.51" fill="none" stroke-linecap="round"/>
<path d="M43.23,260.57 Q45.15,264.60 49.43,265.85" stroke="#505050" stroke-width="0.36" fill="none" stroke-linecap="round"/>
<path d="M44.95,256.89 Q48.49,259.30 50.62,263.01" stroke="#505050" stroke-width="0.45" fill="none" stroke-linecap="round"/>
<path d="M45.93,252.70 Q48.02,254.58 49.26,257.11" stroke="#505050" stroke-width="0.37" fill="none" stroke-linecap="round"/>
<path d="M48.57,249.75 Q51.04,254.30 53.89,258.63" stroke="#505050" stroke-width="0.48" fill="none" stroke-linecap="round"/>
<path d="M50.99,245.49 Q50.69,250.42 54.62,253.41" stroke="#505050" stroke-width="0.51" fill="none" stroke-linecap="round"/>
<path d="M52.98,243.62 Q53.50,246.29 54.90,248.63" stroke="#505050" stroke-width="0.54" fill="none" stroke-linecap="round"/>
<path d="M54.11,241.35 Q57.64,246.52 57.92,252.78" stroke="#505050" stroke-width="0.47" fill="none" stroke-linecap="round"/>
<path d="M57.23,241.22 Q57.75,245.52 59.34,249.56" stroke="#505050" stroke-width="0.36" fill="none" stroke-linecap="round"/>
<path d="M60.60,239.97 Q61.13,244.02 61.92,248.02" stroke="#505050" stroke-width="0.50" fill="none" stroke-linecap="round"/>
<path d="M61.93,240.77 Q61.64,244.32 62.86,247.68" stroke="#505050" stroke-width="0.49" fill="none" stroke-linecap="round"/>
<path d="M63.76,240.83 Q65.19,245.76 64.66,250.86" stroke="#505050" stroke-width="0.35" fill="none" stroke-linecap="round"/>
<path d="M65.30,243.64 Q66.97,245.94 65.56,248.42" stroke="#505050" stroke-width="0.54" fill="none" stroke-linecap="round"/>
<path d="M67.35,244.86 L67.70,245.21 L68.04,245.31 L68.38,245.07 L68.72,244.45 L69.08,243.57 L69.46,242.63 L69.83,241.84 L70.20,241.37 L70.55,241.25 L70.89,241.39 L71.23,241.56 L71.59,241.52 L71.98,241.19 L72.42,240.61 L72.89,239.94 L73.35,239.40 L73.80,239.17 L74.21,239.29 L74.59,239.69 L74.96,240.18 L75.38,240.55 L75.88,240.67 L76.47,240.52 L77.12,240.23 L77.78,240.01 L78.40,240.04 L78.94,240.41 L79.39,241.08 L79.78,241.89 L80.16,242.63 L80.61,243.14 L81.16,243.39 L81.79,243.46 L82.44,243.51 L83.05,243.75 L83.54,244.27 L83.90,245.09 L84.17,246.09 L84.43,247.08 L84.77,247.91 L85.23,248.49 L85.82,248.87 L86.47,249.19 L87.08,249.60 L87.58,250.24 L87.92,251.13 L88.12,252.22 L88.27,253.36 L88.48,254.41 L88.83,255.28 L89.35,256.00 L89.97,256.64 L90.60,257.35 L91.11,258.21 L91.45,259.26 L91.61,260.46 L91.67,261.71 L91.76,262.90 L91.98,263.94 L92.40,264.82 L92.97,265.59 L93.61,266.33 L94.17,267.12 L94.55,268.01 L94.71,268.99 L94.72,270.02 L94.69,271.02 L94.77,271.97 L95.03,272.84 L95.47,273.66 L96.00,274.47 L96.48,275.31 L96.78,276.19 L96.84,277.11 L96.69,278.04 L96.45,278.96 L96.28,279.87 L96.28,280.76 L96.50,281.67 L96.85,282.60 L97.21,283.59 L97.43,284.61 L97.41,285.63 L97.16,286.62 L96.76,287.57 L96.38,288.50 L96.15,289.43 L96.12,290.41 L96.27,291.42 L96.48,292.44 L96.59,293.40 L96.49,294.25 L96.15,294.97 L95.64,295.57 L95.09,296.13 L94.64,296.72 L94.37,297.41 L94.29,298.24 L94.30,299.16 L94.27,300.11 L94.08,300.99 L93.67,301.74 L93.06,302.35 L92.38,302.88 L91.73,303.44 L91.24,304.13 L90.91,304.98 L90.70,305.95 L90.50,306.95 L90.18,307.82 L89.68,308.49 L88.99,308.93 L88.19,309.21 L87.39,309.46 L86.69,309.83 L86.13,310.39 L85.68,311.14 L85.26,311.96 L84.79,312.70 L84.20,313.21 L83.46,313.45 L82.60,313.46 L81.72,313.38 L80.89,313.38 L80.16,313.57 L79.52,313.98 L78.93,314.54 L78.33,315.06 L77.67,315.40 L76.96,315.45 L76.19,315.23 L75.38,314.84 L74.60,314.46 L73.87,314.26 L73.21,314.30 L72.60,314.52 L72.01,314.79 L71.43,314.95 L70.87,314.87 L70.34,314.54 L69.87,314.02 L69.46,313.44 L69.13,312.99 L68.84,312.76 L68.59,312.77 L68.36,312.90 L68.14,313.01 L67.89,312.99 L67.63,312.78 L67.35,312.44 L67.07,312.11 L66.82,311.94 L66.59,312.03 L66.35,312.41 L66.10,312.99 L65.82,313.62 L65.51,314.10 L65.18,314.34 L64.81,314.30 L64.40,314.08 L63.94,313.86 L63.40,313.82 L62.79,314.04 L62.11,314.47 L61.37,314.98 L60.61,315.38 L59.87,315.54 L59.18,315.40 L58.56,315.03 L57.98,314.59 L57.37,314.24 L56.68,314.11 L55.89,314.20 L55.03,314.40 L54.15,314.55 L53.34,314.49 L52.63,314.15 L52.05,313.56 L51.55,312.85 L51.05,312.18 L50.46,311.69 L49.76,311.41 L48.94,311.27 L48.10,311.12 L47.34,310.83 L46.72,310.30 L46.27,309.53 L45.95,308.62 L45.66,307.71 L45.29,306.93 L44.77,306.32 L44.10,305.85 L43.36,305.41 L42.68,304.88 L42.16,304.18 L41.85,303.30 L41.71,302.29 L41.64,301.26 L41.52,300.32 L41.22,299.55 L40.74,298.94 L40.14,298.41 L39.56,297.88 L39.11,297.26 L38.89,296.51 L38.89,295.65 L39.02,294.74 L39.12,293.84 L39.07,292.99 L38.81,292.21 L38.39,291.43 L37.92,290.62 L37.56,289.72 L37.42,288.72 L37.52,287.66 L37.80,286.57 L38.10,285.51 L38.29,284.49 L38.27,283.52 L38.06,282.59 L37.75,281.68 L37.50,280.75 L37.44,279.83 L37.62,278.92 L38.01,278.04 L38.49,277.19 L38.89,276.35 L39.12,275.49 L39.14,274.57 L39.03,273.61 L38.93,272.61 L38.97,271.65 L39.25,270.74 L39.75,269.92 L40.37,269.16 L40.97,268.41 L41.42,267.59 L41.68,266.66 L41.77,265.61 L41.79,264.49 L41.89,263.36 L42.16,262.31 L42.62,261.39 L43.23,260.57 L43.85,259.81 L44.39,258.98 L44.75,258.01 L44.95,256.89 L45.07,255.67 L45.22,254.50 L45.49,253.48 L45.93,252.70 L46.52,252.14 L47.17,251.70 L47.77,251.23 L48.24,250.60 L48.57,249.75 L48.80,248.73 L49.02,247.68 L49.33,246.75 L49.77,246.08 L50.34,245.69 L50.99,245.49 L51.63,245.32 L52.18,245.00 L52.63,244.43 L52.98,243.62 L53.29,242.71 L53.66,241.90 L54.11,241.35 L54.69,241.14 L55.35,241.20 L56.03,241.35 L56.67,241.41 L57.23,241.22 L57.71,240.75 L58.14,240.11 L58.57,239.51 L59.04,239.14 L59.54,239.12 L60.07,239.45 L60.60,239.97 L61.10,240.47 L61.54,240.76 L61.93,240.77 L62.27,240.55 L62.61,240.28 L62.96,240.16 L63.35,240.33 L63.76,240.83 L64.18,241.59 L64.58,242.44 L64.95,243.17 L65.30,243.64 L65.63,243.84 L65.96,243.88 L66.29,243.92 L66.64,244.10 L66.99,244.44 Z" fill="none" stroke="#555" stroke-width="0.6"/>
<line x1="67.35" y1="245.06" x2="67.35" y2="254.82" stroke="#333" stroke-width="0.9" />
<line x1="67.35" y1="299.88" x2="67.35" y2="312.27" stroke="#333" stroke-width="0.9" />
<ellipse cx="58.48" cy="273.60" rx="5.91" ry="10.51" fill="#b9b9b9"/>
<ellipse cx="62.03" cy="277.35" rx="4.14" ry="6.76" fill="#c4c4c4"/>
<ellipse cx="76.21" cy="273.60" rx="5.91" ry="10.51" fill="#b9b9b9"/>
<ellipse cx="72.67" cy="277.35" rx="4.14" ry="6.76" fill="#c4c4c4"/>
<path d="M49.62,263.83 Q46.07,271.34 49.03,281.11" stroke="#444" stroke-width="1.1" fill="none"/>
<path d="M85.08,263.83 Q88.63,271.34 85.67,281.11" stroke="#444" stroke-width="1.1" fill="none"/>
<path d="M61.44,257.82 Q67.35,263.83 73.26,257.82 L69.12,264.58 L69.12,272.09 L65.58,272.09 L65.58,264.58 Z" fill="#f4f4f4" stroke="#333" stroke-width="0.8"/>
<path d="M54.35,292.37 Q67.35,284.86 80.35,292.37" stroke="#555" stroke-width="1" fill="none"/>
<ellipse cx="67.35" cy="301.38" rx="11.82" ry="7.51" fill="#b0b0b0"/>
<line x1="57.30" y1="296.88" x2="57.08" y2="305.89" stroke="#555" stroke-width="0.6" />
<line x1="60.26" y1="296.88" x2="61.05" y2="305.89" stroke="#555" stroke-width="0.6" />
<line x1="63.21" y1="296.88" x2="63.71" y2="305.89" stroke="#555" stroke-width="0.6" />
<line x1="66.17" y1="296.88" x2="65.27" y2="305.89" stroke="#555" stroke-width="0.6" />
<line x1="69.12" y1="296.88" x2="70.10" y2="305.89" stroke="#555" stroke-width="0.6" />
<line x1="72.08" y1="296.88" x2="72.97" y2="305.89" stroke="#555" stroke-width="0.6" />
<line x1="75.03" y1="296.88" x2="74.18" y2="305.89" stroke="#555" stroke-width="0.6" />
<line x1="77.99" y1="296.88" x2="78.80" y2="305.89" stroke="#555" stroke-width="0.6" />
<g transform="rotate(0 74.45 305.25)" filter="url(#rb)">
<rect x="67.70" y="297.00" width="13.50" height="16.50" rx="2.2" fill="#8a8660" stroke="#1f3766" stroke-width="2.3"/>
<rect x="70.70" y="300.00" width="7.50" height="10.50" rx="1" fill="#e4d450"/>
</g>
<clipPath id="bc2"><path d="M67.10,326.76 L67.45,327.10 L67.79,327.16 L68.13,326.85 L68.48,326.18 L68.84,325.28 L69.21,324.35 L69.59,323.62 L69.95,323.21 L70.30,323.14 L70.64,323.29 L70.98,323.42 L71.35,323.32 L71.75,322.93 L72.19,322.31 L72.66,321.64 L73.12,321.15 L73.56,320.98 L73.96,321.17 L74.33,321.59 L74.71,322.07 L75.14,322.38 L75.65,322.43 L76.25,322.23 L76.91,321.93 L77.57,321.74 L78.17,321.83 L78.69,322.27 L79.13,322.98 L79.52,323.78 L79.92,324.48 L80.39,324.93 L80.95,325.13 L81.60,325.17 L82.25,325.24 L82.83,325.52 L83.30,326.11 L83.64,326.97 L83.91,327.98 L84.18,328.95 L84.54,329.73 L85.03,330.26 L85.64,330.61 L86.29,330.92 L86.89,331.37 L87.36,332.06 L87.67,333.00 L87.85,334.11 L88.01,335.24 L88.25,336.25 L88.64,337.08 L89.18,337.76 L89.82,338.40 L90.43,339.13 L90.91,340.02 L91.21,341.11 L91.35,342.33 L91.41,343.58 L91.51,344.75 L91.78,345.77 L92.23,346.63 L92.83,347.38 L93.46,348.13 L93.99,348.95 L94.33,349.86 L94.45,350.86 L94.44,351.88 L94.43,352.88 L94.55,353.81 L94.86,354.67 L95.33,355.49 L95.87,356.30 L96.32,357.15 L96.58,358.04 L96.59,358.96 L96.41,359.90 L96.18,360.82 L96.04,361.72 L96.09,362.62 L96.35,363.53 L96.73,364.47 L97.07,365.45 L97.25,366.47 L97.18,367.48 L96.89,368.47 L96.49,369.42 L96.13,370.35 L95.94,371.30 L95.96,372.29 L96.14,373.31 L96.34,374.33 L96.42,375.28 L96.28,376.11 L95.90,376.81 L95.37,377.41 L94.83,377.97 L94.41,378.58 L94.19,379.31 L94.14,380.16 L94.16,381.09 L94.11,382.02 L93.88,382.87 L93.42,383.59 L92.80,384.18 L92.11,384.71 L91.49,385.30 L91.04,386.02 L90.75,386.91 L90.55,387.90 L90.34,388.89 L89.99,389.74 L89.45,390.36 L88.73,390.76 L87.92,391.03 L87.14,391.31 L86.47,391.71 L85.93,392.32 L85.50,393.10 L85.08,393.93 L84.59,394.64 L83.97,395.11 L83.21,395.30 L82.34,395.28 L81.47,395.21 L80.65,395.24 L79.94,395.49 L79.31,395.95 L78.72,396.52 L78.11,397.02 L77.45,397.31 L76.72,397.31 L75.93,397.05 L75.13,396.66 L74.35,396.31 L73.64,396.17 L72.98,396.25 L72.37,396.50 L71.78,396.77 L71.19,396.88 L70.62,396.75 L70.09,396.37 L69.62,395.84 L69.21,395.28 L68.88,394.87 L68.60,394.70 L68.35,394.73 L68.12,394.87 L67.89,394.96 L67.64,394.88 L67.38,394.62 L67.10,394.26 L66.82,393.93 L66.57,393.80 L66.34,393.95 L66.10,394.37 L65.84,394.97 L65.56,395.58 L65.26,396.02 L64.93,396.20 L64.56,396.13 L64.15,395.90 L63.69,395.70 L63.15,395.72 L62.53,395.99 L61.84,396.45 L61.09,396.96 L60.34,397.32 L59.61,397.42 L58.94,397.24 L58.32,396.85 L57.73,396.42 L57.11,396.12 L56.40,396.04 L55.59,396.17 L54.72,396.39 L53.86,396.51 L53.06,396.40 L52.38,396.00 L51.81,395.38 L51.31,394.67 L50.79,394.04 L50.18,393.60 L49.44,393.36 L48.62,393.24 L47.78,393.08 L47.04,392.75 L46.45,392.17 L46.03,391.36 L45.72,390.44 L45.41,389.55 L45.01,388.81 L44.45,388.24 L43.75,387.79 L43.01,387.35 L42.35,386.80 L41.87,386.06 L41.60,385.14 L41.48,384.12 L41.41,383.10 L41.25,382.19 L40.91,381.44 L40.39,380.85 L39.78,380.33 L39.21,379.79 L38.80,379.15 L38.63,378.37 L38.66,377.49 L38.79,376.58 L38.86,375.69 L38.77,374.87 L38.46,374.10 L38.02,373.33 L37.56,372.51 L37.23,371.59 L37.14,370.58 L37.28,369.51 L37.57,368.42 L37.86,367.36 L38.00,366.35 L37.94,365.38 L37.69,364.45 L37.38,363.53 L37.16,362.61 L37.14,361.68 L37.37,360.77 L37.79,359.90 L38.25,359.05 L38.62,358.20 L38.80,357.33 L38.79,356.41 L38.66,355.43 L38.57,354.44 L38.66,353.48 L38.98,352.59 L39.51,351.79 L40.14,351.03 L40.72,350.27 L41.13,349.43 L41.35,348.47 L41.41,347.41 L41.44,346.28 L41.56,345.17 L41.87,344.15 L42.38,343.25 L43.00,342.45 L43.61,341.68 L44.11,340.82 L44.44,339.81 L44.62,338.66 L44.73,337.43 L44.89,336.27 L45.20,335.30 L45.68,334.56 L46.29,334.02 L46.93,333.58 L47.51,333.08 L47.96,332.41 L48.26,331.51 L48.48,330.46 L48.70,329.42 L49.03,328.53 L49.50,327.92 L50.10,327.57 L50.75,327.39 L51.38,327.20 L51.91,326.82 L52.33,326.19 L52.67,325.34 L52.99,324.42 L53.36,323.64 L53.84,323.16 L54.44,323.01 L55.11,323.10 L55.78,323.24 L56.41,323.25 L56.95,322.99 L57.42,322.46 L57.85,321.81 L58.29,321.23 L58.77,320.92 L59.29,320.97 L59.83,321.35 L60.36,321.87 L60.85,322.33 L61.28,322.56 L61.66,322.50 L62.00,322.25 L62.34,321.99 L62.70,321.92 L63.10,322.16 L63.51,322.71 L63.93,323.49 L64.33,324.32 L64.70,324.99 L65.04,325.40 L65.37,325.56 L65.70,325.60 L66.04,325.67 L66.39,325.90 L66.74,326.30 Z"/></clipPath>
<path d="M67.10,326.76 L67.45,327.10 L67.79,327.16 L68.13,326.85 L68.48,326.18 L68.84,325.28 L69.21,324.35 L69.59,323.62 L69.95,323.21 L70.30,323.14 L70.64,323.29 L70.98,323.42 L71.35,323.32 L71.75,322.93 L72.19,322.31 L72.66,321.64 L73.12,321.15 L73.56,320.98 L73.96,321.17 L74.33,321.59 L74.71,322.07 L75.14,322.38 L75.65,322.43 L76.25,322.23 L76.91,321.93 L77.57,321.74 L78.17,321.83 L78.69,322.27 L79.13,322.98 L79.52,323.78 L79.92,324.48 L80.39,324.93 L80.95,325.13 L81.60,325.17 L82.25,325.24 L82.83,325.52 L83.30,326.11 L83.64,326.97 L83.91,327.98 L84.18,328.95 L84.54,329.73 L85.03,330.26 L85.64,330.61 L86.29,330.92 L86.89,331.37 L87.36,332.06 L87.67,333.00 L87.85,334.11 L88.01,335.24 L88.25,336.25 L88.64,337.08 L89.18,337.76 L89.82,338.40 L90.43,339.13 L90.91,340.02 L91.21,341.11 L91.35,342.33 L91.41,343.58 L91.51,344.75 L91.78,345.77 L92.23,346.63 L92.83,347.38 L93.46,348.13 L93.99,348.95 L94.33,349.86 L94.45,350.86 L94.44,351.88 L94.43,352.88 L94.55,353.81 L94.86,354.67 L95.33,355.49 L95.87,356.30 L96.32,357.15 L96.58,358.04 L96.59,358.96 L96.41,359.90 L96.18,360.82 L96.04,361.72 L96.09,362.62 L96.35,363.53 L96.73,364.47 L97.07,365.45 L97.25,366.47 L97.18,367.48 L96.89,368.47 L96.49,369.42 L96.13,370.35 L95.94,371.30 L95.96,372.29 L96.14,373.31 L96.34,374.33 L96.42,375.28 L96.28,376.11 L95.90,376.81 L95.37,377.41 L94.83,377.97 L94.41,378.58 L94.19,379.31 L94.14,380.16 L94.16,381.09 L94.11,382.02 L93.88,382.87 L93.42,383.59 L92.80,384.18 L92.11,384.71 L91.49,385.30 L91.04,386.02 L90.75,386.91 L90.55,387.90 L90.34,388.89 L89.99,389.74 L89.45,390.36 L88.73,390.76 L87.92,391.03 L87.14,391.31 L86.47,391.71 L85.93,392.32 L85.50,393.10 L85.08,393.93 L84.59,394.64 L83.97,395.11 L83.21,395.30 L82.34,395.28 L81.47,395.21 L80.65,395.24 L79.94,395.49 L79.31,395.95 L78.72,396.52 L78.11,397.02 L77.45,397.31 L76.72,397.31 L75.93,397.05 L75.13,396.66 L74.35,396.31 L73.64,396.17 L72.98,396.25 L72.37,396.50 L71.78,396.77 L71.19,396.88 L70.62,396.75 L70.09,396.37 L69.62,395.84 L69.21,395.28 L68.88,394.87 L68.60,394.70 L68.35,394.73 L68.12,394.87 L67.89,394.96 L67.64,394.88 L67.38,394.62 L67.10,394.26 L66.82,393.93 L66.57,393.80 L66.34,393.95 L66.10,394.37 L65.84,394.97 L65.56,395.58 L65.26,396.02 L64.93,396.20 L64.56,396.13 L64.15,395.90 L63.69,395.70 L63.15,395.72 L62.53,395.99 L61.84,396.45 L61.09,396.96 L60.34,397.32 L59.61,397.42 L58.94,397.24 L58.32,396.85 L57.73,396.42 L57.11,396.12 L56.40,396.04 L55.59,396.17 L54.72,396.39 L53.86,396.51 L53.06,396.40 L52.38,396.00 L51.81,395.38 L51.31,394.67 L50.79,394.04 L50.18,393.60 L49.44,393.36 L48.62,393.24 L47.78,393.08 L47.04,392.75 L46.45,392.17 L46.03,391.36 L45.72,390.44 L45.41,389.55 L45.01,388.81 L44.45,388.24 L43.75,387.79 L43.01,387.35 L42.35,386.80 L41.87,386.06 L41.60,385.14 L41.48,384.12 L41.41,383.10 L41.25,382.19 L40.91,381.44 L40.39,380.85 L39.78,380.33 L39.21,379.79 L38.80,379.15 L38.63,378.37 L38.66,377.49 L38.79,376.58 L38.86,375.69 L38.77,374.87 L38.46,374.10 L38.02,373.33 L37.56,372.51 L37.23,371.59 L37.14,370.58 L37.28,369.51 L37.57,368.42 L37.86,367.36 L38.00,366.35 L37.94,365.38 L37.69,364.45 L37.38,363.53 L37.16,362.61 L37.14,361.68 L37.37,360.77 L37.79,359.90 L38.25,359.05 L38.62,358.20 L38.80,357.33 L38.79,356.41 L38.66,355.43 L38.57,354.44 L38.66,353.48 L38.98,352.59 L39.51,351.79 L40.14,351.03 L40.72,350.27 L41.13,349.43 L41.35,348.47 L41.41,347.41 L41.44,346.28 L41.56,345.17 L41.87,344.15 L42.38,343.25 L43.00,342.45 L43.61,341.68 L44.11,340.82 L44.44,339.81 L44.62,338.66 L44.73,337.43 L44.89,336.27 L45.20,335.30 L45.68,334.56 L46.29,334.02 L46.93,333.58 L47.51,333.08 L47.96,332.41 L48.26,331.51 L48.48,330.46 L48.70,329.42 L49.03,328.53 L49.50,327.92 L50.10,327.57 L50.75,327.39 L51.38,327.20 L51.91,326.82 L52.33,326.19 L52.67,325.34 L52.99,324.42 L53.36,323.64 L53.84,323.16 L54.44,323.01 L55.11,323.10 L55.78,323.24 L56.41,323.25 L56.95,322.99 L57.42,322.46 L57.85,321.81 L58.29,321.23 L58.77,320.92 L59.29,320.97 L59.83,321.35 L60.36,321.87 L60.85,322.33 L61.28,322.56 L61.66,322.50 L62.00,322.25 L62.34,321.99 L62.70,321.92 L63.10,322.16 L63.51,322.71 L63.93,323.49 L64.33,324.32 L64.70,324.99 L65.04,325.40 L65.37,325.56 L65.70,325.60 L66.04,325.67 L66.39,325.90 L66.74,326.30 Z" fill="#dadada"/>
<path d="M67.10,335.95 L67.35,337.06 L67.61,336.40 L67.92,334.12 L68.25,332.25 L68.63,329.92 L68.93,329.59 L69.16,330.34 L69.34,331.75 L69.51,332.93 L69.65,334.39 L70.00,333.42 L70.38,332.30 L71.04,329.06 L71.39,328.72 L71.97,326.78 L72.05,328.58 L72.31,329.11 L72.26,331.51 L72.39,332.67 L72.84,332.11 L73.14,332.46 L73.92,330.66 L75.05,327.60 L75.59,327.45 L75.84,328.56 L76.34,328.65 L76.26,330.80 L75.84,333.92 L76.19,334.27 L76.62,334.39 L77.60,332.89 L78.80,331.00 L79.42,330.84 L80.24,330.25 L79.88,332.54 L79.66,334.39 L79.73,335.48 L79.38,337.41 L79.79,337.70 L80.80,336.85 L81.89,336.00 L82.91,335.37 L83.33,335.88 L83.97,336.04 L83.77,337.54 L83.19,339.53 L82.54,341.49 L82.42,342.65 L83.19,342.64 L84.70,341.81 L85.98,341.42 L86.40,342.10 L86.78,342.86 L86.50,344.27 L85.87,345.95 L85.45,347.35 L84.96,348.73 L85.02,349.59 L86.99,349.11 L88.02,349.36 L89.29,349.52 L89.51,350.35 L89.47,351.30 L88.58,352.62 L88.04,353.69 L86.76,355.00 L87.47,355.45 L88.05,355.98 L90.09,356.10 L90.70,356.71 L91.72,357.26 L91.68,358.07 L91.13,358.95 L89.23,359.96 L88.73,360.70 L88.18,361.41 L88.89,362.03 L90.38,362.68 L92.33,363.45 L92.69,364.26 L93.32,365.14 L91.58,365.81 L91.15,366.58 L89.21,367.05 L88.31,367.62 L89.16,368.57 L90.29,369.66 L90.49,370.52 L91.80,371.77 L92.65,372.89 L91.52,373.22 L90.12,373.34 L88.40,373.21 L87.39,373.33 L87.77,374.15 L88.71,375.32 L89.72,376.61 L90.13,377.60 L90.00,378.30 L89.89,379.04 L89.23,379.41 L87.79,379.17 L86.30,378.82 L85.22,378.72 L85.60,379.90 L86.19,381.35 L87.08,383.19 L87.12,384.26 L87.48,385.70 L86.45,385.60 L84.42,384.19 L83.17,383.61 L82.70,384.00 L81.87,383.86 L82.59,385.96 L82.66,387.22 L83.02,389.04 L82.79,389.97 L81.66,389.32 L80.53,388.54 L79.24,387.33 L78.45,387.03 L77.82,387.03 L77.29,387.22 L77.70,389.80 L77.42,390.83 L77.04,391.64 L76.48,391.96 L75.78,391.78 L74.60,389.76 L73.72,388.51 L73.13,388.28 L72.70,388.71 L72.35,389.64 L71.99,390.66 L71.66,391.99 L71.20,392.62 L70.56,391.66 L69.91,389.88 L69.34,387.98 L68.94,386.95 L68.69,387.29 L68.49,387.82 L68.30,388.37 L68.18,390.39 L68.00,391.07 L67.78,390.44 L67.55,389.31 L67.32,387.79 L67.10,386.15 L66.89,386.14 L66.70,386.30 L66.50,387.36 L66.26,389.29 L66.02,390.39 L65.76,391.47 L65.57,390.49 L65.39,389.04 L65.19,387.92 L64.98,386.65 L64.54,387.55 L63.96,389.02 L63.32,390.25 L62.63,391.42 L61.94,392.17 L61.47,391.56 L61.06,390.75 L61.02,388.49 L60.78,387.35 L60.24,387.49 L59.32,388.80 L58.27,390.27 L57.23,391.46 L56.18,392.46 L55.90,391.32 L55.92,389.59 L55.73,388.48 L55.79,386.93 L55.69,385.87 L54.64,386.71 L53.70,387.22 L52.46,388.17 L51.27,388.89 L50.16,389.37 L50.83,387.11 L50.94,385.82 L51.46,384.04 L51.66,382.81 L50.98,382.73 L50.08,382.87 L48.02,384.26 L47.08,384.26 L46.10,384.23 L46.56,382.75 L46.84,381.51 L47.52,379.99 L47.85,378.85 L48.39,377.63 L47.33,377.66 L45.52,378.19 L44.10,378.37 L43.76,377.80 L43.24,377.36 L43.60,376.40 L45.07,374.88 L45.73,373.88 L46.11,373.05 L45.29,372.79 L44.58,372.42 L42.97,372.34 L42.21,371.83 L41.38,371.27 L42.38,370.11 L43.32,369.01 L44.76,367.87 L45.62,366.93 L45.80,366.16 L44.83,365.55 L43.13,364.95 L42.26,364.22 L41.93,363.45 L41.37,362.66 L43.09,361.93 L43.76,361.24 L45.31,360.68 L45.98,360.10 L44.98,359.26 L43.90,358.34 L43.41,357.48 L42.94,356.57 L42.50,355.61 L43.25,355.01 L44.97,354.80 L46.16,354.48 L47.40,354.24 L47.20,353.38 L46.91,352.44 L45.81,350.98 L45.13,349.66 L45.07,348.64 L45.77,348.10 L46.64,347.70 L48.66,348.26 L49.64,348.11 L49.94,347.41 L48.93,345.46 L48.62,344.08 L48.36,342.70 L47.45,340.53 L47.88,339.86 L48.97,340.07 L50.66,341.17 L51.47,341.22 L52.43,341.58 L52.55,340.77 L51.53,338.11 L51.02,336.13 L51.24,335.28 L51.02,333.63 L52.44,335.03 L53.36,335.60 L54.66,337.07 L55.31,337.31 L55.58,336.76 L55.09,334.39 L55.03,332.91 L54.90,331.17 L55.08,330.14 L55.62,330.10 L56.25,330.38 L57.38,332.29 L58.44,334.19 L58.66,333.33 L58.89,332.46 L58.91,330.69 L58.88,328.58 L59.04,327.11 L59.47,326.83 L60.27,328.47 L60.98,330.08 L61.69,332.03 L62.11,332.55 L62.42,332.54 L62.51,331.07 L62.55,329.14 L62.66,327.52 L63.04,328.03 L63.36,328.01 L63.92,330.60 L64.34,332.01 L64.75,333.65 L64.99,333.53 L65.22,333.20 L65.42,332.26 L65.63,331.13 L65.88,330.48 L66.19,331.00 L66.51,332.46 L66.83,335.34 Z" fill="#f4f4f4"/>
<g clip-path="url(#bc2)"><rect x="36.1" y="319.9" width="62.1" height="78.5" fill="#fff" filter="url(#gyri)"/></g>
<path d="M67.10,341.30 L67.31,341.25 L67.52,341.12 L67.73,340.91 L67.94,340.66 L68.14,340.37 L68.35,340.07 L68.57,339.77 L68.78,339.48 L69.00,339.24 L69.23,339.05 L69.46,338.89 L69.69,338.74 L69.93,338.61 L70.17,338.48 L70.41,338.37 L70.65,338.28 L70.91,338.21 L71.17,338.16 L71.44,338.14 L71.72,338.14 L72.01,338.18 L72.32,338.24 L72.64,338.33 L72.96,338.44 L73.29,338.57 L73.63,338.72 L73.96,338.89 L74.29,339.08 L74.61,339.28 L74.91,339.50 L75.21,339.73 L75.51,339.99 L75.80,340.27 L76.09,340.57 L76.38,340.88 L76.66,341.21 L76.94,341.55 L77.22,341.91 L77.49,342.28 L77.76,342.66 L78.02,343.05 L78.28,343.45 L78.54,343.87 L78.79,344.30 L79.04,344.74 L79.29,345.20 L79.53,345.67 L79.77,346.16 L80.01,346.66 L80.24,347.17 L80.47,347.70 L80.70,348.26 L80.92,348.84 L81.14,349.44 L81.35,350.04 L81.56,350.65 L81.77,351.26 L81.98,351.87 L82.18,352.46 L82.37,353.03 L82.57,353.59 L82.77,354.15 L82.97,354.69 L83.16,355.23 L83.35,355.77 L83.53,356.30 L83.71,356.84 L83.87,357.37 L84.02,357.91 L84.15,358.45 L84.27,358.99 L84.38,359.52 L84.47,360.06 L84.56,360.59 L84.64,361.13 L84.70,361.66 L84.76,362.20 L84.80,362.75 L84.84,363.30 L84.86,363.86 L84.87,364.44 L84.87,365.03 L84.87,365.63 L84.85,366.24 L84.82,366.85 L84.77,367.46 L84.72,368.05 L84.66,368.63 L84.59,369.19 L84.50,369.73 L84.41,370.23 L84.31,370.72 L84.19,371.18 L84.06,371.63 L83.93,372.07 L83.78,372.50 L83.62,372.93 L83.45,373.36 L83.27,373.79 L83.08,374.24 L82.88,374.70 L82.67,375.16 L82.45,375.64 L82.22,376.11 L81.97,376.58 L81.72,377.04 L81.46,377.50 L81.18,377.94 L80.89,378.36 L80.60,378.75 L80.29,379.13 L79.97,379.50 L79.63,379.86 L79.29,380.20 L78.93,380.53 L78.57,380.84 L78.20,381.14 L77.82,381.42 L77.43,381.67 L77.05,381.91 L76.65,382.13 L76.23,382.33 L75.81,382.51 L75.37,382.67 L74.94,382.81 L74.50,382.94 L74.06,383.05 L73.62,383.14 L73.20,383.21 L72.78,383.26 L72.37,383.30 L71.94,383.30 L71.52,383.28 L71.09,383.25 L70.67,383.19 L70.27,383.13 L69.88,383.05 L69.52,382.98 L69.18,382.89 L68.88,382.81 L68.61,382.72 L68.38,382.59 L68.19,382.45 L68.01,382.30 L67.85,382.15 L67.71,382.01 L67.57,381.88 L67.42,381.78 L67.27,381.71 L67.10,381.68 L66.93,381.71 L66.78,381.78 L66.63,381.88 L66.49,382.01 L66.35,382.15 L66.19,382.30 L66.01,382.45 L65.82,382.59 L65.59,382.72 L65.32,382.81 L65.02,382.89 L64.68,382.98 L64.32,383.05 L63.93,383.13 L63.53,383.19 L63.11,383.25 L62.68,383.28 L62.26,383.30 L61.83,383.30 L61.42,383.26 L61.00,383.21 L60.58,383.14 L60.14,383.05 L59.70,382.94 L59.26,382.81 L58.83,382.67 L58.39,382.51 L57.97,382.33 L57.55,382.13 L57.15,381.91 L56.77,381.67 L56.38,381.42 L56.00,381.14 L55.63,380.84 L55.27,380.53 L54.91,380.20 L54.57,379.86 L54.23,379.50 L53.91,379.13 L53.60,378.75 L53.31,378.36 L53.02,377.94 L52.74,377.50 L52.48,377.04 L52.23,376.58 L51.98,376.11 L51.75,375.64 L51.53,375.16 L51.32,374.70 L51.12,374.24 L50.93,373.79 L50.75,373.36 L50.58,372.93 L50.42,372.50 L50.27,372.07 L50.14,371.63 L50.01,371.18 L49.89,370.72 L49.79,370.23 L49.70,369.73 L49.61,369.19 L49.54,368.63 L49.48,368.05 L49.43,367.46 L49.38,366.85 L49.35,366.24 L49.33,365.63 L49.33,365.03 L49.33,364.44 L49.34,363.86 L49.36,363.30 L49.40,362.75 L49.44,362.20 L49.50,361.66 L49.56,361.13 L49.64,360.59 L49.73,360.06 L49.82,359.52 L49.93,358.99 L50.05,358.45 L50.18,357.91 L50.33,357.37 L50.49,356.84 L50.67,356.30 L50.85,355.77 L51.04,355.23 L51.23,354.69 L51.43,354.15 L51.63,353.59 L51.83,353.03 L52.02,352.46 L52.22,351.87 L52.43,351.26 L52.64,350.65 L52.85,350.04 L53.06,349.44 L53.28,348.84 L53.50,348.26 L53.73,347.70 L53.96,347.17 L54.19,346.66 L54.43,346.16 L54.67,345.67 L54.91,345.20 L55.16,344.74 L55.41,344.30 L55.66,343.87 L55.92,343.45 L56.18,343.05 L56.44,342.66 L56.71,342.28 L56.98,341.91 L57.26,341.55 L57.54,341.21 L57.82,340.88 L58.11,340.57 L58.40,340.27 L58.69,339.99 L58.99,339.73 L59.29,339.50 L59.59,339.28 L59.91,339.08 L60.24,338.89 L60.57,338.72 L60.91,338.57 L61.24,338.44 L61.56,338.33 L61.88,338.24 L62.19,338.18 L62.48,338.14 L62.76,338.14 L63.03,338.16 L63.29,338.21 L63.55,338.28 L63.79,338.37 L64.03,338.48 L64.27,338.61 L64.51,338.74 L64.74,338.89 L64.97,339.05 L65.20,339.24 L65.42,339.48 L65.63,339.77 L65.85,340.07 L66.06,340.37 L66.26,340.66 L66.47,340.91 L66.68,341.12 L66.89,341.25 Z" fill="#f2f2f2" opacity="0.5" filter="url(#rb2)"/>
<path d="M67.10,326.76 Q68.91,329.28 67.10,331.81" stroke="#505050" stroke-width="0.36" fill="none" stroke-linecap="round"/>
<path d="M68.13,326.85 Q69.72,329.88 67.96,332.81" stroke="#505050" stroke-width="0.52" fill="none" stroke-linecap="round"/>
<path d="M70.30,323.14 Q67.63,328.81 69.36,334.84" stroke="#505050" stroke-width="0.54" fill="none" stroke-linecap="round"/>
<path d="M72.19,322.31 Q73.20,325.02 71.55,327.39" stroke="#505050" stroke-width="0.58" fill="none" stroke-linecap="round"/>
<path d="M73.96,321.17 Q72.13,324.24 72.88,327.74" stroke="#505050" stroke-width="0.46" fill="none" stroke-linecap="round"/>
<path d="M76.25,322.23 Q76.71,326.12 74.63,329.43" stroke="#505050" stroke-width="0.37" fill="none" stroke-linecap="round"/>
<path d="M79.13,322.98 Q75.04,328.10 75.62,334.63" stroke="#505050" stroke-width="0.54" fill="none" stroke-linecap="round"/>
<path d="M81.60,325.17 Q81.17,329.02 78.91,332.17" stroke="#505050" stroke-width="0.58" fill="none" stroke-linecap="round"/>
<path d="M83.64,326.97 Q83.76,332.27 79.66,335.63" stroke="#505050" stroke-width="0.41" fill="none" stroke-linecap="round"/>
<path d="M85.64,330.61 Q82.04,333.95 80.98,338.75" stroke="#505050" stroke-width="0.54" fill="none" stroke-linecap="round"/>
<path d="M87.67,333.00 Q84.42,334.93 83.79,338.65" stroke="#505050" stroke-width="0.60" fill="none" stroke-linecap="round"/>
<path d="M89.18,337.76 Q87.09,339.39 85.76,341.67" stroke="#505050" stroke-width="0.48" fill="none" stroke-linecap="round"/>
<path d="M91.21,341.11 Q89.57,343.20 87.32,344.64" stroke="#505050" stroke-width="0.50" fill="none" stroke-linecap="round"/>
<path d="M92.23,346.63 Q88.61,347.04 86.77,350.18" stroke="#505050" stroke-width="0.54" fill="none" stroke-linecap="round"/>
<path d="M94.45,350.86 Q92.36,353.34 89.11,353.22" stroke="#505050" stroke-width="0.53" fill="none" stroke-linecap="round"/>
<path d="M95.33,355.49 Q93.15,355.89 91.06,356.62" stroke="#505050" stroke-width="0.50" fill="none" stroke-linecap="round"/>
<path d="M96.41,359.90 Q93.73,360.85 90.90,360.47" stroke="#505050" stroke-width="0.44" fill="none" stroke-linecap="round"/>
<path d="M96.73,364.47 Q94.07,364.32 91.41,364.20" stroke="#505050" stroke-width="0.46" fill="none" stroke-linecap="round"/>
<path d="M97.18,367.48 Q94.13,368.11 91.41,366.62" stroke="#505050" stroke-width="0.43" fill="none" stroke-linecap="round"/>
<path d="M95.96,372.29 Q93.81,369.92 90.68,370.58" stroke="#505050" stroke-width="0.42" fill="none" stroke-linecap="round"/>
<path d="M95.90,376.81 Q92.30,375.52 89.04,373.51" stroke="#505050" stroke-width="0.48" fill="none" stroke-linecap="round"/>
<path d="M94.14,380.16 Q92.69,378.45 90.54,377.86" stroke="#505050" stroke-width="0.38" fill="none" stroke-linecap="round"/>
<path d="M93.42,383.59 Q91.14,379.30 86.43,378.11" stroke="#505050" stroke-width="0.52" fill="none" stroke-linecap="round"/>
<path d="M90.75,386.91 Q87.77,385.14 86.04,382.14" stroke="#505050" stroke-width="0.56" fill="none" stroke-linecap="round"/>
<path d="M89.45,390.36 Q88.16,387.86 85.97,386.10" stroke="#505050" stroke-width="0.51" fill="none" stroke-linecap="round"/>
<path d="M85.50,393.10 Q85.26,388.98 81.71,386.89" stroke="#505050" stroke-width="0.46" fill="none" stroke-linecap="round"/>
<path d="M82.34,395.28 Q80.76,392.27 79.44,389.12" stroke="#505050" stroke-width="0.44" fill="none" stroke-linecap="round"/>
<path d="M79.31,395.95 Q76.72,392.12 76.20,387.53" stroke="#505050" stroke-width="0.48" fill="none" stroke-linecap="round"/>
<path d="M75.93,397.05 Q75.67,393.29 74.07,389.88" stroke="#505050" stroke-width="0.50" fill="none" stroke-linecap="round"/>
<path d="M72.37,396.50 Q71.11,393.54 71.40,390.33" stroke="#505050" stroke-width="0.36" fill="none" stroke-linecap="round"/>
<path d="M69.62,395.84 Q68.85,391.56 68.96,387.22" stroke="#505050" stroke-width="0.59" fill="none" stroke-linecap="round"/>
<path d="M68.12,394.87 Q69.33,392.48 67.97,390.17" stroke="#505050" stroke-width="0.46" fill="none" stroke-linecap="round"/>
<path d="M67.38,394.62 Q67.03,391.99 67.34,389.35" stroke="#505050" stroke-width="0.36" fill="none" stroke-linecap="round"/>
<path d="M66.34,393.95 Q65.67,391.74 66.44,389.58" stroke="#505050" stroke-width="0.39" fill="none" stroke-linecap="round"/>
<path d="M64.93,396.20 Q64.74,391.69 65.51,387.24" stroke="#505050" stroke-width="0.47" fill="none" stroke-linecap="round"/>
<path d="M61.84,396.45 Q61.17,391.41 63.35,386.81" stroke="#505050" stroke-width="0.41" fill="none" stroke-linecap="round"/>
<path d="M58.32,396.85 Q61.32,392.50 60.81,387.23" stroke="#505050" stroke-width="0.48" fill="none" stroke-linecap="round"/>
<path d="M55.59,396.17 Q58.12,394.18 57.37,391.06" stroke="#505050" stroke-width="0.54" fill="none" stroke-linecap="round"/>
<path d="M51.81,395.38 Q52.89,390.68 55.82,386.87" stroke="#505050" stroke-width="0.48" fill="none" stroke-linecap="round"/>
<path d="M48.62,393.24 Q50.33,391.39 51.20,389.01" stroke="#505050" stroke-width="0.40" fill="none" stroke-linecap="round"/>
<path d="M45.72,390.44 Q49.09,387.08 51.52,382.99" stroke="#505050" stroke-width="0.46" fill="none" stroke-linecap="round"/>
<path d="M44.45,388.24 Q46.39,385.22 49.18,382.96" stroke="#505050" stroke-width="0.45" fill="none" stroke-linecap="round"/>
<path d="M41.60,385.14 Q45.30,382.04 48.88,378.81" stroke="#505050" stroke-width="0.49" fill="none" stroke-linecap="round"/>
<path d="M39.78,380.33 Q43.73,378.05 47.47,375.45" stroke="#505050" stroke-width="0.49" fill="none" stroke-linecap="round"/>
<path d="M38.66,377.49 Q42.02,377.50 43.98,374.78" stroke="#505050" stroke-width="0.36" fill="none" stroke-linecap="round"/>
<path d="M38.02,373.33 Q41.29,372.64 44.27,371.10" stroke="#505050" stroke-width="0.60" fill="none" stroke-linecap="round"/>
<path d="M37.28,369.51 Q40.40,369.95 43.05,368.24" stroke="#505050" stroke-width="0.54" fill="none" stroke-linecap="round"/>
<path d="M37.69,364.45 Q41.55,364.89 45.33,364.07" stroke="#505050" stroke-width="0.57" fill="none" stroke-linecap="round"/>
<path d="M37.79,359.90 Q40.58,359.43 43.22,360.46" stroke="#505050" stroke-width="0.37" fill="none" stroke-linecap="round"/>
<path d="M38.80,357.33 Q40.29,359.31 42.42,358.05" stroke="#505050" stroke-width="0.39" fill="none" stroke-linecap="round"/>
<path d="M39.51,351.79 Q40.88,354.13 43.49,353.40" stroke="#505050" stroke-width="0.48" fill="none" stroke-linecap="round"/>
<path d="M41.35,348.47 Q44.18,351.53 48.27,352.37" stroke="#505050" stroke-width="0.59" fill="none" stroke-linecap="round"/>
<path d="M42.38,343.25 Q44.38,345.62 47.13,347.04" stroke="#505050" stroke-width="0.42" fill="none" stroke-linecap="round"/>
<path d="M44.62,338.66 Q46.65,342.33 50.15,344.64" stroke="#505050" stroke-width="0.56" fill="none" stroke-linecap="round"/>
<path d="M46.29,334.02 Q47.18,337.14 49.85,338.98" stroke="#505050" stroke-width="0.46" fill="none" stroke-linecap="round"/>
<path d="M48.26,331.51 Q48.96,333.73 50.59,335.40" stroke="#505050" stroke-width="0.44" fill="none" stroke-linecap="round"/>
<path d="M49.50,327.92 Q51.69,331.39 53.16,335.21" stroke="#505050" stroke-width="0.43" fill="none" stroke-linecap="round"/>
<path d="M52.67,325.34 Q54.10,329.47 55.80,333.50" stroke="#505050" stroke-width="0.60" fill="none" stroke-linecap="round"/>
<path d="M55.11,323.10 Q54.37,327.10 57.19,330.02" stroke="#505050" stroke-width="0.43" fill="none" stroke-linecap="round"/>
<path d="M57.85,321.81 Q59.35,324.29 59.06,327.17" stroke="#505050" stroke-width="0.58" fill="none" stroke-linecap="round"/>
<path d="M59.83,321.35 Q62.20,326.23 61.62,331.63" stroke="#505050" stroke-width="0.38" fill="none" stroke-linecap="round"/>
<path d="M62.00,322.25 Q63.92,324.73 62.67,327.62" stroke="#505050" stroke-width="0.46" fill="none" stroke-linecap="round"/>
<path d="M63.93,323.49 Q61.96,328.46 64.70,333.05" stroke="#505050" stroke-width="0.54" fill="none" stroke-linecap="round"/>
<path d="M65.37,325.56 Q66.44,330.83 65.86,336.18" stroke="#505050" stroke-width="0.36" fill="none" stroke-linecap="round"/>
<path d="M67.10,326.76 L67.45,327.10 L67.79,327.16 L68.13,326.85 L68.48,326.18 L68.84,325.28 L69.21,324.35 L69.59,323.62 L69.95,323.21 L70.30,323.14 L70.64,323.29 L70.98,323.42 L71.35,323.32 L71.75,322.93 L72.19,322.31 L72.66,321.64 L73.12,321.15 L73.56,320.98 L73.96,321.17 L74.33,321.59 L74.71,322.07 L75.14,322.38 L75.65,322.43 L76.25,322.23 L76.91,321.93 L77.57,321.74 L78.17,321.83 L78.69,322.27 L79.13,322.98 L79.52,323.78 L79.92,324.48 L80.39,324.93 L80.95,325.13 L81.60,325.17 L82.25,325.24 L82.83,325.52 L83.30,326.11 L83.64,326.97 L83.91,327.98 L84.18,328.95 L84.54,329.73 L85.03,330.26 L85.64,330.61 L86.29,330.92 L86.89,331.37 L87.36,332.06 L87.67,333.00 L87.85,334.11 L88.01,335.24 L88.25,336.25 L88.64,337.08 L89.18,337.76 L89.82,338.40 L90.43,339.13 L90.91,340.02 L91.21,341.11 L91.35,342.33 L91.41,343.58 L91.51,344.75 L91.78,345.77 L92.23,346.63 L92.83,347.38 L93.46,348.13 L93.99,348.95 L94.33,349.86 L94.45,350.86 L94.44,351.88 L94.43,352.88 L94.55,353.81 L94.86,354.67 L95.33,355.49 L95.87,356.30 L96.32,357.15 L96.58,358.04 L96.59,358.96 L96.41,359.90 L96.18,360.82 L96.04,361.72 L96.09,362.62 L96.35,363.53 L96.73,364.47 L97.07,365.45 L97.25,366.47 L97.18,367.48 L96.89,368.47 L96.49,369.42 L96.13,370.35 L95.94,371.30 L95.96,372.29 L96.14,373.31 L96.34,374.33 L96.42,375.28 L96.28,376.11 L95.90,376.81 L95.37,377.41 L94.83,377.97 L94.41,378.58 L94.19,379.31 L94.14,380.16 L94.16,381.09 L94.11,382.02 L93.88,382.87 L93.42,383.59 L92.80,384.18 L92.11,384.71 L91.49,385.30 L91.04,386.02 L90.75,386.91 L90.55,387.90 L90.34,388.89 L89.99,389.74 L89.45,390.36 L88.73,390.76 L87.92,391.03 L87.14,391.31 L86.47,391.71 L85.93,392.32 L85.50,393.10 L85.08,393.93 L84.59,394.64 L83.97,395.11 L83.21,395.30 L82.34,395.28 L81.47,395.21 L80.65,395.24 L79.94,395.49 L79.31,395.95 L78.72,396.52 L78.11,397.02 L77.45,397.31 L76.72,397.31 L75.93,397.05 L75.13,396.66 L74.35,396.31 L73.64,396.17 L72.98,396.25 L72.37,396.50 L71.78,396.77 L71.19,396.88 L70.62,396.75 L70.09,396.37 L69.62,395.84 L69.21,395.28 L68.88,394.87 L68.60,394.70 L68.35,394.73 L68.12,394.87 L67.89,394.96 L67.64,394.88 L67.38,394.62 L67.10,394.26 L66.82,393.93 L66.57,393.80 L66.34,393.95 L66.10,394.37 L65.84,394.97 L65.56,395.58 L65.26,396.02 L64.93,396.20 L64.56,396.13 L64.15,395.90 L63.69,395.70 L63.15,395.72 L62.53,395.99 L61.84,396.45 L61.09,396.96 L60.34,397.32 L59.61,397.42 L58.94,397.24 L58.32,396.85 L57.73,396.42 L57.11,396.12 L56.40,396.04 L55.59,396.17 L54.72,396.39 L53.86,396.51 L53.06,396.40 L52.38,396.00 L51.81,395.38 L51.31,394.67 L50.79,394.04 L50.18,393.60 L49.44,393.36 L48.62,393.24 L47.78,393.08 L47.04,392.75 L46.45,392.17 L46.03,391.36 L45.72,390.44 L45.41,389.55 L45.01,388.81 L44.45,388.24 L43.75,387.79 L43.01,387.35 L42.35,386.80 L41.87,386.06 L41.60,385.14 L41.48,384.12 L41.41,383.10 L41.25,382.19 L40.91,381.44 L40.39,380.85 L39.78,380.33 L39.21,379.79 L38.80,379.15 L38.63,378.37 L38.66,377.49 L38.79,376.58 L38.86,375.69 L38.77,374.87 L38.46,374.10 L38.02,373.33 L37.56,372.51 L37.23,371.59 L37.14,370.58 L37.28,369.51 L37.57,368.42 L37.86,367.36 L38.00,366.35 L37.94,365.38 L37.69,364.45 L37.38,363.53 L37.16,362.61 L37.14,361.68 L37.37,360.77 L37.79,359.90 L38.25,359.05 L38.62,358.20 L38.80,357.33 L38.79,356.41 L38.66,355.43 L38.57,354.44 L38.66,353.48 L38.98,352.59 L39.51,351.79 L40.14,351.03 L40.72,350.27 L41.13,349.43 L41.35,348.47 L41.41,347.41 L41.44,346.28 L41.56,345.17 L41.87,344.15 L42.38,343.25 L43.00,342.45 L43.61,341.68 L44.11,340.82 L44.44,339.81 L44.62,338.66 L44.73,337.43 L44.89,336.27 L45.20,335.30 L45.68,334.56 L46.29,334.02 L46.93,333.58 L47.51,333.08 L47.96,332.41 L48.26,331.51 L48.48,330.46 L48.70,329.42 L49.03,328.53 L49.50,327.92 L50.10,327.57 L50.75,327.39 L51.38,327.20 L51.91,326.82 L52.33,326.19 L52.67,325.34 L52.99,324.42 L53.36,323.64 L53.84,323.16 L54.44,323.01 L55.11,323.10 L55.78,323.24 L56.41,323.25 L56.95,322.99 L57.42,322.46 L57.85,321.81 L58.29,321.23 L58.77,320.92 L59.29,320.97 L59.83,321.35 L60.36,321.87 L60.85,322.33 L61.28,322.56 L61.66,322.50 L62.00,322.25 L62.34,321.99 L62.70,321.92 L63.10,322.16 L63.51,322.71 L63.93,323.49 L64.33,324.32 L64.70,324.99 L65.04,325.40 L65.37,325.56 L65.70,325.60 L66.04,325.67 L66.39,325.90 L66.74,326.30 Z" fill="none" stroke="#555" stroke-width="0.6"/>
<line x1="67.10" y1="326.86" x2="67.10" y2="336.64" stroke="#333" stroke-width="0.9" />
<line x1="67.10" y1="381.76" x2="67.10" y2="394.17" stroke="#333" stroke-width="0.9" />
<ellipse cx="58.22" cy="355.44" rx="5.92" ry="10.53" fill="#b9b9b9"/>
<ellipse cx="61.77" cy="359.20" rx="4.14" ry="6.77" fill="#c4c4c4"/>
<ellipse cx="75.98" cy="355.44" rx="5.92" ry="10.53" fill="#b9b9b9"/>
<ellipse cx="72.43" cy="359.20" rx="4.14" ry="6.77" fill="#c4c4c4"/>
<path d="M49.34,345.66 Q45.79,353.18 48.75,362.96" stroke="#444" stroke-width="1.1" fill="none"/>
<path d="M84.86,345.66 Q88.41,353.18 85.45,362.96" stroke="#444" stroke-width="1.1" fill="none"/>
<path d="M61.18,339.65 Q67.10,345.66 73.02,339.65 L68.88,346.42 L68.88,353.94 L65.32,353.94 L65.32,346.42 Z" fill="#f4f4f4" stroke="#333" stroke-width="0.8"/>
<path d="M54.08,374.24 Q67.10,366.72 80.12,374.24" stroke="#555" stroke-width="1" fill="none"/>
<ellipse cx="67.10" cy="383.26" rx="11.84" ry="7.52" fill="#b0b0b0"/>
<line x1="57.04" y1="378.75" x2="57.95" y2="387.78" stroke="#555" stroke-width="0.6" />
<line x1="60.00" y1="378.75" x2="60.76" y2="387.78" stroke="#555" stroke-width="0.6" />
<line x1="62.96" y1="378.75" x2="63.28" y2="387.78" stroke="#555" stroke-width="0.6" />
<line x1="65.92" y1="378.75" x2="65.88" y2="387.78" stroke="#555" stroke-width="0.6" />
<line x1="68.88" y1="378.75" x2="68.28" y2="387.78" stroke="#555" stroke-width="0.6" />
<line x1="71.84" y1="378.75" x2="71.27" y2="387.78" stroke="#555" stroke-width="0.6" />
<line x1="74.80" y1="378.75" x2="73.93" y2="387.78" stroke="#555" stroke-width="0.6" />
<line x1="77.76" y1="378.75" x2="76.94" y2="387.78" stroke="#555" stroke-width="0.6" />
<g transform="rotate(0 61.85 386.00)" filter="url(#rb)">
<rect x="55.30" y="375.80" width="13.10" height="20.40" rx="2.5" fill="#344a72" stroke="#1f3564" stroke-width="1.5"/>
<rect x="57.70" y="378.80" width="8.30" height="15.40" rx="1.5" fill="#8c8a68"/>
<rect x="58.90" y="382.94" width="5.90" height="10.20" rx="1" fill="#dccd52"/>
</g>
<ellipse cx="128.56" cy="297.00" rx="9.45" ry="9.50" fill="#c4c4c4" stroke="#555" stroke-width="0.6"/>
<path d="M120.53,292.30 Q128.56,290.10 136.59,292.30" stroke="#6a6a6a" stroke-width="0.55" fill="none"/>
<path d="M120.53,295.44 Q128.56,293.24 136.59,295.44" stroke="#6a6a6a" stroke-width="0.55" fill="none"/>
<path d="M120.53,298.57 Q128.56,296.37 136.59,298.57" stroke="#6a6a6a" stroke-width="0.55" fill="none"/>
<path d="M120.53,301.71 Q128.56,299.51 136.59,301.71" stroke="#6a6a6a" stroke-width="0.55" fill="none"/>
<path d="M120.53,304.84 Q128.56,302.64 136.59,304.84" stroke="#6a6a6a" stroke-width="0.55" fill="none"/>
<ellipse cx="147.84" cy="297.00" rx="9.45" ry="9.50" fill="#c4c4c4" stroke="#555" stroke-width="0.6"/>
<path d="M139.81,292.30 Q147.84,290.10 155.87,292.30" stroke="#6a6a6a" stroke-width="0.55" fill="none"/>
<path d="M139.81,295.44 Q147.84,293.24 155.87,295.44" stroke="#6a6a6a" stroke-width="0.55" fill="none"/>
<path d="M139.81,298.57 Q147.84,296.37 155.87,298.57" stroke="#6a6a6a" stroke-width="0.55" fill="none"/>
<path d="M139.81,301.71 Q147.84,299.51 155.87,301.71" stroke="#6a6a6a" stroke-width="0.55" fill="none"/>
<path d="M139.81,304.84 Q147.84,302.64 155.87,304.84" stroke="#6a6a6a" stroke-width="0.55" fill="none"/>
<clipPath id="bc3"><path d="M138.25,262.76 L138.41,262.73 L138.56,262.66 L138.70,262.54 L138.83,262.37 L138.97,262.15 L139.12,261.86 L139.28,261.53 L139.46,261.16 L139.68,260.80 L139.92,260.47 L140.20,260.20 L140.50,260.00 L140.82,259.87 L141.14,259.83 L141.46,259.87 L141.78,259.95 L142.11,260.05 L142.45,260.14 L142.80,260.19 L143.17,260.18 L143.57,260.11 L144.00,260.02 L144.46,259.91 L144.93,259.84 L145.40,259.81 L145.85,259.86 L146.27,259.98 L146.65,260.17 L147.01,260.39 L147.36,260.63 L147.71,260.85 L148.09,261.02 L148.52,261.13 L148.99,261.20 L149.50,261.24 L150.02,261.27 L150.54,261.32 L151.02,261.43 L151.44,261.60 L151.80,261.85 L152.09,262.16 L152.34,262.50 L152.58,262.85 L152.82,263.20 L153.10,263.50 L153.43,263.77 L153.82,264.01 L154.24,264.23 L154.69,264.46 L155.11,264.72 L155.50,265.03 L155.81,265.41 L156.04,265.85 L156.20,266.33 L156.31,266.84 L156.40,267.36 L156.51,267.87 L156.67,268.36 L156.89,268.82 L157.19,269.26 L157.54,269.69 L157.91,270.14 L158.28,270.62 L158.59,271.13 L158.81,271.66 L158.94,272.22 L158.97,272.79 L158.94,273.35 L158.87,273.91 L158.81,274.44 L158.78,274.97 L158.81,275.49 L158.90,276.01 L159.03,276.54 L159.17,277.07 L159.27,277.62 L159.31,278.16 L159.25,278.69 L159.10,279.21 L158.87,279.71 L158.60,280.19 L158.30,280.67 L158.03,281.15 L157.81,281.63 L157.67,282.14 L157.58,282.66 L157.54,283.20 L157.51,283.74 L157.45,284.27 L157.32,284.76 L157.12,285.21 L156.83,285.61 L156.48,285.96 L156.08,286.28 L155.66,286.57 L155.26,286.86 L154.90,287.17 L154.57,287.50 L154.29,287.87 L154.01,288.26 L153.71,288.66 L153.35,289.03 L152.92,289.36 L152.40,289.63 L151.80,289.83 L151.14,289.96 L150.46,290.04 L149.77,290.10 L149.11,290.15 L148.49,290.23 L147.90,290.35 L147.33,290.50 L146.75,290.68 L146.16,290.85 L145.55,291.00 L144.92,291.10 L144.28,291.12 L143.63,291.08 L143.01,290.97 L142.42,290.82 L141.89,290.64 L141.41,290.46 L140.97,290.30 L140.56,290.18 L140.18,290.11 L139.81,290.09 L139.44,290.10 L139.06,290.11 L138.66,290.12 L138.25,290.12 L137.84,290.11 L137.44,290.09 L137.06,290.07 L136.69,290.07 L136.32,290.10 L135.94,290.17 L135.53,290.30 L135.09,290.48 L134.60,290.67 L134.07,290.85 L133.48,290.99 L132.86,291.09 L132.22,291.12 L131.59,291.08 L130.96,290.98 L130.36,290.82 L129.77,290.65 L129.19,290.48 L128.60,290.34 L128.00,290.24 L127.38,290.17 L126.71,290.12 L126.02,290.07 L125.34,289.99 L124.69,289.85 L124.10,289.63 L123.60,289.35 L123.17,289.01 L122.82,288.63 L122.52,288.24 L122.23,287.86 L121.93,287.50 L121.60,287.17 L121.22,286.87 L120.81,286.59 L120.39,286.30 L119.99,285.98 L119.65,285.62 L119.38,285.21 L119.20,284.75 L119.08,284.25 L119.03,283.72 L119.00,283.18 L118.94,282.65 L118.84,282.13 L118.68,281.64 L118.44,281.15 L118.16,280.68 L117.86,280.20 L117.59,279.72 L117.38,279.22 L117.25,278.69 L117.21,278.16 L117.26,277.61 L117.38,277.07 L117.51,276.53 L117.63,276.01 L117.70,275.49 L117.71,274.97 L117.67,274.44 L117.59,273.90 L117.52,273.35 L117.49,272.78 L117.54,272.22 L117.69,271.66 L117.93,271.13 L118.25,270.63 L118.62,270.15 L119.00,269.70 L119.34,269.27 L119.62,268.82 L119.82,268.35 L119.97,267.86 L120.07,267.35 L120.16,266.82 L120.27,266.31 L120.44,265.84 L120.69,265.41 L121.02,265.04 L121.41,264.74 L121.85,264.48 L122.29,264.26 L122.71,264.03 L123.08,263.78 L123.39,263.50 L123.66,263.18 L123.90,262.83 L124.13,262.47 L124.38,262.13 L124.69,261.84 L125.06,261.60 L125.49,261.44 L125.98,261.34 L126.50,261.29 L127.02,261.26 L127.52,261.22 L127.98,261.14 L128.40,261.01 L128.78,260.83 L129.13,260.60 L129.47,260.36 L129.83,260.14 L130.22,259.97 L130.65,259.86 L131.10,259.83 L131.58,259.86 L132.05,259.95 L132.51,260.05 L132.94,260.13 L133.33,260.18 L133.70,260.18 L134.05,260.12 L134.38,260.02 L134.71,259.92 L135.04,259.84 L135.36,259.82 L135.68,259.87 L136.00,260.01 L136.30,260.23 L136.58,260.50 L136.83,260.82 L137.04,261.18 L137.22,261.54 L137.38,261.86 L137.53,262.13 L137.67,262.34 L137.80,262.51 L137.94,262.64 L138.09,262.72 Z"/></clipPath>
<path d="M138.25,262.76 L138.41,262.73 L138.56,262.66 L138.70,262.54 L138.83,262.37 L138.97,262.15 L139.12,261.86 L139.28,261.53 L139.46,261.16 L139.68,260.80 L139.92,260.47 L140.20,260.20 L140.50,260.00 L140.82,259.87 L141.14,259.83 L141.46,259.87 L141.78,259.95 L142.11,260.05 L142.45,260.14 L142.80,260.19 L143.17,260.18 L143.57,260.11 L144.00,260.02 L144.46,259.91 L144.93,259.84 L145.40,259.81 L145.85,259.86 L146.27,259.98 L146.65,260.17 L147.01,260.39 L147.36,260.63 L147.71,260.85 L148.09,261.02 L148.52,261.13 L148.99,261.20 L149.50,261.24 L150.02,261.27 L150.54,261.32 L151.02,261.43 L151.44,261.60 L151.80,261.85 L152.09,262.16 L152.34,262.50 L152.58,262.85 L152.82,263.20 L153.10,263.50 L153.43,263.77 L153.82,264.01 L154.24,264.23 L154.69,264.46 L155.11,264.72 L155.50,265.03 L155.81,265.41 L156.04,265.85 L156.20,266.33 L156.31,266.84 L156.40,267.36 L156.51,267.87 L156.67,268.36 L156.89,268.82 L157.19,269.26 L157.54,269.69 L157.91,270.14 L158.28,270.62 L158.59,271.13 L158.81,271.66 L158.94,272.22 L158.97,272.79 L158.94,273.35 L158.87,273.91 L158.81,274.44 L158.78,274.97 L158.81,275.49 L158.90,276.01 L159.03,276.54 L159.17,277.07 L159.27,277.62 L159.31,278.16 L159.25,278.69 L159.10,279.21 L158.87,279.71 L158.60,280.19 L158.30,280.67 L158.03,281.15 L157.81,281.63 L157.67,282.14 L157.58,282.66 L157.54,283.20 L157.51,283.74 L157.45,284.27 L157.32,284.76 L157.12,285.21 L156.83,285.61 L156.48,285.96 L156.08,286.28 L155.66,286.57 L155.26,286.86 L154.90,287.17 L154.57,287.50 L154.29,287.87 L154.01,288.26 L153.71,288.66 L153.35,289.03 L152.92,289.36 L152.40,289.63 L151.80,289.83 L151.14,289.96 L150.46,290.04 L149.77,290.10 L149.11,290.15 L148.49,290.23 L147.90,290.35 L147.33,290.50 L146.75,290.68 L146.16,290.85 L145.55,291.00 L144.92,291.10 L144.28,291.12 L143.63,291.08 L143.01,290.97 L142.42,290.82 L141.89,290.64 L141.41,290.46 L140.97,290.30 L140.56,290.18 L140.18,290.11 L139.81,290.09 L139.44,290.10 L139.06,290.11 L138.66,290.12 L138.25,290.12 L137.84,290.11 L137.44,290.09 L137.06,290.07 L136.69,290.07 L136.32,290.10 L135.94,290.17 L135.53,290.30 L135.09,290.48 L134.60,290.67 L134.07,290.85 L133.48,290.99 L132.86,291.09 L132.22,291.12 L131.59,291.08 L130.96,290.98 L130.36,290.82 L129.77,290.65 L129.19,290.48 L128.60,290.34 L128.00,290.24 L127.38,290.17 L126.71,290.12 L126.02,290.07 L125.34,289.99 L124.69,289.85 L124.10,289.63 L123.60,289.35 L123.17,289.01 L122.82,288.63 L122.52,288.24 L122.23,287.86 L121.93,287.50 L121.60,287.17 L121.22,286.87 L120.81,286.59 L120.39,286.30 L119.99,285.98 L119.65,285.62 L119.38,285.21 L119.20,284.75 L119.08,284.25 L119.03,283.72 L119.00,283.18 L118.94,282.65 L118.84,282.13 L118.68,281.64 L118.44,281.15 L118.16,280.68 L117.86,280.20 L117.59,279.72 L117.38,279.22 L117.25,278.69 L117.21,278.16 L117.26,277.61 L117.38,277.07 L117.51,276.53 L117.63,276.01 L117.70,275.49 L117.71,274.97 L117.67,274.44 L117.59,273.90 L117.52,273.35 L117.49,272.78 L117.54,272.22 L117.69,271.66 L117.93,271.13 L118.25,270.63 L118.62,270.15 L119.00,269.70 L119.34,269.27 L119.62,268.82 L119.82,268.35 L119.97,267.86 L120.07,267.35 L120.16,266.82 L120.27,266.31 L120.44,265.84 L120.69,265.41 L121.02,265.04 L121.41,264.74 L121.85,264.48 L122.29,264.26 L122.71,264.03 L123.08,263.78 L123.39,263.50 L123.66,263.18 L123.90,262.83 L124.13,262.47 L124.38,262.13 L124.69,261.84 L125.06,261.60 L125.49,261.44 L125.98,261.34 L126.50,261.29 L127.02,261.26 L127.52,261.22 L127.98,261.14 L128.40,261.01 L128.78,260.83 L129.13,260.60 L129.47,260.36 L129.83,260.14 L130.22,259.97 L130.65,259.86 L131.10,259.83 L131.58,259.86 L132.05,259.95 L132.51,260.05 L132.94,260.13 L133.33,260.18 L133.70,260.18 L134.05,260.12 L134.38,260.02 L134.71,259.92 L135.04,259.84 L135.36,259.82 L135.68,259.87 L136.00,260.01 L136.30,260.23 L136.58,260.50 L136.83,260.82 L137.04,261.18 L137.22,261.54 L137.38,261.86 L137.53,262.13 L137.67,262.34 L137.80,262.51 L137.94,262.64 L138.09,262.72 Z" fill="#dadada"/>
<path d="M138.25,266.32 L138.37,266.27 L138.47,266.37 L138.59,265.86 L138.71,265.25 L138.85,264.49 L139.01,263.55 L139.14,263.42 L139.32,262.96 L139.45,263.19 L139.60,263.43 L139.76,263.75 L139.95,263.88 L140.12,264.27 L140.27,264.67 L140.58,264.30 L140.90,263.96 L141.41,262.96 L141.83,262.45 L142.27,262.02 L142.66,261.79 L142.97,261.89 L143.26,262.07 L143.40,262.66 L143.39,263.58 L143.67,263.73 L143.74,264.33 L144.10,264.31 L144.44,264.34 L144.92,264.12 L145.51,263.74 L146.18,263.29 L146.75,263.06 L147.17,263.08 L147.82,262.82 L147.99,263.22 L148.10,263.67 L147.90,264.46 L147.78,265.12 L147.91,265.44 L147.80,266.02 L148.50,265.74 L148.98,265.71 L149.56,265.61 L150.33,265.37 L151.20,265.10 L151.52,265.31 L151.89,265.49 L151.97,265.90 L151.61,266.61 L151.12,267.38 L151.07,267.84 L150.76,268.45 L150.86,268.79 L151.20,269.01 L151.94,269.05 L152.50,269.21 L153.73,269.11 L154.63,269.20 L154.65,269.68 L155.04,270.02 L155.05,270.50 L153.96,271.31 L153.54,271.88 L153.62,272.31 L153.38,272.80 L153.24,273.25 L153.17,273.68 L153.98,273.98 L155.11,274.28 L155.87,274.66 L156.39,275.08 L156.18,275.55 L156.67,276.00 L155.88,276.45 L155.53,276.88 L154.30,277.23 L154.30,277.64 L153.51,277.95 L153.43,278.33 L153.15,278.67 L153.88,279.21 L154.41,279.76 L154.97,280.35 L155.18,280.87 L155.60,281.48 L155.09,281.80 L154.56,282.08 L153.73,282.22 L153.32,282.48 L152.15,282.38 L151.68,282.55 L151.30,282.74 L151.73,283.36 L151.91,283.87 L152.26,284.50 L152.25,284.93 L152.71,285.70 L152.58,286.09 L152.06,286.22 L151.39,286.21 L151.19,286.59 L149.77,285.93 L149.05,285.83 L148.35,285.72 L148.05,285.99 L147.49,286.00 L147.56,286.70 L147.43,287.23 L147.53,288.10 L146.96,288.11 L146.72,288.59 L146.22,288.72 L145.66,288.80 L144.72,288.14 L143.92,287.65 L143.26,287.32 L142.56,286.80 L142.02,286.55 L141.74,286.97 L141.51,287.55 L141.21,287.89 L140.88,288.02 L140.64,288.56 L140.33,288.74 L139.92,288.25 L139.59,288.07 L139.21,287.44 L138.87,286.83 L138.55,286.38 L138.25,286.03 L137.95,286.06 L137.67,286.07 L137.35,286.68 L137.03,287.05 L136.61,288.00 L136.23,288.40 L135.90,288.35 L135.44,288.86 L135.18,288.33 L134.83,288.12 L134.53,287.69 L134.28,287.12 L133.94,286.80 L133.48,286.80 L133.01,286.77 L132.11,287.53 L131.58,287.52 L130.50,288.37 L129.95,288.33 L129.27,288.47 L128.76,288.37 L128.62,287.78 L128.44,287.29 L128.28,286.80 L128.19,286.26 L127.82,286.05 L127.43,285.85 L127.46,285.30 L126.45,285.66 L125.86,285.63 L124.58,286.12 L124.15,285.93 L123.26,286.05 L123.27,285.56 L123.62,284.87 L124.00,284.21 L124.23,283.66 L124.14,283.29 L124.87,282.52 L124.56,282.28 L124.28,282.01 L123.69,281.84 L122.56,281.85 L122.23,281.51 L121.17,281.39 L120.81,281.02 L120.51,280.61 L121.09,279.99 L121.25,279.50 L122.23,278.88 L122.66,278.39 L122.97,277.95 L122.84,277.57 L122.52,277.20 L122.63,276.79 L121.91,276.41 L120.87,276.00 L120.09,275.54 L120.06,275.08 L120.35,274.64 L120.24,274.17 L121.48,273.85 L122.44,273.54 L123.21,273.24 L123.77,272.94 L123.46,272.45 L123.89,272.13 L123.09,271.48 L122.52,270.85 L121.95,270.19 L121.78,269.65 L122.01,269.26 L122.11,268.81 L122.49,268.49 L123.31,268.42 L124.42,268.54 L124.82,268.33 L125.83,268.50 L125.99,268.19 L125.57,267.51 L125.74,267.21 L125.59,266.68 L124.99,265.78 L125.06,265.38 L125.41,265.19 L125.72,264.99 L126.14,264.88 L126.80,265.03 L127.22,264.97 L128.30,265.60 L128.53,265.39 L128.90,265.32 L129.29,265.29 L129.04,264.47 L129.12,264.01 L129.23,263.57 L129.41,263.20 L129.56,262.77 L129.78,262.43 L130.45,262.83 L131.18,263.41 L131.74,263.74 L132.29,264.08 L132.85,264.52 L133.09,264.32 L133.48,264.45 L133.43,263.53 L133.72,263.40 L133.87,262.90 L133.95,262.16 L134.26,262.13 L134.50,261.81 L134.95,262.36 L135.35,262.84 L135.71,263.21 L136.13,264.14 L136.37,264.18 L136.62,264.40 L136.83,264.46 L136.94,263.87 L137.14,264.10 L137.21,263.31 L137.37,263.61 L137.47,263.30 L137.63,264.01 L137.76,264.58 L137.88,264.97 L138.00,265.37 L138.13,266.24 Z" fill="#f4f4f4"/>
<g clip-path="url(#bc3)"><rect x="116.2" y="258.8" width="44.1" height="33.3" fill="#fff" filter="url(#gyri)"/></g>
<path d="M138.25,268.18 L138.35,268.15 L138.43,268.06 L138.52,267.92 L138.60,267.75 L138.69,267.56 L138.78,267.35 L138.88,267.15 L138.99,266.97 L139.11,266.81 L139.25,266.70 L139.41,266.61 L139.58,266.54 L139.76,266.48 L139.96,266.43 L140.16,266.40 L140.37,266.37 L140.58,266.35 L140.80,266.34 L141.03,266.33 L141.25,266.33 L141.48,266.33 L141.72,266.34 L141.97,266.37 L142.22,266.40 L142.47,266.43 L142.73,266.47 L142.99,266.52 L143.25,266.58 L143.50,266.64 L143.75,266.70 L144.01,266.76 L144.26,266.84 L144.52,266.91 L144.78,266.99 L145.04,267.08 L145.29,267.17 L145.54,267.27 L145.79,267.38 L146.03,267.50 L146.26,267.62 L146.48,267.76 L146.70,267.90 L146.91,268.04 L147.12,268.19 L147.32,268.36 L147.52,268.52 L147.71,268.70 L147.90,268.89 L148.08,269.09 L148.26,269.29 L148.43,269.51 L148.60,269.74 L148.76,269.99 L148.92,270.24 L149.07,270.50 L149.22,270.77 L149.36,271.04 L149.50,271.32 L149.63,271.60 L149.76,271.89 L149.89,272.18 L150.01,272.48 L150.14,272.79 L150.26,273.11 L150.37,273.43 L150.47,273.75 L150.57,274.08 L150.65,274.40 L150.71,274.72 L150.76,275.04 L150.79,275.36 L150.80,275.67 L150.80,275.99 L150.79,276.31 L150.76,276.63 L150.72,276.95 L150.68,277.26 L150.63,277.57 L150.57,277.89 L150.51,278.19 L150.44,278.50 L150.37,278.81 L150.29,279.12 L150.20,279.43 L150.10,279.73 L150.00,280.03 L149.89,280.33 L149.77,280.62 L149.64,280.89 L149.51,281.16 L149.37,281.42 L149.23,281.67 L149.09,281.91 L148.93,282.15 L148.77,282.38 L148.60,282.60 L148.42,282.81 L148.22,283.01 L148.00,283.20 L147.76,283.38 L147.50,283.56 L147.21,283.72 L146.91,283.88 L146.59,284.02 L146.26,284.16 L145.91,284.29 L145.56,284.40 L145.21,284.51 L144.86,284.60 L144.50,284.68 L144.14,284.75 L143.77,284.80 L143.38,284.84 L142.98,284.87 L142.58,284.89 L142.19,284.90 L141.80,284.90 L141.43,284.90 L141.08,284.88 L140.75,284.87 L140.45,284.84 L140.17,284.79 L139.91,284.72 L139.66,284.64 L139.42,284.57 L139.19,284.49 L138.96,284.42 L138.73,284.36 L138.49,284.32 L138.25,284.31 L138.01,284.32 L137.77,284.36 L137.54,284.42 L137.31,284.49 L137.08,284.57 L136.84,284.64 L136.59,284.72 L136.33,284.79 L136.05,284.84 L135.75,284.87 L135.42,284.88 L135.07,284.90 L134.70,284.90 L134.31,284.90 L133.92,284.89 L133.52,284.87 L133.12,284.84 L132.73,284.80 L132.36,284.75 L132.00,284.68 L131.64,284.60 L131.29,284.51 L130.94,284.40 L130.59,284.29 L130.24,284.16 L129.91,284.02 L129.59,283.88 L129.29,283.72 L129.00,283.56 L128.74,283.38 L128.50,283.20 L128.28,283.01 L128.08,282.81 L127.90,282.60 L127.73,282.38 L127.57,282.15 L127.41,281.91 L127.27,281.67 L127.13,281.42 L126.99,281.16 L126.86,280.89 L126.73,280.62 L126.61,280.33 L126.50,280.03 L126.40,279.73 L126.30,279.43 L126.21,279.12 L126.13,278.81 L126.06,278.50 L125.99,278.19 L125.93,277.89 L125.87,277.57 L125.82,277.26 L125.78,276.95 L125.74,276.63 L125.71,276.31 L125.70,275.99 L125.70,275.67 L125.71,275.36 L125.74,275.04 L125.79,274.72 L125.85,274.40 L125.93,274.08 L126.03,273.75 L126.13,273.43 L126.24,273.11 L126.36,272.79 L126.49,272.48 L126.61,272.18 L126.74,271.89 L126.87,271.60 L127.00,271.32 L127.14,271.04 L127.28,270.77 L127.43,270.50 L127.58,270.24 L127.74,269.99 L127.90,269.74 L128.07,269.51 L128.24,269.29 L128.42,269.09 L128.60,268.89 L128.79,268.70 L128.98,268.52 L129.18,268.36 L129.38,268.19 L129.59,268.04 L129.80,267.90 L130.02,267.76 L130.24,267.62 L130.47,267.50 L130.71,267.38 L130.96,267.27 L131.21,267.17 L131.46,267.08 L131.72,266.99 L131.98,266.91 L132.24,266.84 L132.49,266.76 L132.75,266.70 L133.00,266.64 L133.25,266.58 L133.51,266.52 L133.77,266.47 L134.03,266.43 L134.28,266.40 L134.53,266.37 L134.78,266.34 L135.02,266.33 L135.25,266.33 L135.47,266.33 L135.70,266.34 L135.92,266.35 L136.13,266.37 L136.34,266.40 L136.54,266.43 L136.74,266.48 L136.92,266.54 L137.09,266.61 L137.25,266.70 L137.39,266.81 L137.51,266.97 L137.62,267.15 L137.72,267.35 L137.81,267.56 L137.90,267.75 L137.98,267.92 L138.07,268.06 L138.15,268.15 Z" fill="#f2f2f2" opacity="0.5" filter="url(#rb2)"/>
<path d="M138.25,262.76 Q138.66,264.55 138.25,266.35" stroke="#505050" stroke-width="0.48" fill="none" stroke-linecap="round"/>
<path d="M138.97,262.15 Q138.45,263.78 138.80,265.46" stroke="#505050" stroke-width="0.43" fill="none" stroke-linecap="round"/>
<path d="M140.50,260.00 Q139.94,261.22 140.14,262.56" stroke="#505050" stroke-width="0.46" fill="none" stroke-linecap="round"/>
<path d="M143.17,260.18 Q143.19,262.77 141.70,264.88" stroke="#505050" stroke-width="0.58" fill="none" stroke-linecap="round"/>
<path d="M145.85,259.86 Q144.02,262.08 143.47,264.91" stroke="#505050" stroke-width="0.52" fill="none" stroke-linecap="round"/>
<path d="M148.09,261.02 Q146.54,263.03 145.30,265.25" stroke="#505050" stroke-width="0.41" fill="none" stroke-linecap="round"/>
<path d="M151.02,261.43 Q148.97,263.42 147.25,265.72" stroke="#505050" stroke-width="0.36" fill="none" stroke-linecap="round"/>
<path d="M153.10,263.50 Q151.06,265.18 149.06,266.89" stroke="#505050" stroke-width="0.54" fill="none" stroke-linecap="round"/>
<path d="M155.81,265.41 Q153.42,265.94 151.84,267.80" stroke="#505050" stroke-width="0.47" fill="none" stroke-linecap="round"/>
<path d="M156.67,268.36 Q154.13,268.29 152.38,270.13" stroke="#505050" stroke-width="0.46" fill="none" stroke-linecap="round"/>
<path d="M158.81,271.66 Q156.48,271.71 154.34,272.60" stroke="#505050" stroke-width="0.58" fill="none" stroke-linecap="round"/>
<path d="M158.78,274.97 Q156.52,276.12 154.16,275.19" stroke="#505050" stroke-width="0.47" fill="none" stroke-linecap="round"/>
<path d="M159.31,278.16 Q156.09,277.10 152.72,277.47" stroke="#505050" stroke-width="0.60" fill="none" stroke-linecap="round"/>
<path d="M157.81,281.63 Q155.59,280.83 153.27,280.32" stroke="#505050" stroke-width="0.54" fill="none" stroke-linecap="round"/>
<path d="M157.32,284.76 Q155.11,284.72 153.64,283.06" stroke="#505050" stroke-width="0.43" fill="none" stroke-linecap="round"/>
<path d="M154.90,287.17 Q151.64,285.83 149.18,283.32" stroke="#505050" stroke-width="0.58" fill="none" stroke-linecap="round"/>
<path d="M152.92,289.36 Q152.28,287.25 150.12,286.81" stroke="#505050" stroke-width="0.37" fill="none" stroke-linecap="round"/>
<path d="M149.11,290.15 Q147.42,289.47 147.20,287.66" stroke="#505050" stroke-width="0.45" fill="none" stroke-linecap="round"/>
<path d="M144.92,291.10 Q143.43,290.11 143.71,288.35" stroke="#505050" stroke-width="0.52" fill="none" stroke-linecap="round"/>
<path d="M141.41,290.46 Q141.21,289.01 140.79,287.61" stroke="#505050" stroke-width="0.57" fill="none" stroke-linecap="round"/>
<path d="M138.25,290.12 Q138.59,288.06 138.25,285.99" stroke="#505050" stroke-width="0.55" fill="none" stroke-linecap="round"/>
<path d="M135.53,290.30 Q135.01,288.86 136.02,287.71" stroke="#505050" stroke-width="0.51" fill="none" stroke-linecap="round"/>
<path d="M132.22,291.12 Q133.50,289.40 133.76,287.27" stroke="#505050" stroke-width="0.39" fill="none" stroke-linecap="round"/>
<path d="M128.60,290.34 Q129.60,288.56 130.87,286.96" stroke="#505050" stroke-width="0.41" fill="none" stroke-linecap="round"/>
<path d="M124.69,289.85 Q126.58,288.09 128.29,286.16" stroke="#505050" stroke-width="0.58" fill="none" stroke-linecap="round"/>
<path d="M121.93,287.50 Q123.77,285.02 126.72,284.12" stroke="#505050" stroke-width="0.51" fill="none" stroke-linecap="round"/>
<path d="M119.65,285.62 Q123.18,285.11 125.63,282.52" stroke="#505050" stroke-width="0.41" fill="none" stroke-linecap="round"/>
<path d="M118.68,281.64 Q120.44,280.63 122.47,280.54" stroke="#505050" stroke-width="0.38" fill="none" stroke-linecap="round"/>
<path d="M117.38,279.22 Q119.24,279.45 120.95,278.66" stroke="#505050" stroke-width="0.49" fill="none" stroke-linecap="round"/>
<path d="M117.70,275.49 Q120.72,274.90 123.70,275.63" stroke="#505050" stroke-width="0.43" fill="none" stroke-linecap="round"/>
<path d="M117.54,272.22 Q118.93,273.46 120.66,272.78" stroke="#505050" stroke-width="0.37" fill="none" stroke-linecap="round"/>
<path d="M119.34,269.27 Q122.01,271.03 125.19,271.34" stroke="#505050" stroke-width="0.46" fill="none" stroke-linecap="round"/>
<path d="M120.44,265.84 Q122.63,265.67 123.61,267.64" stroke="#505050" stroke-width="0.48" fill="none" stroke-linecap="round"/>
<path d="M122.71,264.03 Q123.53,265.86 125.51,266.18" stroke="#505050" stroke-width="0.35" fill="none" stroke-linecap="round"/>
<path d="M124.69,261.84 Q126.31,264.36 128.76,266.08" stroke="#505050" stroke-width="0.38" fill="none" stroke-linecap="round"/>
<path d="M127.98,261.14 Q129.10,263.25 130.68,265.04" stroke="#505050" stroke-width="0.59" fill="none" stroke-linecap="round"/>
<path d="M130.65,259.86 Q131.15,262.28 132.70,264.21" stroke="#505050" stroke-width="0.47" fill="none" stroke-linecap="round"/>
<path d="M133.33,260.18 Q133.88,262.73 134.88,265.13" stroke="#505050" stroke-width="0.44" fill="none" stroke-linecap="round"/>
<path d="M135.36,259.82 Q136.12,262.25 136.25,264.79" stroke="#505050" stroke-width="0.46" fill="none" stroke-linecap="round"/>
<path d="M137.22,261.54 Q137.53,263.41 137.49,265.31" stroke="#505050" stroke-width="0.56" fill="none" stroke-linecap="round"/>
<path d="M138.25,262.76 L138.41,262.73 L138.56,262.66 L138.70,262.54 L138.83,262.37 L138.97,262.15 L139.12,261.86 L139.28,261.53 L139.46,261.16 L139.68,260.80 L139.92,260.47 L140.20,260.20 L140.50,260.00 L140.82,259.87 L141.14,259.83 L141.46,259.87 L141.78,259.95 L142.11,260.05 L142.45,260.14 L142.80,260.19 L143.17,260.18 L143.57,260.11 L144.00,260.02 L144.46,259.91 L144.93,259.84 L145.40,259.81 L145.85,259.86 L146.27,259.98 L146.65,260.17 L147.01,260.39 L147.36,260.63 L147.71,260.85 L148.09,261.02 L148.52,261.13 L148.99,261.20 L149.50,261.24 L150.02,261.27 L150.54,261.32 L151.02,261.43 L151.44,261.60 L151.80,261.85 L152.09,262.16 L152.34,262.50 L152.58,262.85 L152.82,263.20 L153.10,263.50 L153.43,263.77 L153.82,264.01 L154.24,264.23 L154.69,264.46 L155.11,264.72 L155.50,265.03 L155.81,265.41 L156.04,265.85 L156.20,266.33 L156.31,266.84 L156.40,267.36 L156.51,267.87 L156.67,268.36 L156.89,268.82 L157.19,269.26 L157.54,269.69 L157.91,270.14 L158.28,270.62 L158.59,271.13 L158.81,271.66 L158.94,272.22 L158.97,272.79 L158.94,273.35 L158.87,273.91 L158.81,274.44 L158.78,274.97 L158.81,275.49 L158.90,276.01 L159.03,276.54 L159.17,277.07 L159.27,277.62 L159.31,278.16 L159.25,278.69 L159.10,279.21 L158.87,279.71 L158.60,280.19 L158.30,280.67 L158.03,281.15 L157.81,281.63 L157.67,282.14 L157.58,282.66 L157.54,283.20 L157.51,283.74 L157.45,284.27 L157.32,284.76 L157.12,285.21 L156.83,285.61 L156.48,285.96 L156.08,286.28 L155.66,286.57 L155.26,286.86 L154.90,287.17 L154.57,287.50 L154.29,287.87 L154.01,288.26 L153.71,288.66 L153.35,289.03 L152.92,289.36 L152.40,289.63 L151.80,289.83 L151.14,289.96 L150.46,290.04 L149.77,290.10 L149.11,290.15 L148.49,290.23 L147.90,290.35 L147.33,290.50 L146.75,290.68 L146.16,290.85 L145.55,291.00 L144.92,291.10 L144.28,291.12 L143.63,291.08 L143.01,290.97 L142.42,290.82 L141.89,290.64 L141.41,290.46 L140.97,290.30 L140.56,290.18 L140.18,290.11 L139.81,290.09 L139.44,290.10 L139.06,290.11 L138.66,290.12 L138.25,290.12 L137.84,290.11 L137.44,290.09 L137.06,290.07 L136.69,290.07 L136.32,290.10 L135.94,290.17 L135.53,290.30 L135.09,290.48 L134.60,290.67 L134.07,290.85 L133.48,290.99 L132.86,291.09 L132.22,291.12 L131.59,291.08 L130.96,290.98 L130.36,290.82 L129.77,290.65 L129.19,290.48 L128.60,290.34 L128.00,290.24 L127.38,290.17 L126.71,290.12 L126.02,290.07 L125.34,289.99 L124.69,289.85 L124.10,289.63 L123.60,289.35 L123.17,289.01 L122.82,288.63 L122.52,288.24 L122.23,287.86 L121.93,287.50 L121.60,287.17 L121.22,286.87 L120.81,286.59 L120.39,286.30 L119.99,285.98 L119.65,285.62 L119.38,285.21 L119.20,284.75 L119.08,284.25 L119.03,283.72 L119.00,283.18 L118.94,282.65 L118.84,282.13 L118.68,281.64 L118.44,281.15 L118.16,280.68 L117.86,280.20 L117.59,279.72 L117.38,279.22 L117.25,278.69 L117.21,278.16 L117.26,277.61 L117.38,277.07 L117.51,276.53 L117.63,276.01 L117.70,275.49 L117.71,274.97 L117.67,274.44 L117.59,273.90 L117.52,273.35 L117.49,272.78 L117.54,272.22 L117.69,271.66 L117.93,271.13 L118.25,270.63 L118.62,270.15 L119.00,269.70 L119.34,269.27 L119.62,268.82 L119.82,268.35 L119.97,267.86 L120.07,267.35 L120.16,266.82 L120.27,266.31 L120.44,265.84 L120.69,265.41 L121.02,265.04 L121.41,264.74 L121.85,264.48 L122.29,264.26 L122.71,264.03 L123.08,263.78 L123.39,263.50 L123.66,263.18 L123.90,262.83 L124.13,262.47 L124.38,262.13 L124.69,261.84 L125.06,261.60 L125.49,261.44 L125.98,261.34 L126.50,261.29 L127.02,261.26 L127.52,261.22 L127.98,261.14 L128.40,261.01 L128.78,260.83 L129.13,260.60 L129.47,260.36 L129.83,260.14 L130.22,259.97 L130.65,259.86 L131.10,259.83 L131.58,259.86 L132.05,259.95 L132.51,260.05 L132.94,260.13 L133.33,260.18 L133.70,260.18 L134.05,260.12 L134.38,260.02 L134.71,259.92 L135.04,259.84 L135.36,259.82 L135.68,259.87 L136.00,260.01 L136.30,260.23 L136.58,260.50 L136.83,260.82 L137.04,261.18 L137.22,261.54 L137.38,261.86 L137.53,262.13 L137.67,262.34 L137.80,262.51 L137.94,262.64 L138.09,262.72 Z" fill="none" stroke="#555" stroke-width="0.6"/>
<line x1="138.25" y1="262.37" x2="138.25" y2="289.87" stroke="#3a3a3a" stroke-width="0.9" />
<g transform="rotate(0 145.25 279.55)" filter="url(#rb)">
<rect x="139.20" y="270.10" width="12.10" height="18.90" rx="2.2" fill="#8a8660" stroke="#1f3766" stroke-width="2.3"/>
<rect x="142.20" y="273.10" width="6.10" height="12.90" rx="1" fill="#e4d450"/>
</g>
<ellipse cx="129.10" cy="370.85" rx="8.88" ry="7.85" fill="#c4c4c4" stroke="#555" stroke-width="0.6"/>
<path d="M121.55,367.14 Q129.10,364.94 136.64,367.14" stroke="#6a6a6a" stroke-width="0.55" fill="none"/>
<path d="M121.55,369.73 Q129.10,367.53 136.64,369.73" stroke="#6a6a6a" stroke-width="0.55" fill="none"/>
<path d="M121.55,372.32 Q129.10,370.12 136.64,372.32" stroke="#6a6a6a" stroke-width="0.55" fill="none"/>
<path d="M121.55,374.91 Q129.10,372.71 136.64,374.91" stroke="#6a6a6a" stroke-width="0.55" fill="none"/>
<path d="M121.55,377.50 Q129.10,375.30 136.64,377.50" stroke="#6a6a6a" stroke-width="0.55" fill="none"/>
<ellipse cx="147.20" cy="370.85" rx="8.88" ry="7.85" fill="#c4c4c4" stroke="#555" stroke-width="0.6"/>
<path d="M139.66,367.14 Q147.20,364.94 154.75,367.14" stroke="#6a6a6a" stroke-width="0.55" fill="none"/>
<path d="M139.66,369.73 Q147.20,367.53 154.75,369.73" stroke="#6a6a6a" stroke-width="0.55" fill="none"/>
<path d="M139.66,372.32 Q147.20,370.12 154.75,372.32" stroke="#6a6a6a" stroke-width="0.55" fill="none"/>
<path d="M139.66,374.91 Q147.20,372.71 154.75,374.91" stroke="#6a6a6a" stroke-width="0.55" fill="none"/>
<path d="M139.66,377.50 Q147.20,375.30 154.75,377.50" stroke="#6a6a6a" stroke-width="0.55" fill="none"/>
<clipPath id="bc4"><path d="M137.40,337.50 L137.56,337.38 L137.70,337.22 L137.84,337.03 L137.97,336.83 L138.10,336.63 L138.24,336.43 L138.39,336.21 L138.56,335.97 L138.76,335.72 L138.99,335.47 L139.25,335.23 L139.54,334.99 L139.86,334.78 L140.19,334.62 L140.52,334.54 L140.85,334.53 L141.18,334.59 L141.51,334.70 L141.83,334.82 L142.16,334.92 L142.50,334.98 L142.88,334.99 L143.30,334.95 L143.74,334.89 L144.21,334.81 L144.68,334.76 L145.14,334.76 L145.57,334.83 L145.97,334.96 L146.33,335.15 L146.66,335.38 L146.99,335.62 L147.33,335.83 L147.70,336.01 L148.12,336.14 L148.57,336.22 L149.06,336.28 L149.55,336.33 L150.03,336.41 L150.48,336.54 L150.86,336.73 L151.18,336.99 L151.44,337.30 L151.66,337.65 L151.86,338.01 L152.08,338.35 L152.33,338.67 L152.64,338.95 L152.99,339.21 L153.40,339.46 L153.81,339.72 L154.21,340.01 L154.57,340.35 L154.85,340.74 L155.05,341.18 L155.19,341.66 L155.27,342.17 L155.34,342.67 L155.43,343.16 L155.56,343.63 L155.77,344.09 L156.06,344.53 L156.40,344.98 L156.75,345.44 L157.09,345.92 L157.36,346.42 L157.55,346.94 L157.63,347.47 L157.61,348.00 L157.52,348.52 L157.40,349.03 L157.28,349.53 L157.21,350.03 L157.20,350.52 L157.25,351.02 L157.34,351.53 L157.44,352.05 L157.51,352.56 L157.52,353.08 L157.45,353.58 L157.29,354.07 L157.05,354.54 L156.76,354.99 L156.46,355.43 L156.17,355.87 L155.94,356.32 L155.78,356.79 L155.67,357.27 L155.61,357.76 L155.55,358.25 L155.47,358.72 L155.33,359.17 L155.12,359.58 L154.83,359.94 L154.46,360.24 L154.05,360.51 L153.61,360.75 L153.18,361.00 L152.78,361.26 L152.41,361.55 L152.07,361.87 L151.72,362.22 L151.36,362.57 L150.95,362.90 L150.48,363.19 L149.94,363.42 L149.33,363.57 L148.69,363.66 L148.03,363.69 L147.37,363.70 L146.74,363.71 L146.11,363.75 L145.50,363.82 L144.90,363.93 L144.32,364.06 L143.75,364.20 L143.17,364.31 L142.59,364.38 L142.03,364.38 L141.48,364.32 L140.97,364.18 L140.49,363.98 L140.05,363.76 L139.63,363.55 L139.25,363.38 L138.89,363.27 L138.53,363.22 L138.17,363.23 L137.79,363.28 L137.40,363.37 L137.00,363.46 L136.61,363.54 L136.24,363.60 L135.87,363.62 L135.51,363.64 L135.15,363.64 L134.77,363.67 L134.37,363.72 L133.92,363.81 L133.43,363.92 L132.88,364.05 L132.27,364.19 L131.63,364.31 L130.97,364.38 L130.32,364.39 L129.68,364.32 L129.09,364.19 L128.53,364.01 L128.00,363.81 L127.49,363.61 L126.97,363.44 L126.41,363.30 L125.80,363.20 L125.15,363.11 L124.49,363.02 L123.85,362.90 L123.26,362.74 L122.74,362.50 L122.32,362.21 L121.98,361.86 L121.72,361.47 L121.51,361.07 L121.30,360.68 L121.06,360.31 L120.78,359.98 L120.45,359.66 L120.08,359.36 L119.70,359.05 L119.33,358.72 L119.01,358.36 L118.77,357.94 L118.61,357.47 L118.53,356.97 L118.50,356.44 L118.50,355.92 L118.47,355.40 L118.40,354.90 L118.26,354.42 L118.06,353.95 L117.81,353.50 L117.54,353.04 L117.29,352.56 L117.10,352.07 L117.00,351.57 L116.99,351.05 L117.07,350.54 L117.22,350.03 L117.38,349.53 L117.54,349.03 L117.66,348.54 L117.72,348.05 L117.73,347.54 L117.71,347.01 L117.69,346.46 L117.71,345.92 L117.79,345.38 L117.96,344.86 L118.21,344.38 L118.53,343.93 L118.89,343.51 L119.25,343.12 L119.58,342.72 L119.86,342.31 L120.08,341.88 L120.23,341.42 L120.35,340.95 L120.46,340.47 L120.59,340.01 L120.77,339.58 L121.03,339.21 L121.36,338.91 L121.76,338.66 L122.19,338.45 L122.62,338.27 L123.03,338.09 L123.41,337.88 L123.73,337.63 L124.00,337.35 L124.25,337.04 L124.49,336.71 L124.77,336.41 L125.09,336.15 L125.47,335.96 L125.91,335.83 L126.40,335.76 L126.90,335.74 L127.40,335.73 L127.88,335.71 L128.31,335.65 L128.71,335.54 L129.07,335.38 L129.41,335.17 L129.76,334.96 L130.12,334.76 L130.50,334.62 L130.91,334.54 L131.34,334.53 L131.77,334.59 L132.20,334.69 L132.61,334.81 L133.00,334.92 L133.37,334.98 L133.71,335.00 L134.04,334.96 L134.35,334.89 L134.65,334.82 L134.94,334.78 L135.23,334.79 L135.51,334.89 L135.77,335.06 L136.01,335.34 L136.22,335.71 L136.40,336.12 L136.56,336.52 L136.71,336.88 L136.84,337.18 L136.97,337.39 L137.11,337.51 L137.25,337.55 Z"/></clipPath>
<path d="M137.40,337.50 L137.56,337.38 L137.70,337.22 L137.84,337.03 L137.97,336.83 L138.10,336.63 L138.24,336.43 L138.39,336.21 L138.56,335.97 L138.76,335.72 L138.99,335.47 L139.25,335.23 L139.54,334.99 L139.86,334.78 L140.19,334.62 L140.52,334.54 L140.85,334.53 L141.18,334.59 L141.51,334.70 L141.83,334.82 L142.16,334.92 L142.50,334.98 L142.88,334.99 L143.30,334.95 L143.74,334.89 L144.21,334.81 L144.68,334.76 L145.14,334.76 L145.57,334.83 L145.97,334.96 L146.33,335.15 L146.66,335.38 L146.99,335.62 L147.33,335.83 L147.70,336.01 L148.12,336.14 L148.57,336.22 L149.06,336.28 L149.55,336.33 L150.03,336.41 L150.48,336.54 L150.86,336.73 L151.18,336.99 L151.44,337.30 L151.66,337.65 L151.86,338.01 L152.08,338.35 L152.33,338.67 L152.64,338.95 L152.99,339.21 L153.40,339.46 L153.81,339.72 L154.21,340.01 L154.57,340.35 L154.85,340.74 L155.05,341.18 L155.19,341.66 L155.27,342.17 L155.34,342.67 L155.43,343.16 L155.56,343.63 L155.77,344.09 L156.06,344.53 L156.40,344.98 L156.75,345.44 L157.09,345.92 L157.36,346.42 L157.55,346.94 L157.63,347.47 L157.61,348.00 L157.52,348.52 L157.40,349.03 L157.28,349.53 L157.21,350.03 L157.20,350.52 L157.25,351.02 L157.34,351.53 L157.44,352.05 L157.51,352.56 L157.52,353.08 L157.45,353.58 L157.29,354.07 L157.05,354.54 L156.76,354.99 L156.46,355.43 L156.17,355.87 L155.94,356.32 L155.78,356.79 L155.67,357.27 L155.61,357.76 L155.55,358.25 L155.47,358.72 L155.33,359.17 L155.12,359.58 L154.83,359.94 L154.46,360.24 L154.05,360.51 L153.61,360.75 L153.18,361.00 L152.78,361.26 L152.41,361.55 L152.07,361.87 L151.72,362.22 L151.36,362.57 L150.95,362.90 L150.48,363.19 L149.94,363.42 L149.33,363.57 L148.69,363.66 L148.03,363.69 L147.37,363.70 L146.74,363.71 L146.11,363.75 L145.50,363.82 L144.90,363.93 L144.32,364.06 L143.75,364.20 L143.17,364.31 L142.59,364.38 L142.03,364.38 L141.48,364.32 L140.97,364.18 L140.49,363.98 L140.05,363.76 L139.63,363.55 L139.25,363.38 L138.89,363.27 L138.53,363.22 L138.17,363.23 L137.79,363.28 L137.40,363.37 L137.00,363.46 L136.61,363.54 L136.24,363.60 L135.87,363.62 L135.51,363.64 L135.15,363.64 L134.77,363.67 L134.37,363.72 L133.92,363.81 L133.43,363.92 L132.88,364.05 L132.27,364.19 L131.63,364.31 L130.97,364.38 L130.32,364.39 L129.68,364.32 L129.09,364.19 L128.53,364.01 L128.00,363.81 L127.49,363.61 L126.97,363.44 L126.41,363.30 L125.80,363.20 L125.15,363.11 L124.49,363.02 L123.85,362.90 L123.26,362.74 L122.74,362.50 L122.32,362.21 L121.98,361.86 L121.72,361.47 L121.51,361.07 L121.30,360.68 L121.06,360.31 L120.78,359.98 L120.45,359.66 L120.08,359.36 L119.70,359.05 L119.33,358.72 L119.01,358.36 L118.77,357.94 L118.61,357.47 L118.53,356.97 L118.50,356.44 L118.50,355.92 L118.47,355.40 L118.40,354.90 L118.26,354.42 L118.06,353.95 L117.81,353.50 L117.54,353.04 L117.29,352.56 L117.10,352.07 L117.00,351.57 L116.99,351.05 L117.07,350.54 L117.22,350.03 L117.38,349.53 L117.54,349.03 L117.66,348.54 L117.72,348.05 L117.73,347.54 L117.71,347.01 L117.69,346.46 L117.71,345.92 L117.79,345.38 L117.96,344.86 L118.21,344.38 L118.53,343.93 L118.89,343.51 L119.25,343.12 L119.58,342.72 L119.86,342.31 L120.08,341.88 L120.23,341.42 L120.35,340.95 L120.46,340.47 L120.59,340.01 L120.77,339.58 L121.03,339.21 L121.36,338.91 L121.76,338.66 L122.19,338.45 L122.62,338.27 L123.03,338.09 L123.41,337.88 L123.73,337.63 L124.00,337.35 L124.25,337.04 L124.49,336.71 L124.77,336.41 L125.09,336.15 L125.47,335.96 L125.91,335.83 L126.40,335.76 L126.90,335.74 L127.40,335.73 L127.88,335.71 L128.31,335.65 L128.71,335.54 L129.07,335.38 L129.41,335.17 L129.76,334.96 L130.12,334.76 L130.50,334.62 L130.91,334.54 L131.34,334.53 L131.77,334.59 L132.20,334.69 L132.61,334.81 L133.00,334.92 L133.37,334.98 L133.71,335.00 L134.04,334.96 L134.35,334.89 L134.65,334.82 L134.94,334.78 L135.23,334.79 L135.51,334.89 L135.77,335.06 L136.01,335.34 L136.22,335.71 L136.40,336.12 L136.56,336.52 L136.71,336.88 L136.84,337.18 L136.97,337.39 L137.11,337.51 L137.25,337.55 Z" fill="#dadada"/>
<path d="M137.40,340.86 L137.51,340.70 L137.62,340.76 L137.73,340.27 L137.86,339.38 L137.99,338.75 L138.12,338.35 L138.28,337.73 L138.42,337.72 L138.58,337.59 L138.68,338.27 L138.83,338.59 L139.04,338.53 L139.17,339.04 L139.38,339.08 L139.72,338.50 L140.04,338.17 L140.36,337.93 L140.84,337.18 L141.27,336.74 L141.53,336.89 L141.92,336.70 L142.02,337.35 L142.21,337.72 L142.26,338.42 L142.41,338.82 L142.81,338.66 L142.94,339.09 L143.54,338.60 L143.89,338.61 L144.55,338.10 L145.27,337.57 L145.78,337.43 L146.01,337.72 L146.50,337.64 L146.65,338.03 L146.45,338.84 L146.34,339.47 L146.67,339.57 L146.57,340.14 L146.65,340.48 L147.22,340.31 L147.72,340.26 L148.76,339.73 L149.32,339.68 L149.70,339.80 L150.54,339.57 L150.28,340.22 L150.33,340.62 L149.93,341.33 L150.08,341.64 L149.42,342.46 L149.61,342.74 L149.47,343.21 L150.16,343.23 L150.94,343.23 L151.60,343.34 L152.30,343.47 L152.93,343.65 L153.26,343.98 L153.44,344.38 L152.86,345.02 L152.73,345.50 L152.08,346.12 L152.16,346.52 L152.02,346.97 L151.42,347.48 L151.86,347.80 L152.93,348.05 L153.56,348.39 L153.82,348.79 L154.89,349.15 L155.30,349.57 L154.76,350.02 L154.26,350.44 L153.79,350.84 L153.37,351.22 L152.20,351.51 L151.82,351.84 L151.63,352.17 L152.18,352.63 L152.49,353.08 L152.87,353.57 L153.49,354.15 L153.55,354.60 L153.82,355.14 L154.07,355.68 L153.23,355.84 L152.28,355.91 L151.98,356.21 L150.87,356.12 L150.32,356.24 L149.97,356.43 L150.12,356.87 L150.44,357.43 L150.82,358.05 L151.56,358.94 L151.29,359.21 L151.17,359.59 L150.99,359.94 L150.53,360.10 L149.35,359.66 L148.77,359.69 L147.77,359.33 L147.26,359.38 L146.86,359.54 L146.79,360.05 L146.59,360.44 L146.40,360.89 L146.42,361.62 L145.99,361.80 L145.59,362.04 L145.22,362.35 L144.36,361.88 L143.66,361.61 L142.77,360.91 L142.25,360.85 L141.61,360.44 L141.08,360.20 L140.86,360.77 L140.50,360.86 L140.22,361.21 L139.95,361.55 L139.65,361.70 L139.35,361.79 L139.04,361.87 L138.65,361.19 L138.32,360.75 L138.00,360.33 L137.70,359.96 L137.40,359.62 L137.11,359.83 L136.83,359.78 L136.52,360.26 L136.19,360.82 L135.85,361.19 L135.48,361.67 L135.12,361.86 L134.71,362.19 L134.47,361.65 L134.11,361.55 L133.91,360.85 L133.54,360.69 L133.18,360.46 L132.81,360.26 L132.09,360.77 L131.49,360.97 L130.76,361.34 L130.15,361.45 L129.29,361.91 L128.75,361.88 L128.24,361.80 L127.78,361.64 L127.68,361.05 L128.02,360.03 L127.65,359.83 L127.34,359.57 L127.21,359.18 L126.91,358.95 L125.72,359.45 L125.16,359.41 L124.00,359.80 L123.39,359.76 L122.98,359.57 L122.75,359.25 L123.44,358.38 L123.25,358.06 L123.97,357.26 L124.42,356.64 L124.39,356.28 L124.11,356.04 L124.13,355.65 L123.16,355.66 L122.15,355.63 L121.62,355.38 L121.00,355.13 L120.86,354.72 L120.33,354.40 L121.18,353.74 L121.34,353.28 L121.94,352.76 L122.94,352.21 L122.42,351.91 L123.01,351.47 L122.08,351.17 L121.55,350.81 L120.88,350.43 L120.25,350.02 L120.14,349.59 L119.92,349.15 L120.16,348.73 L120.17,348.29 L121.59,348.02 L122.27,347.70 L122.30,347.29 L122.89,346.99 L123.14,346.64 L122.82,346.14 L122.80,345.72 L122.11,345.08 L121.98,344.59 L121.38,343.92 L121.99,343.70 L122.02,343.26 L122.49,343.01 L123.07,342.84 L124.10,342.94 L124.61,342.80 L124.90,342.57 L125.49,342.54 L125.61,342.23 L125.51,341.77 L124.71,340.80 L124.70,340.36 L124.66,339.89 L124.71,339.48 L125.31,339.53 L125.82,339.53 L126.52,339.72 L127.23,339.97 L127.56,339.87 L128.37,340.28 L128.74,340.26 L128.50,339.52 L128.65,339.20 L128.83,338.92 L128.55,337.99 L128.66,337.53 L128.94,337.30 L129.31,337.22 L129.97,337.64 L130.64,338.13 L131.07,338.24 L131.65,338.67 L132.06,338.83 L132.53,339.12 L132.68,338.76 L132.75,338.13 L132.94,337.78 L133.04,337.15 L133.26,336.86 L133.47,336.54 L133.88,336.89 L134.24,337.13 L134.59,337.42 L135.04,338.28 L135.38,338.84 L135.61,338.88 L135.87,339.28 L135.99,338.72 L136.17,338.78 L136.27,338.08 L136.41,338.04 L136.55,338.16 L136.66,338.09 L136.79,338.37 L136.92,339.01 L137.05,339.55 L137.17,340.28 L137.28,340.45 Z" fill="#f4f4f4"/>
<g clip-path="url(#bc4)"><rect x="116.0" y="333.5" width="42.6" height="31.9" fill="#fff" filter="url(#gyri)"/></g>
<path d="M137.40,342.58 L137.49,342.55 L137.58,342.46 L137.66,342.33 L137.74,342.17 L137.82,341.98 L137.91,341.79 L138.00,341.60 L138.11,341.43 L138.23,341.28 L138.36,341.17 L138.52,341.09 L138.68,341.02 L138.86,340.96 L139.04,340.92 L139.24,340.88 L139.44,340.85 L139.65,340.84 L139.86,340.82 L140.08,340.82 L140.29,340.82 L140.52,340.82 L140.75,340.83 L140.98,340.85 L141.22,340.88 L141.47,340.91 L141.72,340.95 L141.97,341.00 L142.22,341.05 L142.46,341.11 L142.71,341.17 L142.95,341.23 L143.20,341.30 L143.45,341.37 L143.69,341.45 L143.94,341.53 L144.19,341.62 L144.43,341.72 L144.67,341.82 L144.90,341.93 L145.12,342.05 L145.33,342.18 L145.54,342.31 L145.75,342.45 L145.95,342.59 L146.14,342.74 L146.33,342.91 L146.52,343.07 L146.70,343.25 L146.88,343.44 L147.05,343.64 L147.21,343.85 L147.38,344.07 L147.53,344.30 L147.68,344.54 L147.83,344.78 L147.97,345.04 L148.11,345.30 L148.24,345.57 L148.37,345.83 L148.50,346.11 L148.62,346.39 L148.74,346.67 L148.86,346.97 L148.97,347.27 L149.08,347.57 L149.18,347.88 L149.27,348.19 L149.35,348.50 L149.41,348.80 L149.46,349.11 L149.49,349.41 L149.50,349.71 L149.50,350.01 L149.49,350.31 L149.46,350.62 L149.43,350.92 L149.38,351.22 L149.33,351.52 L149.28,351.81 L149.22,352.10 L149.15,352.40 L149.08,352.69 L149.01,352.99 L148.92,353.28 L148.83,353.57 L148.73,353.86 L148.62,354.14 L148.50,354.41 L148.38,354.67 L148.25,354.93 L148.12,355.17 L147.99,355.41 L147.85,355.64 L147.70,355.87 L147.55,356.08 L147.38,356.29 L147.20,356.50 L147.01,356.69 L146.80,356.87 L146.57,357.04 L146.31,357.21 L146.04,357.36 L145.75,357.51 L145.44,357.65 L145.12,357.78 L144.79,357.90 L144.45,358.01 L144.11,358.11 L143.77,358.20 L143.43,358.28 L143.08,358.34 L142.72,358.39 L142.34,358.43 L141.96,358.46 L141.58,358.48 L141.20,358.49 L140.82,358.49 L140.47,358.48 L140.13,358.47 L139.81,358.46 L139.52,358.43 L139.25,358.38 L139.00,358.31 L138.76,358.24 L138.53,358.17 L138.31,358.10 L138.09,358.03 L137.86,357.98 L137.64,357.94 L137.40,357.93 L137.16,357.94 L136.94,357.98 L136.71,358.03 L136.49,358.10 L136.27,358.17 L136.04,358.24 L135.80,358.31 L135.55,358.38 L135.28,358.43 L134.99,358.46 L134.67,358.47 L134.33,358.48 L133.98,358.49 L133.60,358.49 L133.22,358.48 L132.84,358.46 L132.46,358.43 L132.08,358.39 L131.72,358.34 L131.37,358.28 L131.03,358.20 L130.69,358.11 L130.35,358.01 L130.01,357.90 L129.68,357.78 L129.36,357.65 L129.05,357.51 L128.76,357.36 L128.49,357.21 L128.23,357.04 L128.00,356.87 L127.79,356.69 L127.60,356.50 L127.42,356.29 L127.25,356.08 L127.10,355.87 L126.95,355.64 L126.81,355.41 L126.68,355.17 L126.55,354.93 L126.42,354.67 L126.30,354.41 L126.18,354.14 L126.07,353.86 L125.97,353.57 L125.88,353.28 L125.79,352.99 L125.72,352.69 L125.65,352.40 L125.58,352.10 L125.52,351.81 L125.47,351.52 L125.42,351.22 L125.37,350.92 L125.34,350.62 L125.31,350.31 L125.30,350.01 L125.30,349.71 L125.31,349.41 L125.34,349.11 L125.39,348.80 L125.45,348.50 L125.53,348.19 L125.62,347.88 L125.72,347.57 L125.83,347.27 L125.94,346.97 L126.06,346.67 L126.18,346.39 L126.30,346.11 L126.43,345.83 L126.56,345.57 L126.69,345.30 L126.83,345.04 L126.97,344.78 L127.12,344.54 L127.27,344.30 L127.42,344.07 L127.59,343.85 L127.75,343.64 L127.92,343.44 L128.10,343.25 L128.28,343.07 L128.47,342.91 L128.66,342.74 L128.85,342.59 L129.05,342.45 L129.26,342.31 L129.47,342.18 L129.68,342.05 L129.90,341.93 L130.13,341.82 L130.37,341.72 L130.61,341.62 L130.86,341.53 L131.11,341.45 L131.35,341.37 L131.60,341.30 L131.85,341.23 L132.09,341.17 L132.34,341.11 L132.58,341.05 L132.83,341.00 L133.08,340.95 L133.33,340.91 L133.58,340.88 L133.82,340.85 L134.05,340.83 L134.28,340.82 L134.51,340.82 L134.72,340.82 L134.94,340.82 L135.15,340.84 L135.36,340.85 L135.56,340.88 L135.76,340.92 L135.94,340.96 L136.12,341.02 L136.28,341.09 L136.44,341.17 L136.57,341.28 L136.69,341.43 L136.80,341.60 L136.89,341.79 L136.98,341.98 L137.06,342.17 L137.14,342.33 L137.22,342.46 L137.31,342.55 Z" fill="#f2f2f2" opacity="0.5" filter="url(#rb2)"/>
<path d="M137.40,337.50 Q138.11,339.43 137.40,341.37" stroke="#505050" stroke-width="0.48" fill="none" stroke-linecap="round"/>
<path d="M138.10,336.63 Q137.90,337.80 137.98,338.99" stroke="#505050" stroke-width="0.58" fill="none" stroke-linecap="round"/>
<path d="M139.54,334.99 Q139.34,336.72 139.05,338.45" stroke="#505050" stroke-width="0.50" fill="none" stroke-linecap="round"/>
<path d="M141.83,334.82 Q140.70,336.30 140.85,338.16" stroke="#505050" stroke-width="0.49" fill="none" stroke-linecap="round"/>
<path d="M144.21,334.81 Q142.23,336.79 142.07,339.57" stroke="#505050" stroke-width="0.46" fill="none" stroke-linecap="round"/>
<path d="M146.66,335.38 Q144.98,336.48 144.70,338.46" stroke="#505050" stroke-width="0.39" fill="none" stroke-linecap="round"/>
<path d="M149.55,336.33 Q148.31,339.00 145.80,340.54" stroke="#505050" stroke-width="0.56" fill="none" stroke-linecap="round"/>
<path d="M151.66,337.65 Q149.90,338.89 148.42,340.46" stroke="#505050" stroke-width="0.38" fill="none" stroke-linecap="round"/>
<path d="M154.21,340.01 Q151.89,340.65 150.22,342.38" stroke="#505050" stroke-width="0.54" fill="none" stroke-linecap="round"/>
<path d="M155.27,342.17 Q152.16,342.71 149.65,344.63" stroke="#505050" stroke-width="0.41" fill="none" stroke-linecap="round"/>
<path d="M157.09,345.92 Q155.19,346.22 153.33,346.70" stroke="#505050" stroke-width="0.54" fill="none" stroke-linecap="round"/>
<path d="M157.40,349.03 Q154.87,350.03 152.26,349.27" stroke="#505050" stroke-width="0.57" fill="none" stroke-linecap="round"/>
<path d="M157.51,352.56 Q154.20,353.17 151.15,351.75" stroke="#505050" stroke-width="0.54" fill="none" stroke-linecap="round"/>
<path d="M156.76,354.99 Q154.07,354.96 151.70,353.68" stroke="#505050" stroke-width="0.58" fill="none" stroke-linecap="round"/>
<path d="M155.55,358.25 Q153.30,357.30 151.11,356.23" stroke="#505050" stroke-width="0.45" fill="none" stroke-linecap="round"/>
<path d="M154.05,360.51 Q152.29,358.08 149.33,357.53" stroke="#505050" stroke-width="0.44" fill="none" stroke-linecap="round"/>
<path d="M150.95,362.90 Q149.12,361.87 148.00,360.09" stroke="#505050" stroke-width="0.46" fill="none" stroke-linecap="round"/>
<path d="M146.74,363.71 Q145.53,361.47 143.88,359.52" stroke="#505050" stroke-width="0.36" fill="none" stroke-linecap="round"/>
<path d="M143.75,364.20 Q142.51,363.45 142.78,362.03" stroke="#505050" stroke-width="0.44" fill="none" stroke-linecap="round"/>
<path d="M140.49,363.98 Q140.25,362.78 139.96,361.59" stroke="#505050" stroke-width="0.55" fill="none" stroke-linecap="round"/>
<path d="M137.40,363.37 Q137.28,361.14 137.40,358.91" stroke="#505050" stroke-width="0.39" fill="none" stroke-linecap="round"/>
<path d="M134.77,363.67 Q134.82,362.01 135.39,360.46" stroke="#505050" stroke-width="0.56" fill="none" stroke-linecap="round"/>
<path d="M131.63,364.31 Q132.96,362.01 133.59,359.44" stroke="#505050" stroke-width="0.59" fill="none" stroke-linecap="round"/>
<path d="M128.53,364.01 Q130.10,361.68 131.53,359.26" stroke="#505050" stroke-width="0.52" fill="none" stroke-linecap="round"/>
<path d="M124.49,363.02 Q125.46,361.41 127.06,360.43" stroke="#505050" stroke-width="0.39" fill="none" stroke-linecap="round"/>
<path d="M121.30,360.68 Q122.37,359.25 124.10,358.82" stroke="#505050" stroke-width="0.51" fill="none" stroke-linecap="round"/>
<path d="M119.70,359.05 Q121.13,357.66 123.11,357.31" stroke="#505050" stroke-width="0.41" fill="none" stroke-linecap="round"/>
<path d="M118.50,356.44 Q121.44,355.84 124.13,354.52" stroke="#505050" stroke-width="0.43" fill="none" stroke-linecap="round"/>
<path d="M117.29,352.56 Q119.84,351.55 122.56,351.89" stroke="#505050" stroke-width="0.59" fill="none" stroke-linecap="round"/>
<path d="M117.22,350.03 Q120.36,350.79 123.51,350.01" stroke="#505050" stroke-width="0.35" fill="none" stroke-linecap="round"/>
<path d="M117.71,345.92 Q120.01,346.40 122.32,346.87" stroke="#505050" stroke-width="0.59" fill="none" stroke-linecap="round"/>
<path d="M119.25,343.12 Q121.42,342.82 122.85,344.48" stroke="#505050" stroke-width="0.57" fill="none" stroke-linecap="round"/>
<path d="M120.46,340.47 Q122.77,342.15 125.41,343.25" stroke="#505050" stroke-width="0.59" fill="none" stroke-linecap="round"/>
<path d="M123.03,338.09 Q125.45,340.10 127.88,342.10" stroke="#505050" stroke-width="0.58" fill="none" stroke-linecap="round"/>
<path d="M124.49,336.71 Q125.40,338.09 126.75,339.03" stroke="#505050" stroke-width="0.36" fill="none" stroke-linecap="round"/>
<path d="M127.88,335.71 Q129.03,337.16 129.92,338.78" stroke="#505050" stroke-width="0.42" fill="none" stroke-linecap="round"/>
<path d="M129.76,334.96 Q130.20,337.17 131.73,338.83" stroke="#505050" stroke-width="0.35" fill="none" stroke-linecap="round"/>
<path d="M132.61,334.81 Q132.25,336.59 133.57,337.84" stroke="#505050" stroke-width="0.46" fill="none" stroke-linecap="round"/>
<path d="M134.65,334.82 Q135.32,337.34 135.58,339.94" stroke="#505050" stroke-width="0.45" fill="none" stroke-linecap="round"/>
<path d="M136.40,336.12 Q136.16,337.51 136.60,338.85" stroke="#505050" stroke-width="0.42" fill="none" stroke-linecap="round"/>
<path d="M137.40,337.50 L137.56,337.38 L137.70,337.22 L137.84,337.03 L137.97,336.83 L138.10,336.63 L138.24,336.43 L138.39,336.21 L138.56,335.97 L138.76,335.72 L138.99,335.47 L139.25,335.23 L139.54,334.99 L139.86,334.78 L140.19,334.62 L140.52,334.54 L140.85,334.53 L141.18,334.59 L141.51,334.70 L141.83,334.82 L142.16,334.92 L142.50,334.98 L142.88,334.99 L143.30,334.95 L143.74,334.89 L144.21,334.81 L144.68,334.76 L145.14,334.76 L145.57,334.83 L145.97,334.96 L146.33,335.15 L146.66,335.38 L146.99,335.62 L147.33,335.83 L147.70,336.01 L148.12,336.14 L148.57,336.22 L149.06,336.28 L149.55,336.33 L150.03,336.41 L150.48,336.54 L150.86,336.73 L151.18,336.99 L151.44,337.30 L151.66,337.65 L151.86,338.01 L152.08,338.35 L152.33,338.67 L152.64,338.95 L152.99,339.21 L153.40,339.46 L153.81,339.72 L154.21,340.01 L154.57,340.35 L154.85,340.74 L155.05,341.18 L155.19,341.66 L155.27,342.17 L155.34,342.67 L155.43,343.16 L155.56,343.63 L155.77,344.09 L156.06,344.53 L156.40,344.98 L156.75,345.44 L157.09,345.92 L157.36,346.42 L157.55,346.94 L157.63,347.47 L157.61,348.00 L157.52,348.52 L157.40,349.03 L157.28,349.53 L157.21,350.03 L157.20,350.52 L157.25,351.02 L157.34,351.53 L157.44,352.05 L157.51,352.56 L157.52,353.08 L157.45,353.58 L157.29,354.07 L157.05,354.54 L156.76,354.99 L156.46,355.43 L156.17,355.87 L155.94,356.32 L155.78,356.79 L155.67,357.27 L155.61,357.76 L155.55,358.25 L155.47,358.72 L155.33,359.17 L155.12,359.58 L154.83,359.94 L154.46,360.24 L154.05,360.51 L153.61,360.75 L153.18,361.00 L152.78,361.26 L152.41,361.55 L152.07,361.87 L151.72,362.22 L151.36,362.57 L150.95,362.90 L150.48,363.19 L149.94,363.42 L149.33,363.57 L148.69,363.66 L148.03,363.69 L147.37,363.70 L146.74,363.71 L146.11,363.75 L145.50,363.82 L144.90,363.93 L144.32,364.06 L143.75,364.20 L143.17,364.31 L142.59,364.38 L142.03,364.38 L141.48,364.32 L140.97,364.18 L140.49,363.98 L140.05,363.76 L139.63,363.55 L139.25,363.38 L138.89,363.27 L138.53,363.22 L138.17,363.23 L137.79,363.28 L137.40,363.37 L137.00,363.46 L136.61,363.54 L136.24,363.60 L135.87,363.62 L135.51,363.64 L135.15,363.64 L134.77,363.67 L134.37,363.72 L133.92,363.81 L133.43,363.92 L132.88,364.05 L132.27,364.19 L131.63,364.31 L130.97,364.38 L130.32,364.39 L129.68,364.32 L129.09,364.19 L128.53,364.01 L128.00,363.81 L127.49,363.61 L126.97,363.44 L126.41,363.30 L125.80,363.20 L125.15,363.11 L124.49,363.02 L123.85,362.90 L123.26,362.74 L122.74,362.50 L122.32,362.21 L121.98,361.86 L121.72,361.47 L121.51,361.07 L121.30,360.68 L121.06,360.31 L120.78,359.98 L120.45,359.66 L120.08,359.36 L119.70,359.05 L119.33,358.72 L119.01,358.36 L118.77,357.94 L118.61,357.47 L118.53,356.97 L118.50,356.44 L118.50,355.92 L118.47,355.40 L118.40,354.90 L118.26,354.42 L118.06,353.95 L117.81,353.50 L117.54,353.04 L117.29,352.56 L117.10,352.07 L117.00,351.57 L116.99,351.05 L117.07,350.54 L117.22,350.03 L117.38,349.53 L117.54,349.03 L117.66,348.54 L117.72,348.05 L117.73,347.54 L117.71,347.01 L117.69,346.46 L117.71,345.92 L117.79,345.38 L117.96,344.86 L118.21,344.38 L118.53,343.93 L118.89,343.51 L119.25,343.12 L119.58,342.72 L119.86,342.31 L120.08,341.88 L120.23,341.42 L120.35,340.95 L120.46,340.47 L120.59,340.01 L120.77,339.58 L121.03,339.21 L121.36,338.91 L121.76,338.66 L122.19,338.45 L122.62,338.27 L123.03,338.09 L123.41,337.88 L123.73,337.63 L124.00,337.35 L124.25,337.04 L124.49,336.71 L124.77,336.41 L125.09,336.15 L125.47,335.96 L125.91,335.83 L126.40,335.76 L126.90,335.74 L127.40,335.73 L127.88,335.71 L128.31,335.65 L128.71,335.54 L129.07,335.38 L129.41,335.17 L129.76,334.96 L130.12,334.76 L130.50,334.62 L130.91,334.54 L131.34,334.53 L131.77,334.59 L132.20,334.69 L132.61,334.81 L133.00,334.92 L133.37,334.98 L133.71,335.00 L134.04,334.96 L134.35,334.89 L134.65,334.82 L134.94,334.78 L135.23,334.79 L135.51,334.89 L135.77,335.06 L136.01,335.34 L136.22,335.71 L136.40,336.12 L136.56,336.52 L136.71,336.88 L136.84,337.18 L136.97,337.39 L137.11,337.51 L137.25,337.55 Z" fill="none" stroke="#555" stroke-width="0.6"/>
<line x1="137.40" y1="337.05" x2="137.40" y2="363.22" stroke="#3a3a3a" stroke-width="0.9" />
<g transform="rotate(0 132.60 351.75)" filter="url(#rb)">
<rect x="126.70" y="339.40" width="11.80" height="24.70" rx="3.54" fill="#2c4574" stroke="#1d3566" stroke-width="1.2"/>
</g><g transform="rotate(0 132.60 351.75)" filter="url(#rb2)">
<ellipse cx="132.60" cy="353.73" rx="4.48" ry="7.41" fill="#8f8c66"/>
<ellipse cx="132.60" cy="354.22" rx="3.07" ry="4.20" fill="#efdf48"/>
</g>
<clipPath id="cb15"><ellipse cx="235.30" cy="294.50" rx="14.70" ry="11.80"/></clipPath>
<ellipse cx="235.30" cy="294.50" rx="14.70" ry="11.80" fill="#c8c8c8" stroke="#555" stroke-width="0.6"/>
<g clip-path="url(#cb15)">
<line x1="233.83" y1="292.11" x2="252.82" y2="289.89" stroke="#6f6f6f" stroke-width="0.6"/>
<line x1="233.83" y1="292.11" x2="253.72" y2="294.97" stroke="#6f6f6f" stroke-width="0.6"/>
<line x1="233.83" y1="292.11" x2="252.43" y2="299.99" stroke="#6f6f6f" stroke-width="0.6"/>
<line x1="233.83" y1="292.11" x2="249.12" y2="304.37" stroke="#6f6f6f" stroke-width="0.6"/>
<line x1="233.83" y1="292.11" x2="244.18" y2="307.58" stroke="#6f6f6f" stroke-width="0.6"/>
<line x1="233.83" y1="292.11" x2="238.18" y2="309.24" stroke="#6f6f6f" stroke-width="0.6"/>
<line x1="233.83" y1="292.11" x2="231.85" y2="309.16" stroke="#6f6f6f" stroke-width="0.6"/>
<line x1="233.83" y1="292.11" x2="225.92" y2="307.35" stroke="#6f6f6f" stroke-width="0.6"/>
<line x1="233.83" y1="292.11" x2="221.10" y2="304.01" stroke="#6f6f6f" stroke-width="0.6"/>
<line x1="233.83" y1="292.11" x2="217.96" y2="299.56" stroke="#6f6f6f" stroke-width="0.6"/>
<line x1="233.83" y1="292.11" x2="216.88" y2="294.50" stroke="#6f6f6f" stroke-width="0.6"/>
<line x1="233.83" y1="292.11" x2="217.96" y2="289.44" stroke="#6f6f6f" stroke-width="0.6"/>
</g>
<ellipse cx="211.99" cy="289.28" rx="4.05" ry="5.37" fill="#6a6a6a" transform="rotate(-25 211.99 289.28)"/>
<clipPath id="bc5"><path d="M180.45,277.32 L179.84,278.37 L179.80,279.32 L180.47,280.10 L181.41,280.78 L182.01,281.51 L182.08,282.38 L181.99,283.30 L182.33,284.08 L183.29,284.61 L184.52,284.97 L185.48,285.41 L185.96,286.06 L186.24,286.81 L186.85,287.41 L188.02,287.70 L189.50,287.78 L190.79,287.93 L191.65,288.32 L192.27,288.87 L193.08,289.29 L194.34,289.37 L195.94,289.18 L197.47,289.01 L198.70,289.09 L199.74,289.38 L200.85,289.58 L202.20,289.47 L203.68,289.11 L205.02,288.78 L206.05,288.72 L206.82,288.89 L207.54,289.03 L208.35,288.87 L209.22,288.44 L210.04,287.99 L210.73,287.78 L211.32,287.84 L211.92,287.95 L212.63,287.86 L213.45,287.56 L214.26,287.23 L214.99,287.14 L215.67,287.34 L216.36,287.65 L217.09,287.78 L217.86,287.64 L218.65,287.38 L219.50,287.27 L220.48,287.42 L221.61,287.65 L222.87,287.69 L224.14,287.44 L225.42,287.04 L226.80,286.74 L228.39,286.71 L230.15,286.81 L231.85,286.80 L233.29,286.52 L234.47,286.09 L235.61,285.74 L237.02,285.66 L238.71,285.77 L240.34,285.83 L241.59,285.65 L242.48,285.28 L243.35,284.94 L244.58,284.78 L246.16,284.76 L247.64,284.66 L248.57,284.28 L248.97,283.67 L249.30,283.03 L250.04,282.52 L251.23,282.14 L252.42,281.72 L253.07,281.10 L253.07,280.31 L252.90,279.48 L253.12,278.74 L253.85,278.09 L254.64,277.40 L254.88,276.56 L254.41,275.59 L253.67,274.60 L253.29,273.63 L253.47,272.68 L253.83,271.71 L253.76,270.71 L253.04,269.74 L252.04,268.83 L251.33,267.94 L251.17,266.98 L251.24,265.97 L250.98,264.97 L250.10,264.08 L248.88,263.28 L247.86,262.45 L247.35,261.47 L247.13,260.36 L246.70,259.29 L245.75,258.38 L244.46,257.61 L243.27,256.78 L242.50,255.72 L242.01,254.45 L241.39,253.22 L240.34,252.30 L238.97,251.73 L237.63,251.22 L236.60,250.50 L235.81,249.54 L234.95,248.61 L233.77,248.05 L232.34,247.91 L230.90,247.86 L229.64,247.54 L228.54,246.90 L227.39,246.24 L226.05,245.98 L224.55,246.20 L223.02,246.59 L221.53,246.73 L220.07,246.52 L218.54,246.25 L216.93,246.33 L215.32,246.89 L213.77,247.64 L212.22,248.19 L210.59,248.39 L208.89,248.47 L207.21,248.84 L205.65,249.66 L204.21,250.72 L202.70,251.65 L200.96,252.29 L199.05,252.78 L197.27,253.46 L195.90,254.45 L194.89,255.61 L193.91,256.65 L192.66,257.44 L191.17,258.10 L189.86,258.87 L189.04,259.86 L188.67,261.00 L188.29,262.10 L187.50,263.05 L186.31,263.92 L185.17,264.86 L184.53,265.92 L184.36,267.08 L184.21,268.26 L183.60,269.42 L182.49,270.59 L181.37,271.79 L180.79,273.01 L180.87,274.16 L181.14,275.22 L181.03,276.26 Z"/></clipPath>
<path d="M180.45,277.32 L179.84,278.37 L179.80,279.32 L180.47,280.10 L181.41,280.78 L182.01,281.51 L182.08,282.38 L181.99,283.30 L182.33,284.08 L183.29,284.61 L184.52,284.97 L185.48,285.41 L185.96,286.06 L186.24,286.81 L186.85,287.41 L188.02,287.70 L189.50,287.78 L190.79,287.93 L191.65,288.32 L192.27,288.87 L193.08,289.29 L194.34,289.37 L195.94,289.18 L197.47,289.01 L198.70,289.09 L199.74,289.38 L200.85,289.58 L202.20,289.47 L203.68,289.11 L205.02,288.78 L206.05,288.72 L206.82,288.89 L207.54,289.03 L208.35,288.87 L209.22,288.44 L210.04,287.99 L210.73,287.78 L211.32,287.84 L211.92,287.95 L212.63,287.86 L213.45,287.56 L214.26,287.23 L214.99,287.14 L215.67,287.34 L216.36,287.65 L217.09,287.78 L217.86,287.64 L218.65,287.38 L219.50,287.27 L220.48,287.42 L221.61,287.65 L222.87,287.69 L224.14,287.44 L225.42,287.04 L226.80,286.74 L228.39,286.71 L230.15,286.81 L231.85,286.80 L233.29,286.52 L234.47,286.09 L235.61,285.74 L237.02,285.66 L238.71,285.77 L240.34,285.83 L241.59,285.65 L242.48,285.28 L243.35,284.94 L244.58,284.78 L246.16,284.76 L247.64,284.66 L248.57,284.28 L248.97,283.67 L249.30,283.03 L250.04,282.52 L251.23,282.14 L252.42,281.72 L253.07,281.10 L253.07,280.31 L252.90,279.48 L253.12,278.74 L253.85,278.09 L254.64,277.40 L254.88,276.56 L254.41,275.59 L253.67,274.60 L253.29,273.63 L253.47,272.68 L253.83,271.71 L253.76,270.71 L253.04,269.74 L252.04,268.83 L251.33,267.94 L251.17,266.98 L251.24,265.97 L250.98,264.97 L250.10,264.08 L248.88,263.28 L247.86,262.45 L247.35,261.47 L247.13,260.36 L246.70,259.29 L245.75,258.38 L244.46,257.61 L243.27,256.78 L242.50,255.72 L242.01,254.45 L241.39,253.22 L240.34,252.30 L238.97,251.73 L237.63,251.22 L236.60,250.50 L235.81,249.54 L234.95,248.61 L233.77,248.05 L232.34,247.91 L230.90,247.86 L229.64,247.54 L228.54,246.90 L227.39,246.24 L226.05,245.98 L224.55,246.20 L223.02,246.59 L221.53,246.73 L220.07,246.52 L218.54,246.25 L216.93,246.33 L215.32,246.89 L213.77,247.64 L212.22,248.19 L210.59,248.39 L208.89,248.47 L207.21,248.84 L205.65,249.66 L204.21,250.72 L202.70,251.65 L200.96,252.29 L199.05,252.78 L197.27,253.46 L195.90,254.45 L194.89,255.61 L193.91,256.65 L192.66,257.44 L191.17,258.10 L189.86,258.87 L189.04,259.86 L188.67,261.00 L188.29,262.10 L187.50,263.05 L186.31,263.92 L185.17,264.86 L184.53,265.92 L184.36,267.08 L184.21,268.26 L183.60,269.42 L182.49,270.59 L181.37,271.79 L180.79,273.01 L180.87,274.16 L181.14,275.22 L181.03,276.26 Z" fill="#d6d6d6"/>
<path d="M188.61,276.00 L187.37,276.96 L186.34,277.93 L190.12,277.81 L191.27,278.19 L191.94,278.64 L190.02,279.89 L188.06,281.24 L189.29,281.54 L191.46,281.41 L193.58,281.20 L195.08,281.16 L194.05,282.25 L192.68,283.59 L192.07,284.64 L194.17,284.25 L196.91,283.38 L198.91,282.83 L197.80,284.23 L197.33,285.32 L197.77,285.80 L199.35,285.42 L201.80,284.26 L203.67,283.45 L203.58,284.41 L203.51,285.48 L203.80,286.28 L205.09,285.98 L207.17,284.51 L208.67,283.53 L208.93,284.21 L208.88,285.41 L209.32,285.76 L209.98,285.63 L211.41,283.73 L212.25,282.83 L212.62,282.94 L212.54,284.38 L212.86,284.98 L213.48,284.76 L214.40,283.40 L215.11,282.58 L215.58,282.86 L216.04,283.31 L216.52,284.31 L217.11,284.34 L217.69,283.73 L218.24,282.98 L218.82,282.67 L219.65,283.42 L220.75,284.48 L221.72,284.42 L222.66,284.03 L223.03,282.51 L223.84,282.04 L225.44,282.69 L227.71,283.91 L229.02,283.83 L229.97,283.40 L229.56,281.92 L230.08,281.43 L231.46,281.66 L234.59,283.02 L236.35,283.34 L236.34,282.59 L235.27,281.32 L235.53,280.89 L237.01,281.08 L240.32,282.07 L242.54,282.44 L242.39,281.74 L240.39,280.35 L239.15,279.35 L241.41,279.60 L244.24,279.93 L245.41,279.66 L245.89,279.16 L243.98,278.05 L243.05,277.25 L242.21,276.51 L244.70,276.42 L248.09,276.35 L247.65,275.57 L245.27,274.56 L243.45,273.69 L242.95,272.99 L245.01,272.38 L246.42,271.64 L246.22,270.85 L243.92,270.16 L241.82,269.58 L241.49,268.93 L242.50,268.10 L244.30,267.07 L244.83,266.13 L242.92,265.67 L240.12,265.51 L238.51,265.17 L239.93,263.90 L241.38,262.47 L241.70,261.33 L239.97,261.00 L236.47,261.63 L235.67,261.03 L235.57,260.00 L236.65,258.09 L236.95,256.54 L235.15,256.58 L232.96,257.14 L231.94,256.82 L231.12,256.38 L232.03,253.96 L231.79,252.65 L230.28,252.96 L228.33,254.11 L226.89,254.72 L226.23,254.06 L225.87,252.62 L225.30,251.37 L224.18,251.31 L222.82,252.08 L221.35,253.62 L220.20,254.21 L219.42,252.06 L218.28,250.95 L216.98,251.30 L215.73,252.36 L214.79,254.85 L213.74,255.34 L212.24,254.17 L210.42,252.71 L209.06,253.03 L208.31,254.68 L207.66,256.23 L207.03,257.57 L204.89,256.92 L203.03,256.88 L200.73,256.58 L200.90,258.43 L200.91,259.87 L200.50,260.83 L198.94,261.02 L196.48,260.81 L194.82,261.14 L194.77,262.21 L196.49,263.85 L197.20,264.96 L195.46,265.29 L192.91,265.52 L191.54,266.16 L191.22,267.04 L192.97,268.21 L194.46,269.23 L192.65,269.95 L189.83,270.75 L188.23,271.71 L187.53,272.71 L189.33,273.51 L191.52,274.11 L191.45,274.85 Z" fill="#f2f2f2"/>
<g clip-path="url(#bc5)"><rect x="178.8" y="245.0" width="77.1" height="45.6" fill="#fff" filter="url(#gyri)"/></g>
<path d="M195.04,274.96 L195.05,275.52 L195.13,276.06 L195.26,276.58 L195.45,277.09 L195.69,277.56 L195.97,278.02 L196.28,278.45 L196.63,278.86 L197.00,279.25 L197.38,279.61 L197.80,279.95 L198.26,280.26 L198.76,280.56 L199.29,280.82 L199.85,281.07 L200.44,281.29 L201.05,281.49 L201.67,281.66 L202.31,281.81 L202.96,281.94 L203.64,282.04 L204.37,282.10 L205.14,282.14 L205.93,282.15 L206.73,282.14 L207.53,282.12 L208.31,282.08 L209.05,282.04 L209.75,281.99 L210.38,281.94 L210.95,281.88 L211.47,281.80 L211.95,281.71 L212.40,281.60 L212.82,281.49 L213.23,281.38 L213.64,281.28 L214.05,281.18 L214.48,281.10 L214.94,281.05 L215.40,281.01 L215.83,281.00 L216.26,281.01 L216.68,281.02 L217.12,281.05 L217.57,281.07 L218.06,281.08 L218.58,281.09 L219.16,281.08 L219.80,281.05 L220.52,280.99 L221.31,280.93 L222.16,280.85 L223.05,280.76 L223.96,280.67 L224.89,280.57 L225.82,280.47 L226.73,280.36 L227.60,280.25 L228.43,280.15 L229.23,280.06 L230.03,279.98 L230.83,279.90 L231.62,279.83 L232.39,279.74 L233.14,279.65 L233.85,279.53 L234.52,279.39 L235.15,279.22 L235.72,279.00 L236.25,278.75 L236.74,278.48 L237.20,278.17 L237.62,277.84 L238.01,277.49 L238.35,277.12 L238.65,276.72 L238.90,276.31 L239.11,275.87 L239.26,275.42 L239.36,274.94 L239.40,274.43 L239.39,273.89 L239.33,273.33 L239.23,272.75 L239.09,272.17 L238.92,271.57 L238.73,270.98 L238.52,270.40 L238.29,269.83 L238.04,269.27 L237.75,268.72 L237.43,268.16 L237.09,267.60 L236.72,267.04 L236.32,266.48 L235.91,265.92 L235.48,265.36 L235.03,264.80 L234.57,264.25 L234.10,263.67 L233.61,263.08 L233.10,262.47 L232.57,261.85 L232.02,261.25 L231.45,260.66 L230.87,260.09 L230.26,259.57 L229.64,259.08 L229.00,258.66 L228.34,258.28 L227.66,257.92 L226.97,257.60 L226.25,257.31 L225.52,257.05 L224.77,256.83 L224.00,256.65 L223.21,256.50 L222.40,256.40 L221.57,256.33 L220.72,256.31 L219.83,256.32 L218.91,256.38 L217.97,256.48 L217.02,256.61 L216.06,256.78 L215.10,256.98 L214.14,257.21 L213.18,257.47 L212.24,257.76 L211.29,258.09 L210.31,258.46 L209.32,258.88 L208.32,259.33 L207.33,259.80 L206.37,260.30 L205.43,260.81 L204.54,261.33 L203.71,261.86 L202.96,262.38 L202.27,262.91 L201.63,263.45 L201.05,264.00 L200.51,264.56 L200.01,265.13 L199.54,265.71 L199.10,266.31 L198.68,266.91 L198.27,267.53 L197.87,268.15 L197.47,268.80 L197.08,269.48 L196.69,270.18 L196.33,270.90 L195.99,271.62 L195.69,272.34 L195.44,273.04 L195.24,273.72 L195.10,274.36 Z" fill="#f2f2f2" opacity="0.5" filter="url(#rb2)"/>
<path d="M180.45,277.32 Q182.92,275.89 185.71,276.47" stroke="#505050" stroke-width="0.60" fill="none" stroke-linecap="round"/>
<path d="M179.80,279.32 Q185.31,279.08 190.44,277.06" stroke="#505050" stroke-width="0.55" fill="none" stroke-linecap="round"/>
<path d="M182.01,281.51 Q185.81,279.07 190.32,279.11" stroke="#505050" stroke-width="0.52" fill="none" stroke-linecap="round"/>
<path d="M183.29,284.61 Q187.58,283.10 191.75,281.30" stroke="#505050" stroke-width="0.57" fill="none" stroke-linecap="round"/>
<path d="M185.48,285.41 Q188.45,285.76 190.18,283.33" stroke="#505050" stroke-width="0.36" fill="none" stroke-linecap="round"/>
<path d="M188.02,287.70 Q191.61,287.42 193.72,284.51" stroke="#505050" stroke-width="0.44" fill="none" stroke-linecap="round"/>
<path d="M191.65,288.32 Q194.29,286.48 197.01,284.76" stroke="#505050" stroke-width="0.47" fill="none" stroke-linecap="round"/>
<path d="M194.34,289.37 Q196.79,287.14 199.53,285.28" stroke="#505050" stroke-width="0.46" fill="none" stroke-linecap="round"/>
<path d="M199.74,289.38 Q201.76,286.19 204.89,284.05" stroke="#505050" stroke-width="0.59" fill="none" stroke-linecap="round"/>
<path d="M200.85,289.58 Q203.19,288.72 203.78,286.30" stroke="#505050" stroke-width="0.39" fill="none" stroke-linecap="round"/>
<path d="M206.82,288.89 Q208.60,286.41 209.91,283.66" stroke="#505050" stroke-width="0.46" fill="none" stroke-linecap="round"/>
<path d="M207.54,289.03 Q208.43,287.21 209.48,285.48" stroke="#505050" stroke-width="0.55" fill="none" stroke-linecap="round"/>
<path d="M210.73,287.78 Q211.39,285.53 212.43,283.43" stroke="#505050" stroke-width="0.51" fill="none" stroke-linecap="round"/>
<path d="M213.45,287.56 Q214.61,286.55 214.00,285.13" stroke="#505050" stroke-width="0.46" fill="none" stroke-linecap="round"/>
<path d="M215.67,287.34 Q216.02,285.00 216.11,282.63" stroke="#505050" stroke-width="0.48" fill="none" stroke-linecap="round"/>
<path d="M217.09,287.78 Q217.61,286.47 217.10,285.16" stroke="#505050" stroke-width="0.48" fill="none" stroke-linecap="round"/>
<path d="M220.48,287.42 Q220.42,285.38 219.66,283.48" stroke="#505050" stroke-width="0.43" fill="none" stroke-linecap="round"/>
<path d="M225.42,287.04 Q223.98,285.78 223.76,283.89" stroke="#505050" stroke-width="0.57" fill="none" stroke-linecap="round"/>
<path d="M230.15,286.81 Q229.94,285.11 228.30,284.62" stroke="#505050" stroke-width="0.52" fill="none" stroke-linecap="round"/>
<path d="M233.29,286.52 Q232.26,284.01 229.69,283.14" stroke="#505050" stroke-width="0.39" fill="none" stroke-linecap="round"/>
<path d="M237.02,285.66 Q234.80,285.33 233.78,283.33" stroke="#505050" stroke-width="0.59" fill="none" stroke-linecap="round"/>
<path d="M242.48,285.28 Q239.95,282.74 236.45,281.97" stroke="#505050" stroke-width="0.45" fill="none" stroke-linecap="round"/>
<path d="M244.58,284.78 Q241.92,282.20 238.26,281.69" stroke="#505050" stroke-width="0.53" fill="none" stroke-linecap="round"/>
<path d="M248.57,284.28 Q244.76,283.15 241.25,281.28" stroke="#505050" stroke-width="0.55" fill="none" stroke-linecap="round"/>
<path d="M251.23,282.14 Q246.59,281.48 242.40,279.35" stroke="#505050" stroke-width="0.45" fill="none" stroke-linecap="round"/>
<path d="M253.07,280.31 Q249.87,278.76 246.32,278.63" stroke="#505050" stroke-width="0.37" fill="none" stroke-linecap="round"/>
<path d="M253.12,278.74 Q250.38,277.41 247.34,277.56" stroke="#505050" stroke-width="0.41" fill="none" stroke-linecap="round"/>
<path d="M254.41,275.59 Q252.02,274.46 249.45,275.03" stroke="#505050" stroke-width="0.53" fill="none" stroke-linecap="round"/>
<path d="M253.29,273.63 Q250.28,274.53 247.40,273.26" stroke="#505050" stroke-width="0.47" fill="none" stroke-linecap="round"/>
<path d="M253.76,270.71 Q250.77,269.43 247.82,270.82" stroke="#505050" stroke-width="0.58" fill="none" stroke-linecap="round"/>
<path d="M251.33,267.94 Q247.62,267.65 244.03,268.67" stroke="#505050" stroke-width="0.59" fill="none" stroke-linecap="round"/>
<path d="M250.10,264.08 Q246.31,263.79 243.00,265.65" stroke="#505050" stroke-width="0.55" fill="none" stroke-linecap="round"/>
<path d="M247.35,261.47 Q243.47,261.49 240.34,263.77" stroke="#505050" stroke-width="0.36" fill="none" stroke-linecap="round"/>
<path d="M244.46,257.61 Q242.51,259.19 240.09,259.81" stroke="#505050" stroke-width="0.45" fill="none" stroke-linecap="round"/>
<path d="M242.50,255.72 Q239.47,257.23 236.76,259.26" stroke="#505050" stroke-width="0.43" fill="none" stroke-linecap="round"/>
<path d="M240.34,252.30 Q236.59,253.37 234.82,256.84" stroke="#505050" stroke-width="0.45" fill="none" stroke-linecap="round"/>
<path d="M237.63,251.22 Q233.89,253.03 232.03,256.74" stroke="#505050" stroke-width="0.56" fill="none" stroke-linecap="round"/>
<path d="M232.34,247.91 Q232.08,250.99 229.38,252.49" stroke="#505050" stroke-width="0.58" fill="none" stroke-linecap="round"/>
<path d="M229.64,247.54 Q228.40,249.05 227.87,250.93" stroke="#505050" stroke-width="0.36" fill="none" stroke-linecap="round"/>
<path d="M226.05,245.98 Q224.11,248.56 224.02,251.79" stroke="#505050" stroke-width="0.44" fill="none" stroke-linecap="round"/>
<path d="M221.53,246.73 Q220.19,248.80 220.74,251.21" stroke="#505050" stroke-width="0.37" fill="none" stroke-linecap="round"/>
<path d="M216.93,246.33 Q215.60,248.63 216.97,250.91" stroke="#505050" stroke-width="0.57" fill="none" stroke-linecap="round"/>
<path d="M208.89,248.47 Q209.42,249.94 209.95,251.42" stroke="#505050" stroke-width="0.39" fill="none" stroke-linecap="round"/>
<path d="M205.65,249.66 Q207.21,252.49 208.67,255.37" stroke="#505050" stroke-width="0.52" fill="none" stroke-linecap="round"/>
<path d="M200.96,252.29 Q202.92,254.09 204.38,256.32" stroke="#505050" stroke-width="0.41" fill="none" stroke-linecap="round"/>
<path d="M195.90,254.45 Q198.10,258.15 202.20,259.47" stroke="#505050" stroke-width="0.58" fill="none" stroke-linecap="round"/>
<path d="M191.17,258.10 Q194.27,259.67 197.36,261.26" stroke="#505050" stroke-width="0.38" fill="none" stroke-linecap="round"/>
<path d="M188.67,261.00 Q190.31,263.26 193.03,262.59" stroke="#505050" stroke-width="0.56" fill="none" stroke-linecap="round"/>
<path d="M187.50,263.05 Q191.44,265.14 195.89,265.41" stroke="#505050" stroke-width="0.55" fill="none" stroke-linecap="round"/>
<path d="M185.17,264.86 Q188.14,264.08 190.57,265.96" stroke="#505050" stroke-width="0.59" fill="none" stroke-linecap="round"/>
<path d="M183.60,269.42 Q186.89,270.63 190.30,269.81" stroke="#505050" stroke-width="0.45" fill="none" stroke-linecap="round"/>
<path d="M180.87,274.16 Q185.05,273.31 189.30,273.51" stroke="#505050" stroke-width="0.58" fill="none" stroke-linecap="round"/>
<path d="M180.45,277.32 L179.84,278.37 L179.80,279.32 L180.47,280.10 L181.41,280.78 L182.01,281.51 L182.08,282.38 L181.99,283.30 L182.33,284.08 L183.29,284.61 L184.52,284.97 L185.48,285.41 L185.96,286.06 L186.24,286.81 L186.85,287.41 L188.02,287.70 L189.50,287.78 L190.79,287.93 L191.65,288.32 L192.27,288.87 L193.08,289.29 L194.34,289.37 L195.94,289.18 L197.47,289.01 L198.70,289.09 L199.74,289.38 L200.85,289.58 L202.20,289.47 L203.68,289.11 L205.02,288.78 L206.05,288.72 L206.82,288.89 L207.54,289.03 L208.35,288.87 L209.22,288.44 L210.04,287.99 L210.73,287.78 L211.32,287.84 L211.92,287.95 L212.63,287.86 L213.45,287.56 L214.26,287.23 L214.99,287.14 L215.67,287.34 L216.36,287.65 L217.09,287.78 L217.86,287.64 L218.65,287.38 L219.50,287.27 L220.48,287.42 L221.61,287.65 L222.87,287.69 L224.14,287.44 L225.42,287.04 L226.80,286.74 L228.39,286.71 L230.15,286.81 L231.85,286.80 L233.29,286.52 L234.47,286.09 L235.61,285.74 L237.02,285.66 L238.71,285.77 L240.34,285.83 L241.59,285.65 L242.48,285.28 L243.35,284.94 L244.58,284.78 L246.16,284.76 L247.64,284.66 L248.57,284.28 L248.97,283.67 L249.30,283.03 L250.04,282.52 L251.23,282.14 L252.42,281.72 L253.07,281.10 L253.07,280.31 L252.90,279.48 L253.12,278.74 L253.85,278.09 L254.64,277.40 L254.88,276.56 L254.41,275.59 L253.67,274.60 L253.29,273.63 L253.47,272.68 L253.83,271.71 L253.76,270.71 L253.04,269.74 L252.04,268.83 L251.33,267.94 L251.17,266.98 L251.24,265.97 L250.98,264.97 L250.10,264.08 L248.88,263.28 L247.86,262.45 L247.35,261.47 L247.13,260.36 L246.70,259.29 L245.75,258.38 L244.46,257.61 L243.27,256.78 L242.50,255.72 L242.01,254.45 L241.39,253.22 L240.34,252.30 L238.97,251.73 L237.63,251.22 L236.60,250.50 L235.81,249.54 L234.95,248.61 L233.77,248.05 L232.34,247.91 L230.90,247.86 L229.64,247.54 L228.54,246.90 L227.39,246.24 L226.05,245.98 L224.55,246.20 L223.02,246.59 L221.53,246.73 L220.07,246.52 L218.54,246.25 L216.93,246.33 L215.32,246.89 L213.77,247.64 L212.22,248.19 L210.59,248.39 L208.89,248.47 L207.21,248.84 L205.65,249.66 L204.21,250.72 L202.70,251.65 L200.96,252.29 L199.05,252.78 L197.27,253.46 L195.90,254.45 L194.89,255.61 L193.91,256.65 L192.66,257.44 L191.17,258.10 L189.86,258.87 L189.04,259.86 L188.67,261.00 L188.29,262.10 L187.50,263.05 L186.31,263.92 L185.17,264.86 L184.53,265.92 L184.36,267.08 L184.21,268.26 L183.60,269.42 L182.49,270.59 L181.37,271.79 L180.79,273.01 L180.87,274.16 L181.14,275.22 L181.03,276.26 Z" fill="none" stroke="#555" stroke-width="0.6"/>
<path d="M197.99,279.73 C202.41,264.21 225.99,263.02 228.94,272.57" stroke="#505050" stroke-width="3.8" fill="none"/>
<path d="M197.99,279.73 C202.41,264.21 225.99,263.02 228.94,272.57" stroke="#fbfbfb" stroke-width="2.4" fill="none"/>
<path d="M202.41,282.12 C205.36,270.18 223.05,268.99 225.99,276.15 L223.05,283.31 C217.15,285.70 208.31,285.70 202.41,282.12 Z" fill="#b2b2b2"/>
<ellipse cx="214.20" cy="279.73" rx="7.37" ry="4.78" fill="#c6c6c6"/>
<g transform="rotate(-14 244.70 276.50)" filter="url(#rb)">
<rect x="237.20" y="267.50" width="15.00" height="18.00" rx="2.2" fill="#8a8660" stroke="#1f3766" stroke-width="2.3"/>
<rect x="240.20" y="270.50" width="9.00" height="12.00" rx="1" fill="#e4d450"/>
</g>
<clipPath id="cb16"><ellipse cx="195.60" cy="372.60" rx="10.90" ry="11.40"/></clipPath>
<ellipse cx="195.60" cy="372.60" rx="10.90" ry="11.40" fill="#c8c8c8" stroke="#555" stroke-width="0.6"/>
<g clip-path="url(#cb16)">
<line x1="197.07" y1="370.16" x2="178.08" y2="367.88" stroke="#6f6f6f" stroke-width="0.6"/>
<line x1="197.07" y1="370.16" x2="177.18" y2="373.08" stroke="#6f6f6f" stroke-width="0.6"/>
<line x1="197.07" y1="370.16" x2="178.47" y2="378.22" stroke="#6f6f6f" stroke-width="0.6"/>
<line x1="197.07" y1="370.16" x2="181.78" y2="382.70" stroke="#6f6f6f" stroke-width="0.6"/>
<line x1="197.07" y1="370.16" x2="186.72" y2="385.99" stroke="#6f6f6f" stroke-width="0.6"/>
<line x1="197.07" y1="370.16" x2="192.72" y2="387.69" stroke="#6f6f6f" stroke-width="0.6"/>
<line x1="197.07" y1="370.16" x2="199.05" y2="387.60" stroke="#6f6f6f" stroke-width="0.6"/>
<line x1="197.07" y1="370.16" x2="204.98" y2="385.75" stroke="#6f6f6f" stroke-width="0.6"/>
<line x1="197.07" y1="370.16" x2="209.80" y2="382.34" stroke="#6f6f6f" stroke-width="0.6"/>
<line x1="197.07" y1="370.16" x2="212.94" y2="377.77" stroke="#6f6f6f" stroke-width="0.6"/>
<line x1="197.07" y1="370.16" x2="214.03" y2="372.60" stroke="#6f6f6f" stroke-width="0.6"/>
<line x1="197.07" y1="370.16" x2="212.94" y2="367.43" stroke="#6f6f6f" stroke-width="0.6"/>
</g>
<ellipse cx="222.41" cy="366.79" rx="4.05" ry="5.50" fill="#6a6a6a" transform="rotate(25 222.41 366.79)"/>
<clipPath id="bc6"><path d="M254.61,354.66 L253.98,355.51 L253.35,356.33 L253.20,357.22 L253.46,358.22 L253.59,359.19 L253.10,359.97 L252.04,360.54 L250.93,361.04 L250.30,361.68 L250.14,362.49 L249.96,363.30 L249.26,363.88 L247.99,364.17 L246.61,364.36 L245.59,364.71 L244.98,365.30 L244.43,365.93 L243.50,366.32 L242.13,366.37 L240.63,366.28 L239.37,366.33 L238.40,366.64 L237.48,367.02 L236.28,367.18 L234.75,366.98 L233.13,366.62 L231.72,366.40 L230.62,366.47 L229.68,366.71 L228.73,366.81 L227.69,366.58 L226.65,366.13 L225.76,365.78 L225.08,365.71 L224.50,365.82 L223.89,365.83 L223.17,365.57 L222.39,365.12 L221.62,364.77 L220.88,364.73 L220.18,364.95 L219.48,365.16 L218.76,365.14 L218.03,364.90 L217.30,364.70 L216.56,364.74 L215.74,365.02 L214.82,365.29 L213.84,365.28 L212.82,364.98 L211.72,364.63 L210.43,364.49 L208.93,364.58 L207.29,364.70 L205.70,364.59 L204.29,364.21 L202.99,363.77 L201.57,363.52 L199.93,363.52 L198.24,363.60 L196.76,363.54 L195.63,363.24 L194.69,362.85 L193.57,362.62 L192.06,362.62 L190.36,362.71 L188.91,362.63 L188.02,362.27 L187.49,361.73 L186.85,361.24 L185.76,360.91 L184.37,360.66 L183.24,360.26 L182.72,359.63 L182.68,358.84 L182.53,358.08 L181.88,357.46 L180.85,356.91 L180.03,356.27 L179.89,355.46 L180.34,354.54 L180.78,353.59 L180.73,352.70 L180.24,351.80 L179.87,350.85 L180.12,349.83 L180.96,348.80 L181.83,347.81 L182.21,346.83 L182.08,345.84 L181.94,344.83 L182.34,343.85 L183.35,342.96 L184.47,342.11 L185.20,341.20 L185.43,340.15 L185.59,339.05 L186.17,338.03 L187.28,337.19 L188.55,336.44 L189.50,335.56 L190.01,334.41 L190.39,333.11 L191.09,331.93 L192.26,331.05 L193.63,330.35 L194.80,329.57 L195.60,328.51 L196.26,327.33 L197.14,326.38 L198.40,325.88 L199.84,325.67 L201.18,325.39 L202.25,324.76 L203.22,323.90 L204.33,323.23 L205.69,323.02 L207.19,323.20 L208.65,323.35 L209.98,323.15 L211.29,322.69 L212.71,322.37 L214.27,322.52 L215.88,323.09 L217.46,323.68 L219.04,323.95 L220.67,323.91 L222.35,323.94 L223.97,324.37 L225.44,325.21 L226.87,326.13 L228.45,326.81 L230.26,327.21 L232.16,327.63 L233.89,328.38 L235.30,329.49 L236.53,330.67 L237.89,331.64 L239.52,332.33 L241.18,332.95 L242.50,333.77 L243.29,334.85 L243.80,336.01 L244.48,337.04 L245.58,337.90 L246.87,338.72 L247.88,339.66 L248.33,340.78 L248.47,341.95 L248.81,343.06 L249.70,344.12 L250.93,345.21 L251.95,346.39 L252.36,347.65 L252.32,348.88 L252.39,350.08 L252.97,351.27 L253.92,352.47 L254.62,353.64 Z"/></clipPath>
<path d="M254.61,354.66 L253.98,355.51 L253.35,356.33 L253.20,357.22 L253.46,358.22 L253.59,359.19 L253.10,359.97 L252.04,360.54 L250.93,361.04 L250.30,361.68 L250.14,362.49 L249.96,363.30 L249.26,363.88 L247.99,364.17 L246.61,364.36 L245.59,364.71 L244.98,365.30 L244.43,365.93 L243.50,366.32 L242.13,366.37 L240.63,366.28 L239.37,366.33 L238.40,366.64 L237.48,367.02 L236.28,367.18 L234.75,366.98 L233.13,366.62 L231.72,366.40 L230.62,366.47 L229.68,366.71 L228.73,366.81 L227.69,366.58 L226.65,366.13 L225.76,365.78 L225.08,365.71 L224.50,365.82 L223.89,365.83 L223.17,365.57 L222.39,365.12 L221.62,364.77 L220.88,364.73 L220.18,364.95 L219.48,365.16 L218.76,365.14 L218.03,364.90 L217.30,364.70 L216.56,364.74 L215.74,365.02 L214.82,365.29 L213.84,365.28 L212.82,364.98 L211.72,364.63 L210.43,364.49 L208.93,364.58 L207.29,364.70 L205.70,364.59 L204.29,364.21 L202.99,363.77 L201.57,363.52 L199.93,363.52 L198.24,363.60 L196.76,363.54 L195.63,363.24 L194.69,362.85 L193.57,362.62 L192.06,362.62 L190.36,362.71 L188.91,362.63 L188.02,362.27 L187.49,361.73 L186.85,361.24 L185.76,360.91 L184.37,360.66 L183.24,360.26 L182.72,359.63 L182.68,358.84 L182.53,358.08 L181.88,357.46 L180.85,356.91 L180.03,356.27 L179.89,355.46 L180.34,354.54 L180.78,353.59 L180.73,352.70 L180.24,351.80 L179.87,350.85 L180.12,349.83 L180.96,348.80 L181.83,347.81 L182.21,346.83 L182.08,345.84 L181.94,344.83 L182.34,343.85 L183.35,342.96 L184.47,342.11 L185.20,341.20 L185.43,340.15 L185.59,339.05 L186.17,338.03 L187.28,337.19 L188.55,336.44 L189.50,335.56 L190.01,334.41 L190.39,333.11 L191.09,331.93 L192.26,331.05 L193.63,330.35 L194.80,329.57 L195.60,328.51 L196.26,327.33 L197.14,326.38 L198.40,325.88 L199.84,325.67 L201.18,325.39 L202.25,324.76 L203.22,323.90 L204.33,323.23 L205.69,323.02 L207.19,323.20 L208.65,323.35 L209.98,323.15 L211.29,322.69 L212.71,322.37 L214.27,322.52 L215.88,323.09 L217.46,323.68 L219.04,323.95 L220.67,323.91 L222.35,323.94 L223.97,324.37 L225.44,325.21 L226.87,326.13 L228.45,326.81 L230.26,327.21 L232.16,327.63 L233.89,328.38 L235.30,329.49 L236.53,330.67 L237.89,331.64 L239.52,332.33 L241.18,332.95 L242.50,333.77 L243.29,334.85 L243.80,336.01 L244.48,337.04 L245.58,337.90 L246.87,338.72 L247.88,339.66 L248.33,340.78 L248.47,341.95 L248.81,343.06 L249.70,344.12 L250.93,345.21 L251.95,346.39 L252.36,347.65 L252.32,348.88 L252.39,350.08 L252.97,351.27 L253.92,352.47 L254.62,353.64 Z" fill="#d6d6d6"/>
<path d="M245.45,353.14 L243.15,353.43 L242.60,353.98 L244.69,355.15 L246.24,356.27 L247.04,357.26 L244.08,357.08 L241.77,356.98 L240.67,357.21 L241.47,358.15 L244.02,359.88 L243.76,360.49 L242.47,360.61 L239.92,360.05 L237.50,359.43 L238.62,360.72 L239.70,362.10 L239.71,362.89 L237.38,362.16 L235.29,361.45 L233.71,361.00 L233.20,361.35 L233.71,362.61 L233.69,363.54 L232.17,363.14 L230.32,362.29 L228.26,361.05 L227.64,361.34 L227.76,362.63 L227.65,363.73 L226.35,363.01 L224.83,361.62 L224.02,361.19 L223.44,361.07 L223.38,361.97 L223.18,362.65 L222.54,362.30 L221.63,361.12 L220.83,360.08 L220.34,359.99 L219.95,360.57 L219.65,361.99 L219.08,362.17 L218.37,360.86 L217.81,360.36 L217.29,359.88 L216.72,360.98 L216.03,361.81 L215.24,362.39 L214.62,361.42 L214.06,360.37 L213.37,359.79 L212.32,360.05 L210.71,361.14 L209.20,361.58 L208.27,361.00 L207.95,359.77 L207.26,359.19 L205.64,359.61 L203.58,360.35 L201.80,360.77 L201.07,360.37 L201.06,359.53 L201.23,358.68 L199.92,358.82 L197.15,359.76 L195.50,359.99 L195.10,359.54 L196.10,358.45 L196.87,357.55 L196.04,357.38 L192.65,358.19 L189.82,358.64 L190.41,357.77 L191.14,356.90 L192.33,355.94 L192.19,355.41 L190.63,355.24 L187.40,355.39 L187.46,354.71 L189.40,353.68 L191.87,352.64 L191.47,352.09 L188.99,351.74 L187.86,351.12 L187.32,350.38 L188.91,349.51 L192.05,348.70 L192.44,348.00 L190.74,347.23 L189.02,346.36 L189.02,345.56 L190.78,344.97 L193.27,344.57 L194.10,343.98 L193.04,342.97 L191.88,341.84 L191.80,340.89 L193.18,340.38 L195.56,340.31 L197.65,340.26 L197.45,339.25 L195.82,337.41 L194.87,335.67 L196.76,335.51 L198.50,335.39 L200.38,335.52 L201.12,334.89 L200.59,333.11 L200.33,331.42 L201.02,330.63 L202.98,331.37 L204.79,332.15 L205.96,332.25 L205.73,330.25 L206.06,328.88 L206.92,328.29 L208.63,329.50 L210.31,331.03 L211.31,331.11 L211.57,328.68 L212.45,327.72 L213.57,327.26 L214.97,328.63 L216.28,330.48 L217.40,330.93 L218.59,330.02 L220.01,328.65 L221.33,328.85 L222.47,329.73 L223.17,331.66 L224.08,332.61 L225.48,332.54 L227.65,331.47 L229.64,331.15 L230.40,332.60 L229.98,335.08 L230.60,336.15 L232.12,336.34 L235.11,335.52 L236.78,335.80 L237.08,336.92 L236.00,338.66 L235.75,339.78 L237.24,340.08 L239.64,340.11 L241.20,340.58 L241.55,341.48 L240.40,342.74 L238.55,344.02 L240.41,344.50 L241.80,345.17 L244.96,345.78 L244.67,346.83 L244.18,347.84 L242.18,348.76 L241.84,349.59 L244.64,350.61 L247.63,351.78 L248.04,352.73 Z" fill="#f2f2f2"/>
<g clip-path="url(#bc6)"><rect x="178.9" y="321.4" width="76.8" height="46.8" fill="#fff" filter="url(#gyri)"/></g>
<path d="M239.36,352.13 L239.35,352.70 L239.27,353.26 L239.14,353.79 L238.95,354.31 L238.71,354.80 L238.43,355.26 L238.12,355.71 L237.77,356.13 L237.40,356.52 L237.02,356.89 L236.60,357.24 L236.14,357.56 L235.64,357.86 L235.11,358.13 L234.55,358.38 L233.96,358.61 L233.35,358.81 L232.73,358.99 L232.09,359.15 L231.44,359.28 L230.76,359.38 L230.03,359.44 L229.26,359.48 L228.47,359.49 L227.67,359.48 L226.87,359.46 L226.09,359.42 L225.35,359.37 L224.65,359.32 L224.02,359.28 L223.45,359.22 L222.93,359.14 L222.45,359.04 L222.00,358.93 L221.58,358.82 L221.17,358.70 L220.76,358.60 L220.35,358.50 L219.92,358.42 L219.46,358.36 L219.00,358.33 L218.57,358.32 L218.14,358.32 L217.72,358.34 L217.28,358.36 L216.83,358.38 L216.34,358.40 L215.82,358.40 L215.24,358.39 L214.60,358.36 L213.88,358.31 L213.09,358.24 L212.24,358.16 L211.35,358.07 L210.44,357.98 L209.51,357.87 L208.58,357.77 L207.67,357.66 L206.80,357.55 L205.97,357.44 L205.17,357.35 L204.37,357.27 L203.57,357.19 L202.78,357.11 L202.01,357.03 L201.26,356.93 L200.55,356.81 L199.88,356.67 L199.25,356.49 L198.68,356.27 L198.15,356.01 L197.66,355.73 L197.20,355.42 L196.78,355.08 L196.39,354.72 L196.05,354.34 L195.75,353.93 L195.50,353.51 L195.29,353.07 L195.14,352.60 L195.04,352.12 L195.00,351.59 L195.01,351.04 L195.07,350.46 L195.17,349.87 L195.31,349.27 L195.48,348.67 L195.67,348.06 L195.88,347.47 L196.11,346.89 L196.36,346.31 L196.65,345.74 L196.97,345.17 L197.31,344.60 L197.68,344.03 L198.08,343.45 L198.49,342.88 L198.92,342.31 L199.37,341.74 L199.83,341.17 L200.30,340.58 L200.79,339.97 L201.30,339.35 L201.83,338.72 L202.38,338.10 L202.95,337.50 L203.53,336.92 L204.14,336.38 L204.76,335.88 L205.40,335.45 L206.06,335.06 L206.74,334.70 L207.43,334.37 L208.15,334.07 L208.88,333.81 L209.63,333.58 L210.40,333.39 L211.19,333.24 L212.00,333.13 L212.83,333.06 L213.68,333.04 L214.57,333.06 L215.49,333.12 L216.43,333.22 L217.38,333.35 L218.34,333.52 L219.30,333.73 L220.26,333.97 L221.22,334.24 L222.16,334.53 L223.11,334.87 L224.09,335.25 L225.08,335.67 L226.08,336.13 L227.07,336.62 L228.03,337.13 L228.97,337.65 L229.86,338.19 L230.69,338.73 L231.44,339.26 L232.13,339.80 L232.77,340.35 L233.35,340.91 L233.89,341.49 L234.39,342.07 L234.86,342.67 L235.30,343.28 L235.72,343.90 L236.13,344.52 L236.53,345.16 L236.93,345.83 L237.32,346.52 L237.71,347.24 L238.07,347.98 L238.41,348.72 L238.71,349.45 L238.96,350.17 L239.16,350.86 L239.30,351.52 Z" fill="#f2f2f2" opacity="0.5" filter="url(#rb2)"/>
<path d="M254.61,354.66 Q250.40,352.84 245.83,353.20" stroke="#505050" stroke-width="0.58" fill="none" stroke-linecap="round"/>
<path d="M253.20,357.22 Q249.36,354.92 244.90,355.20" stroke="#505050" stroke-width="0.48" fill="none" stroke-linecap="round"/>
<path d="M253.59,359.19 Q249.32,358.64 245.43,356.78" stroke="#505050" stroke-width="0.53" fill="none" stroke-linecap="round"/>
<path d="M250.30,361.68 Q245.00,361.36 240.94,357.94" stroke="#505050" stroke-width="0.36" fill="none" stroke-linecap="round"/>
<path d="M247.99,364.17 Q245.06,360.36 240.26,360.22" stroke="#505050" stroke-width="0.55" fill="none" stroke-linecap="round"/>
<path d="M244.98,365.30 Q242.30,365.10 240.88,362.81" stroke="#505050" stroke-width="0.50" fill="none" stroke-linecap="round"/>
<path d="M243.50,366.32 Q242.61,363.65 239.80,363.80" stroke="#505050" stroke-width="0.41" fill="none" stroke-linecap="round"/>
<path d="M240.63,366.28 Q237.63,365.40 235.99,362.74" stroke="#505050" stroke-width="0.37" fill="none" stroke-linecap="round"/>
<path d="M237.48,367.02 Q235.43,366.70 234.93,364.68" stroke="#505050" stroke-width="0.52" fill="none" stroke-linecap="round"/>
<path d="M230.62,366.47 Q228.71,364.27 227.15,361.81" stroke="#505050" stroke-width="0.54" fill="none" stroke-linecap="round"/>
<path d="M229.68,366.71 Q227.77,364.33 226.26,361.68" stroke="#505050" stroke-width="0.38" fill="none" stroke-linecap="round"/>
<path d="M225.76,365.78 Q225.61,364.19 224.44,363.10" stroke="#505050" stroke-width="0.44" fill="none" stroke-linecap="round"/>
<path d="M224.50,365.82 Q223.07,364.84 223.38,363.13" stroke="#505050" stroke-width="0.59" fill="none" stroke-linecap="round"/>
<path d="M221.62,364.77 Q221.23,362.60 220.48,360.52" stroke="#505050" stroke-width="0.45" fill="none" stroke-linecap="round"/>
<path d="M218.76,365.14 Q217.68,363.39 218.43,361.48" stroke="#505050" stroke-width="0.60" fill="none" stroke-linecap="round"/>
<path d="M217.30,364.70 Q217.14,362.77 217.29,360.84" stroke="#505050" stroke-width="0.59" fill="none" stroke-linecap="round"/>
<path d="M214.82,365.29 Q214.06,364.06 215.14,363.10" stroke="#505050" stroke-width="0.45" fill="none" stroke-linecap="round"/>
<path d="M208.93,364.58 Q210.60,363.39 210.60,361.35" stroke="#505050" stroke-width="0.39" fill="none" stroke-linecap="round"/>
<path d="M204.29,364.21 Q205.99,363.63 206.24,361.85" stroke="#505050" stroke-width="0.40" fill="none" stroke-linecap="round"/>
<path d="M201.57,363.52 Q204.23,362.67 205.18,360.05" stroke="#505050" stroke-width="0.45" fill="none" stroke-linecap="round"/>
<path d="M195.63,363.24 Q197.74,363.32 198.43,361.33" stroke="#505050" stroke-width="0.48" fill="none" stroke-linecap="round"/>
<path d="M193.57,362.62 Q196.74,360.01 200.54,358.45" stroke="#505050" stroke-width="0.50" fill="none" stroke-linecap="round"/>
<path d="M188.91,362.63 Q190.78,360.19 193.86,360.16" stroke="#505050" stroke-width="0.46" fill="none" stroke-linecap="round"/>
<path d="M186.85,361.24 Q190.20,359.44 193.84,358.31" stroke="#505050" stroke-width="0.37" fill="none" stroke-linecap="round"/>
<path d="M182.72,359.63 Q187.82,358.51 192.61,356.43" stroke="#505050" stroke-width="0.42" fill="none" stroke-linecap="round"/>
<path d="M182.53,358.08 Q187.54,356.45 192.68,355.27" stroke="#505050" stroke-width="0.53" fill="none" stroke-linecap="round"/>
<path d="M180.03,356.27 Q185.36,356.98 189.95,354.19" stroke="#505050" stroke-width="0.42" fill="none" stroke-linecap="round"/>
<path d="M180.78,353.59 Q185.39,354.97 189.43,352.38" stroke="#505050" stroke-width="0.55" fill="none" stroke-linecap="round"/>
<path d="M179.87,350.85 Q182.61,352.43 185.13,350.52" stroke="#505050" stroke-width="0.45" fill="none" stroke-linecap="round"/>
<path d="M182.08,345.84 Q185.50,347.52 189.14,346.37" stroke="#505050" stroke-width="0.40" fill="none" stroke-linecap="round"/>
<path d="M183.35,342.96 Q187.16,341.51 190.31,344.09" stroke="#505050" stroke-width="0.40" fill="none" stroke-linecap="round"/>
<path d="M184.47,342.11 Q187.33,344.53 190.88,343.35" stroke="#505050" stroke-width="0.59" fill="none" stroke-linecap="round"/>
<path d="M187.28,337.19 Q189.81,339.25 193.08,339.37" stroke="#505050" stroke-width="0.54" fill="none" stroke-linecap="round"/>
<path d="M190.01,334.41 Q193.46,337.56 198.03,338.55" stroke="#505050" stroke-width="0.54" fill="none" stroke-linecap="round"/>
<path d="M191.09,331.93 Q193.23,332.92 195.03,334.42" stroke="#505050" stroke-width="0.42" fill="none" stroke-linecap="round"/>
<path d="M195.60,328.51 Q197.92,329.22 198.81,331.47" stroke="#505050" stroke-width="0.53" fill="none" stroke-linecap="round"/>
<path d="M196.26,327.33 Q198.95,327.50 199.10,330.18" stroke="#505050" stroke-width="0.35" fill="none" stroke-linecap="round"/>
<path d="M201.18,325.39 Q203.85,327.86 205.25,331.23" stroke="#505050" stroke-width="0.38" fill="none" stroke-linecap="round"/>
<path d="M204.33,323.23 Q207.02,324.78 206.71,327.88" stroke="#505050" stroke-width="0.37" fill="none" stroke-linecap="round"/>
<path d="M208.65,323.35 Q210.64,325.41 210.33,328.26" stroke="#505050" stroke-width="0.45" fill="none" stroke-linecap="round"/>
<path d="M214.27,322.52 Q214.36,326.28 215.13,329.96" stroke="#505050" stroke-width="0.43" fill="none" stroke-linecap="round"/>
<path d="M217.46,323.68 Q217.78,325.58 217.43,327.47" stroke="#505050" stroke-width="0.59" fill="none" stroke-linecap="round"/>
<path d="M225.44,325.21 Q224.44,326.77 224.24,328.62" stroke="#505050" stroke-width="0.54" fill="none" stroke-linecap="round"/>
<path d="M230.26,327.21 Q228.25,329.73 226.92,332.66" stroke="#505050" stroke-width="0.37" fill="none" stroke-linecap="round"/>
<path d="M232.16,327.63 Q228.98,329.91 227.85,333.65" stroke="#505050" stroke-width="0.57" fill="none" stroke-linecap="round"/>
<path d="M237.89,331.64 Q234.62,333.12 232.51,336.02" stroke="#505050" stroke-width="0.45" fill="none" stroke-linecap="round"/>
<path d="M242.50,333.77 Q239.87,335.14 237.38,336.75" stroke="#505050" stroke-width="0.35" fill="none" stroke-linecap="round"/>
<path d="M243.80,336.01 Q239.96,338.17 235.84,339.74" stroke="#505050" stroke-width="0.45" fill="none" stroke-linecap="round"/>
<path d="M247.88,339.66 Q244.38,339.88 241.29,341.56" stroke="#505050" stroke-width="0.48" fill="none" stroke-linecap="round"/>
<path d="M248.47,341.95 Q246.66,343.26 244.48,342.78" stroke="#505050" stroke-width="0.44" fill="none" stroke-linecap="round"/>
<path d="M252.36,347.65 Q248.72,349.29 245.01,347.82" stroke="#505050" stroke-width="0.56" fill="none" stroke-linecap="round"/>
<path d="M252.39,350.08 Q248.98,349.36 245.51,349.76" stroke="#505050" stroke-width="0.53" fill="none" stroke-linecap="round"/>
<path d="M254.61,354.66 L253.98,355.51 L253.35,356.33 L253.20,357.22 L253.46,358.22 L253.59,359.19 L253.10,359.97 L252.04,360.54 L250.93,361.04 L250.30,361.68 L250.14,362.49 L249.96,363.30 L249.26,363.88 L247.99,364.17 L246.61,364.36 L245.59,364.71 L244.98,365.30 L244.43,365.93 L243.50,366.32 L242.13,366.37 L240.63,366.28 L239.37,366.33 L238.40,366.64 L237.48,367.02 L236.28,367.18 L234.75,366.98 L233.13,366.62 L231.72,366.40 L230.62,366.47 L229.68,366.71 L228.73,366.81 L227.69,366.58 L226.65,366.13 L225.76,365.78 L225.08,365.71 L224.50,365.82 L223.89,365.83 L223.17,365.57 L222.39,365.12 L221.62,364.77 L220.88,364.73 L220.18,364.95 L219.48,365.16 L218.76,365.14 L218.03,364.90 L217.30,364.70 L216.56,364.74 L215.74,365.02 L214.82,365.29 L213.84,365.28 L212.82,364.98 L211.72,364.63 L210.43,364.49 L208.93,364.58 L207.29,364.70 L205.70,364.59 L204.29,364.21 L202.99,363.77 L201.57,363.52 L199.93,363.52 L198.24,363.60 L196.76,363.54 L195.63,363.24 L194.69,362.85 L193.57,362.62 L192.06,362.62 L190.36,362.71 L188.91,362.63 L188.02,362.27 L187.49,361.73 L186.85,361.24 L185.76,360.91 L184.37,360.66 L183.24,360.26 L182.72,359.63 L182.68,358.84 L182.53,358.08 L181.88,357.46 L180.85,356.91 L180.03,356.27 L179.89,355.46 L180.34,354.54 L180.78,353.59 L180.73,352.70 L180.24,351.80 L179.87,350.85 L180.12,349.83 L180.96,348.80 L181.83,347.81 L182.21,346.83 L182.08,345.84 L181.94,344.83 L182.34,343.85 L183.35,342.96 L184.47,342.11 L185.20,341.20 L185.43,340.15 L185.59,339.05 L186.17,338.03 L187.28,337.19 L188.55,336.44 L189.50,335.56 L190.01,334.41 L190.39,333.11 L191.09,331.93 L192.26,331.05 L193.63,330.35 L194.80,329.57 L195.60,328.51 L196.26,327.33 L197.14,326.38 L198.40,325.88 L199.84,325.67 L201.18,325.39 L202.25,324.76 L203.22,323.90 L204.33,323.23 L205.69,323.02 L207.19,323.20 L208.65,323.35 L209.98,323.15 L211.29,322.69 L212.71,322.37 L214.27,322.52 L215.88,323.09 L217.46,323.68 L219.04,323.95 L220.67,323.91 L222.35,323.94 L223.97,324.37 L225.44,325.21 L226.87,326.13 L228.45,326.81 L230.26,327.21 L232.16,327.63 L233.89,328.38 L235.30,329.49 L236.53,330.67 L237.89,331.64 L239.52,332.33 L241.18,332.95 L242.50,333.77 L243.29,334.85 L243.80,336.01 L244.48,337.04 L245.58,337.90 L246.87,338.72 L247.88,339.66 L248.33,340.78 L248.47,341.95 L248.81,343.06 L249.70,344.12 L250.93,345.21 L251.95,346.39 L252.36,347.65 L252.32,348.88 L252.39,350.08 L252.97,351.27 L253.92,352.47 L254.62,353.64 Z" fill="none" stroke="#555" stroke-width="0.6"/>
<path d="M236.41,357.02 C231.99,341.13 208.41,339.91 205.46,349.68" stroke="#505050" stroke-width="3.8" fill="none"/>
<path d="M236.41,357.02 C231.99,341.13 208.41,339.91 205.46,349.68" stroke="#fbfbfb" stroke-width="2.4" fill="none"/>
<path d="M231.99,359.46 C229.04,347.24 211.35,346.02 208.41,353.35 L211.35,360.68 C217.25,363.13 226.09,363.13 231.99,359.46 Z" fill="#b2b2b2"/>
<ellipse cx="220.20" cy="357.02" rx="7.37" ry="4.89" fill="#c6c6c6"/>
<g transform="rotate(-12 189.90 352.00)" filter="url(#rb)">
<rect x="181.20" y="339.60" width="17.40" height="24.80" rx="6.09" fill="#7e7c68" stroke="#223a6c" stroke-width="2.4"/>
</g><g transform="rotate(-12 189.90 352.00)" filter="url(#rb2)">
<ellipse cx="189.90" cy="353.98" rx="5.22" ry="5.46" fill="#ecdc48"/>
</g>
<text x="0.00" y="281.00" font-size="8.8" text-anchor="start" fill="#1d4e70" font-weight="bold" font-style="italic"  stroke="#1d4e70" stroke-width="0.08">L-VF</text>
<text x="0.00" y="358.20" font-size="8.8" text-anchor="start" fill="#1d4e70" font-weight="bold" font-style="italic"  stroke="#1d4e70" stroke-width="0.08">R-VF</text>
<text x="30.40" y="280.50" font-size="8.2" text-anchor="middle" fill="#2f5f84" font-weight="normal" font-style="normal"  stroke="#2f5f84" stroke-width="0.12">L</text>
<text x="101.30" y="280.50" font-size="8.2" text-anchor="middle" fill="#2f5f84" font-weight="normal" font-style="normal"  stroke="#2f5f84" stroke-width="0.12">R</text>
<text x="112.30" y="280.50" font-size="8.2" text-anchor="middle" fill="#2f5f84" font-weight="normal" font-style="normal"  stroke="#2f5f84" stroke-width="0.12">L</text>
<text x="163.20" y="280.50" font-size="8.2" text-anchor="middle" fill="#2f5f84" font-weight="normal" font-style="normal"  stroke="#2f5f84" stroke-width="0.12">R</text>
<text x="30.40" y="357.70" font-size="8.2" text-anchor="middle" fill="#2f5f84" font-weight="normal" font-style="normal"  stroke="#2f5f84" stroke-width="0.12">L</text>
<text x="101.30" y="357.70" font-size="8.2" text-anchor="middle" fill="#2f5f84" font-weight="normal" font-style="normal"  stroke="#2f5f84" stroke-width="0.12">R</text>
<text x="112.30" y="357.70" font-size="8.2" text-anchor="middle" fill="#2f5f84" font-weight="normal" font-style="normal"  stroke="#2f5f84" stroke-width="0.12">L</text>
<text x="163.20" y="357.70" font-size="8.2" text-anchor="middle" fill="#2f5f84" font-weight="normal" font-style="normal"  stroke="#2f5f84" stroke-width="0.12">R</text>
<text x="176.60" y="280.50" font-size="8.2" text-anchor="middle" fill="#2f5f84" font-weight="normal" font-style="normal"  stroke="#2f5f84" stroke-width="0.12">A</text>
<text x="258.70" y="280.50" font-size="8.2" text-anchor="middle" fill="#2f5f84" font-weight="normal" font-style="normal"  stroke="#2f5f84" stroke-width="0.12">P</text>
<text x="175.60" y="357.70" font-size="8.2" text-anchor="middle" fill="#2f5f84" font-weight="normal" font-style="normal"  stroke="#2f5f84" stroke-width="0.12">P</text>
<text x="258.30" y="357.70" font-size="8.2" text-anchor="middle" fill="#2f5f84" font-weight="normal" font-style="normal"  stroke="#2f5f84" stroke-width="0.12">A</text>
<linearGradient id="cb" x1="0" y1="0" x2="0" y2="1"><stop offset="0" stop-color="#f3e24a"/><stop offset="0.5" stop-color="#8f8f80"/><stop offset="1" stop-color="#1a2a5c"/></linearGradient>
<rect x="271.30" y="294.30" width="7.50" height="35.70" fill="url(#cb)" />
<text x="279.80" y="297.00" font-size="6.6" text-anchor="start" fill="#222" font-weight="normal" font-style="normal"  stroke="#222" stroke-width="0.12">1.0</text>
<text x="279.80" y="314.00" font-size="6.6" text-anchor="start" fill="#222" font-weight="normal" font-style="normal"  stroke="#222" stroke-width="0.12">0.5</text>
<text x="279.80" y="331.00" font-size="6.6" text-anchor="start" fill="#222" font-weight="normal" font-style="normal"  stroke="#222" stroke-width="0.12">0</text>
<text x="265.20" y="312.00" font-size="7.2" text-anchor="middle" fill="#222" font-weight="normal" font-style="normal" transform="rotate(-90 267.6 312)" stroke="#222" stroke-width="0.12">Probability</text>
<rect x="514.90" y="227.70" width="57.10" height="161.70" fill="#f2f2f2" />
<line x1="323.70" y1="227.70" x2="323.70" y2="389.40" stroke="#8c8c8c" stroke-width="0.8" />
<line x1="323.70" y1="389.40" x2="610.00" y2="389.40" stroke="#8c8c8c" stroke-width="0.8" />
<line x1="323.70" y1="389.30" x2="325.50" y2="389.30" stroke="#8c8c8c" stroke-width="0.7" />
<text x="319.70" y="392.10" font-size="7.8" text-anchor="end" fill="#262626" font-weight="normal" font-style="normal"  stroke="#262626" stroke-width="0.12">-80</text>
<line x1="323.70" y1="369.10" x2="325.50" y2="369.10" stroke="#8c8c8c" stroke-width="0.7" />
<text x="319.70" y="371.90" font-size="7.8" text-anchor="end" fill="#262626" font-weight="normal" font-style="normal"  stroke="#262626" stroke-width="0.12">-60</text>
<line x1="323.70" y1="348.90" x2="325.50" y2="348.90" stroke="#8c8c8c" stroke-width="0.7" />
<text x="319.70" y="351.70" font-size="7.8" text-anchor="end" fill="#262626" font-weight="normal" font-style="normal"  stroke="#262626" stroke-width="0.12">-40</text>
<line x1="323.70" y1="328.70" x2="325.50" y2="328.70" stroke="#8c8c8c" stroke-width="0.7" />
<text x="319.70" y="331.50" font-size="7.8" text-anchor="end" fill="#262626" font-weight="normal" font-style="normal"  stroke="#262626" stroke-width="0.12">-20</text>
<line x1="323.70" y1="308.50" x2="325.50" y2="308.50" stroke="#8c8c8c" stroke-width="0.7" />
<text x="319.70" y="311.30" font-size="7.8" text-anchor="end" fill="#262626" font-weight="normal" font-style="normal"  stroke="#262626" stroke-width="0.12">0</text>
<line x1="323.70" y1="288.30" x2="325.50" y2="288.30" stroke="#8c8c8c" stroke-width="0.7" />
<text x="319.70" y="291.10" font-size="7.8" text-anchor="end" fill="#262626" font-weight="normal" font-style="normal"  stroke="#262626" stroke-width="0.12">20</text>
<line x1="323.70" y1="268.10" x2="325.50" y2="268.10" stroke="#8c8c8c" stroke-width="0.7" />
<text x="319.70" y="270.90" font-size="7.8" text-anchor="end" fill="#262626" font-weight="normal" font-style="normal"  stroke="#262626" stroke-width="0.12">40</text>
<line x1="323.70" y1="247.90" x2="325.50" y2="247.90" stroke="#8c8c8c" stroke-width="0.7" />
<text x="319.70" y="250.70" font-size="7.8" text-anchor="end" fill="#262626" font-weight="normal" font-style="normal"  stroke="#262626" stroke-width="0.12">60</text>
<line x1="323.70" y1="227.70" x2="325.50" y2="227.70" stroke="#8c8c8c" stroke-width="0.7" />
<text x="319.70" y="230.50" font-size="7.8" text-anchor="end" fill="#262626" font-weight="normal" font-style="normal"  stroke="#262626" stroke-width="0.12">80</text>
<line x1="347.20" y1="389.40" x2="347.20" y2="387.60" stroke="#8c8c8c" stroke-width="0.7" />
<text x="347.20" y="400.40" font-size="7.8" text-anchor="middle" fill="#262626" font-weight="normal" font-style="normal"  stroke="#262626" stroke-width="0.12">1</text>
<line x1="385.53" y1="389.40" x2="385.53" y2="387.60" stroke="#8c8c8c" stroke-width="0.7" />
<text x="385.53" y="400.40" font-size="7.8" text-anchor="middle" fill="#262626" font-weight="normal" font-style="normal"  stroke="#262626" stroke-width="0.12">2</text>
<line x1="423.86" y1="389.40" x2="423.86" y2="387.60" stroke="#8c8c8c" stroke-width="0.7" />
<text x="423.86" y="400.40" font-size="7.8" text-anchor="middle" fill="#262626" font-weight="normal" font-style="normal"  stroke="#262626" stroke-width="0.12">3</text>
<line x1="462.19" y1="389.40" x2="462.19" y2="387.60" stroke="#8c8c8c" stroke-width="0.7" />
<text x="462.19" y="400.40" font-size="7.8" text-anchor="middle" fill="#262626" font-weight="normal" font-style="normal"  stroke="#262626" stroke-width="0.12">4</text>
<line x1="500.52" y1="389.40" x2="500.52" y2="387.60" stroke="#8c8c8c" stroke-width="0.7" />
<text x="500.52" y="400.40" font-size="7.8" text-anchor="middle" fill="#262626" font-weight="normal" font-style="normal"  stroke="#262626" stroke-width="0.12">5</text>
<line x1="586.40" y1="389.40" x2="586.40" y2="387.60" stroke="#8c8c8c" stroke-width="0.7" />
<text x="586.40" y="400.40" font-size="7.8" text-anchor="middle" fill="#262626" font-weight="normal" font-style="normal"  stroke="#262626" stroke-width="0.12">1</text>
<text x="420.10" y="413.20" font-size="7.3" text-anchor="middle" fill="#222" font-weight="normal" font-style="normal"  stroke="#222" stroke-width="0.12">Training</text>
<text x="588.70" y="413.20" font-size="7.3" text-anchor="middle" fill="#222" font-weight="normal" font-style="normal"  stroke="#222" stroke-width="0.12">Test</text>
<text x="471.30" y="425.40" font-size="8.4" text-anchor="middle" fill="#222" font-weight="normal" font-style="normal"  stroke="#222" stroke-width="0.12">Batch</text>
<text x="305.30" y="312.20" font-size="8.5" text-anchor="middle" fill="#222" font-weight="normal" font-style="normal" transform="rotate(-90 305.3 312.2)" stroke="#222" stroke-width="0.12">Change in Glx/GABA (%)</text>
<text x="338.70" y="234.00" font-size="8.4" text-anchor="start" fill="#1d4e70" font-weight="bold" font-style="normal"  stroke="#1d4e70" stroke-width="0.08">Exp. 5</text>
<text x="543.60" y="253.50" font-size="7.5" text-anchor="middle" fill="#1d4e70" font-weight="normal" font-style="italic"  stroke="#1d4e70" stroke-width="0.12">interval:</text>
<text x="543.60" y="262.10" font-size="7.5" text-anchor="middle" fill="#1d4e70" font-weight="normal" font-style="italic"  stroke="#1d4e70" stroke-width="0.12">RVS &amp; rest</text>
<circle cx="481.60" cy="229.60" r="2.5" fill="#b3b3b3" />
<circle cx="488.70" cy="229.60" r="2.5" fill="#555" />
<text x="509.60" y="231.90" font-size="6.5" text-anchor="end" fill="#222" font-weight="normal" font-style="normal"  stroke="#222" stroke-width="0.12">0 Hz</text>
<circle cx="481.60" cy="236.50" r="2.5" fill="#eba0aa" />
<circle cx="488.70" cy="236.50" r="2.5" fill="#c0172f" />
<text x="509.60" y="238.80" font-size="6.5" text-anchor="end" fill="#222" font-weight="normal" font-style="normal"  stroke="#222" stroke-width="0.12">10 Hz</text>
<circle cx="481.60" cy="243.40" r="2.5" fill="#a4c6ea" />
<circle cx="488.70" cy="243.40" r="2.5" fill="#2766b3" />
<text x="509.60" y="245.70" font-size="6.5" text-anchor="end" fill="#222" font-weight="normal" font-style="normal"  stroke="#222" stroke-width="0.12">1 Hz</text>
<circle cx="376.60" cy="264.10" r="2.5" fill="#a8a8a8" opacity="0.6"/>
<circle cx="373.50" cy="292.00" r="2.5" fill="#a8a8a8" opacity="0.6"/>
<circle cx="377.30" cy="327.00" r="2.5" fill="#a8a8a8" opacity="0.6"/>
<circle cx="373.60" cy="335.00" r="2.5" fill="#a8a8a8" opacity="0.6"/>
<circle cx="373.00" cy="338.60" r="2.5" fill="#a8a8a8" opacity="0.6"/>
<circle cx="375.00" cy="302.00" r="2.5" fill="#a8a8a8" opacity="0.6"/>
<circle cx="378.00" cy="306.00" r="2.5" fill="#a8a8a8" opacity="0.6"/>
<circle cx="375.00" cy="313.00" r="2.5" fill="#a8a8a8" opacity="0.6"/>
<circle cx="377.00" cy="311.00" r="2.5" fill="#a8a8a8" opacity="0.6"/>
<circle cx="411.50" cy="274.00" r="2.5" fill="#a8a8a8" opacity="0.6"/>
<circle cx="418.00" cy="271.80" r="2.5" fill="#a8a8a8" opacity="0.6"/>
<circle cx="412.00" cy="287.70" r="2.5" fill="#a8a8a8" opacity="0.6"/>
<circle cx="415.50" cy="288.70" r="2.5" fill="#a8a8a8" opacity="0.6"/>
<circle cx="414.60" cy="321.10" r="2.5" fill="#a8a8a8" opacity="0.6"/>
<circle cx="411.50" cy="325.40" r="2.5" fill="#a8a8a8" opacity="0.6"/>
<circle cx="412.30" cy="327.90" r="2.5" fill="#a8a8a8" opacity="0.6"/>
<circle cx="417.80" cy="334.10" r="2.5" fill="#a8a8a8" opacity="0.6"/>
<circle cx="417.50" cy="352.80" r="2.5" fill="#a8a8a8" opacity="0.6"/>
<circle cx="416.00" cy="300.00" r="2.5" fill="#a8a8a8" opacity="0.6"/>
<circle cx="453.00" cy="274.20" r="2.5" fill="#a8a8a8" opacity="0.6"/>
<circle cx="450.90" cy="290.40" r="2.5" fill="#a8a8a8" opacity="0.6"/>
<circle cx="451.50" cy="297.90" r="2.5" fill="#a8a8a8" opacity="0.6"/>
<circle cx="453.50" cy="299.60" r="2.5" fill="#a8a8a8" opacity="0.6"/>
<circle cx="450.30" cy="327.90" r="2.5" fill="#a8a8a8" opacity="0.6"/>
<circle cx="454.50" cy="326.30" r="2.5" fill="#a8a8a8" opacity="0.6"/>
<circle cx="457.00" cy="325.50" r="2.5" fill="#a8a8a8" opacity="0.6"/>
<circle cx="455.00" cy="334.20" r="2.5" fill="#a8a8a8" opacity="0.6"/>
<circle cx="454.00" cy="347.30" r="2.5" fill="#a8a8a8" opacity="0.6"/>
<circle cx="491.20" cy="265.50" r="2.5" fill="#a8a8a8" opacity="0.6"/>
<circle cx="490.90" cy="290.10" r="2.5" fill="#a8a8a8" opacity="0.6"/>
<circle cx="494.20" cy="300.70" r="2.5" fill="#a8a8a8" opacity="0.6"/>
<circle cx="490.70" cy="326.30" r="2.5" fill="#a8a8a8" opacity="0.6"/>
<circle cx="492.50" cy="327.10" r="2.5" fill="#a8a8a8" opacity="0.6"/>
<circle cx="492.00" cy="334.00" r="2.5" fill="#a8a8a8" opacity="0.6"/>
<circle cx="494.20" cy="344.00" r="2.5" fill="#a8a8a8" opacity="0.6"/>
<circle cx="488.70" cy="357.80" r="2.5" fill="#a8a8a8" opacity="0.6"/>
<circle cx="580.00" cy="248.50" r="2.5" fill="#8a8a8a" opacity="0.6"/>
<circle cx="577.60" cy="280.90" r="2.5" fill="#8a8a8a" opacity="0.6"/>
<circle cx="579.00" cy="292.80" r="2.5" fill="#8a8a8a" opacity="0.6"/>
<circle cx="575.20" cy="296.00" r="2.5" fill="#8a8a8a" opacity="0.6"/>
<circle cx="574.00" cy="319.40" r="2.5" fill="#8a8a8a" opacity="0.6"/>
<circle cx="576.30" cy="325.50" r="2.5" fill="#8a8a8a" opacity="0.6"/>
<circle cx="577.00" cy="344.70" r="2.5" fill="#8a8a8a" opacity="0.6"/>
<circle cx="577.30" cy="347.70" r="2.5" fill="#8a8a8a" opacity="0.6"/>
<circle cx="577.80" cy="349.30" r="2.5" fill="#8a8a8a" opacity="0.6"/>
<circle cx="574.90" cy="352.30" r="2.5" fill="#8a8a8a" opacity="0.6"/>
<circle cx="376.00" cy="300.00" r="2.5" fill="#a8a8a8" opacity="0.6"/>
<circle cx="378.00" cy="305.00" r="2.5" fill="#a8a8a8" opacity="0.6"/>
<circle cx="375.00" cy="311.00" r="2.5" fill="#a8a8a8" opacity="0.6"/>
<circle cx="377.00" cy="315.00" r="2.5" fill="#a8a8a8" opacity="0.6"/>
<circle cx="413.00" cy="305.00" r="2.5" fill="#a8a8a8" opacity="0.6"/>
<circle cx="416.00" cy="310.00" r="2.5" fill="#a8a8a8" opacity="0.6"/>
<circle cx="418.00" cy="313.00" r="2.5" fill="#a8a8a8" opacity="0.6"/>
<circle cx="452.00" cy="306.00" r="2.5" fill="#a8a8a8" opacity="0.6"/>
<circle cx="455.00" cy="310.00" r="2.5" fill="#a8a8a8" opacity="0.6"/>
<circle cx="491.00" cy="305.00" r="2.5" fill="#a8a8a8" opacity="0.6"/>
<circle cx="493.00" cy="309.00" r="2.5" fill="#a8a8a8" opacity="0.6"/>
<circle cx="382.00" cy="290.60" r="2.5" fill="#e68a9a" opacity="0.5"/>
<circle cx="384.00" cy="294.80" r="2.5" fill="#e68a9a" opacity="0.5"/>
<circle cx="382.60" cy="299.40" r="2.5" fill="#e68a9a" opacity="0.5"/>
<circle cx="384.50" cy="301.60" r="2.5" fill="#e68a9a" opacity="0.5"/>
<circle cx="385.00" cy="312.00" r="2.5" fill="#e68a9a" opacity="0.5"/>
<circle cx="381.50" cy="315.30" r="2.5" fill="#e68a9a" opacity="0.5"/>
<circle cx="383.60" cy="319.50" r="2.5" fill="#e68a9a" opacity="0.5"/>
<circle cx="387.50" cy="327.00" r="2.5" fill="#e68a9a" opacity="0.5"/>
<circle cx="422.80" cy="276.80" r="2.5" fill="#e68a9a" opacity="0.5"/>
<circle cx="423.00" cy="288.00" r="2.5" fill="#e68a9a" opacity="0.5"/>
<circle cx="421.30" cy="300.00" r="2.5" fill="#e68a9a" opacity="0.5"/>
<circle cx="423.50" cy="303.20" r="2.5" fill="#e68a9a" opacity="0.5"/>
<circle cx="420.40" cy="318.30" r="2.5" fill="#e68a9a" opacity="0.5"/>
<circle cx="420.70" cy="324.00" r="2.5" fill="#e68a9a" opacity="0.5"/>
<circle cx="423.50" cy="332.40" r="2.5" fill="#e68a9a" opacity="0.5"/>
<circle cx="427.00" cy="337.30" r="2.5" fill="#e68a9a" opacity="0.5"/>
<circle cx="422.00" cy="340.10" r="2.5" fill="#e68a9a" opacity="0.5"/>
<circle cx="421.50" cy="357.50" r="2.5" fill="#e68a9a" opacity="0.5"/>
<circle cx="461.00" cy="286.90" r="2.5" fill="#e68a9a" opacity="0.5"/>
<circle cx="460.00" cy="290.60" r="2.5" fill="#e68a9a" opacity="0.5"/>
<circle cx="463.50" cy="290.60" r="2.5" fill="#e68a9a" opacity="0.5"/>
<circle cx="461.50" cy="292.50" r="2.5" fill="#e68a9a" opacity="0.5"/>
<circle cx="463.50" cy="322.20" r="2.5" fill="#e68a9a" opacity="0.5"/>
<circle cx="463.50" cy="330.00" r="2.5" fill="#e68a9a" opacity="0.5"/>
<circle cx="458.50" cy="334.20" r="2.5" fill="#e68a9a" opacity="0.5"/>
<circle cx="464.00" cy="336.10" r="2.5" fill="#e68a9a" opacity="0.5"/>
<circle cx="460.00" cy="347.30" r="2.5" fill="#e68a9a" opacity="0.5"/>
<circle cx="463.40" cy="358.30" r="2.5" fill="#e68a9a" opacity="0.5"/>
<circle cx="502.70" cy="288.00" r="2.5" fill="#e68a9a" opacity="0.5"/>
<circle cx="500.40" cy="292.50" r="2.5" fill="#e68a9a" opacity="0.5"/>
<circle cx="497.00" cy="295.80" r="2.5" fill="#e68a9a" opacity="0.5"/>
<circle cx="499.00" cy="303.80" r="2.5" fill="#e68a9a" opacity="0.5"/>
<circle cx="497.50" cy="323.80" r="2.5" fill="#e68a9a" opacity="0.5"/>
<circle cx="500.60" cy="326.30" r="2.5" fill="#e68a9a" opacity="0.5"/>
<circle cx="502.50" cy="327.90" r="2.5" fill="#e68a9a" opacity="0.5"/>
<circle cx="503.00" cy="329.20" r="2.5" fill="#e68a9a" opacity="0.5"/>
<circle cx="499.30" cy="333.70" r="2.5" fill="#e68a9a" opacity="0.5"/>
<circle cx="503.30" cy="339.00" r="2.5" fill="#e68a9a" opacity="0.5"/>
<circle cx="384.00" cy="303.00" r="2.5" fill="#e68a9a" opacity="0.5"/>
<circle cx="386.00" cy="306.00" r="2.5" fill="#e68a9a" opacity="0.5"/>
<circle cx="383.00" cy="309.00" r="2.5" fill="#e68a9a" opacity="0.5"/>
<circle cx="424.00" cy="305.00" r="2.5" fill="#e68a9a" opacity="0.5"/>
<circle cx="462.00" cy="306.00" r="2.5" fill="#e68a9a" opacity="0.5"/>
<circle cx="500.00" cy="306.00" r="2.5" fill="#e68a9a" opacity="0.5"/>
<circle cx="503.00" cy="311.00" r="2.5" fill="#e68a9a" opacity="0.5"/>
<circle cx="395.70" cy="272.00" r="2.5" fill="#8cb6e6" opacity="0.5"/>
<circle cx="392.50" cy="295.20" r="2.5" fill="#8cb6e6" opacity="0.5"/>
<circle cx="394.70" cy="302.00" r="2.5" fill="#8cb6e6" opacity="0.5"/>
<circle cx="395.50" cy="305.40" r="2.5" fill="#8cb6e6" opacity="0.5"/>
<circle cx="393.00" cy="311.10" r="2.5" fill="#8cb6e6" opacity="0.5"/>
<circle cx="395.00" cy="315.30" r="2.5" fill="#8cb6e6" opacity="0.5"/>
<circle cx="395.50" cy="321.70" r="2.5" fill="#8cb6e6" opacity="0.5"/>
<circle cx="395.70" cy="327.00" r="2.5" fill="#8cb6e6" opacity="0.5"/>
<circle cx="394.50" cy="337.00" r="2.5" fill="#8cb6e6" opacity="0.5"/>
<circle cx="433.50" cy="283.50" r="2.5" fill="#8cb6e6" opacity="0.5"/>
<circle cx="432.50" cy="295.80" r="2.5" fill="#8cb6e6" opacity="0.5"/>
<circle cx="436.00" cy="295.80" r="2.5" fill="#8cb6e6" opacity="0.5"/>
<circle cx="430.30" cy="302.10" r="2.5" fill="#8cb6e6" opacity="0.5"/>
<circle cx="431.00" cy="305.60" r="2.5" fill="#8cb6e6" opacity="0.5"/>
<circle cx="429.50" cy="326.80" r="2.5" fill="#8cb6e6" opacity="0.5"/>
<circle cx="429.30" cy="328.20" r="2.5" fill="#8cb6e6" opacity="0.5"/>
<circle cx="433.80" cy="332.40" r="2.5" fill="#8cb6e6" opacity="0.5"/>
<circle cx="430.00" cy="340.10" r="2.5" fill="#8cb6e6" opacity="0.5"/>
<circle cx="467.00" cy="265.10" r="2.5" fill="#8cb6e6" opacity="0.5"/>
<circle cx="467.00" cy="281.70" r="2.5" fill="#8cb6e6" opacity="0.5"/>
<circle cx="469.90" cy="283.50" r="2.5" fill="#8cb6e6" opacity="0.5"/>
<circle cx="469.60" cy="287.30" r="2.5" fill="#8cb6e6" opacity="0.5"/>
<circle cx="471.60" cy="292.30" r="2.5" fill="#8cb6e6" opacity="0.5"/>
<circle cx="473.00" cy="304.90" r="2.5" fill="#8cb6e6" opacity="0.5"/>
<circle cx="472.00" cy="338.60" r="2.5" fill="#8cb6e6" opacity="0.5"/>
<circle cx="471.30" cy="362.40" r="2.5" fill="#8cb6e6" opacity="0.5"/>
<circle cx="473.50" cy="369.00" r="2.5" fill="#8cb6e6" opacity="0.5"/>
<circle cx="512.20" cy="266.60" r="2.5" fill="#8cb6e6" opacity="0.5"/>
<circle cx="505.60" cy="279.60" r="2.5" fill="#8cb6e6" opacity="0.5"/>
<circle cx="506.40" cy="290.10" r="2.5" fill="#8cb6e6" opacity="0.5"/>
<circle cx="506.00" cy="293.70" r="2.5" fill="#8cb6e6" opacity="0.5"/>
<circle cx="508.00" cy="293.70" r="2.5" fill="#8cb6e6" opacity="0.5"/>
<circle cx="512.00" cy="303.50" r="2.5" fill="#8cb6e6" opacity="0.5"/>
<circle cx="506.50" cy="329.60" r="2.5" fill="#8cb6e6" opacity="0.5"/>
<circle cx="507.00" cy="342.40" r="2.5" fill="#8cb6e6" opacity="0.5"/>
<circle cx="512.00" cy="345.20" r="2.5" fill="#8cb6e6" opacity="0.5"/>
<circle cx="506.70" cy="349.30" r="2.5" fill="#8cb6e6" opacity="0.5"/>
<circle cx="509.00" cy="366.10" r="2.5" fill="#8cb6e6" opacity="0.5"/>
<circle cx="393.00" cy="303.00" r="2.5" fill="#8cb6e6" opacity="0.5"/>
<circle cx="395.00" cy="307.00" r="2.5" fill="#8cb6e6" opacity="0.5"/>
<circle cx="431.00" cy="306.00" r="2.5" fill="#8cb6e6" opacity="0.5"/>
<circle cx="434.00" cy="309.00" r="2.5" fill="#8cb6e6" opacity="0.5"/>
<circle cx="469.00" cy="302.00" r="2.5" fill="#8cb6e6" opacity="0.5"/>
<circle cx="471.00" cy="309.00" r="2.5" fill="#8cb6e6" opacity="0.5"/>
<circle cx="508.00" cy="303.00" r="2.5" fill="#8cb6e6" opacity="0.5"/>
<circle cx="583.00" cy="228.80" r="2.5" fill="#c8344e" opacity="0.6"/>
<circle cx="583.60" cy="266.50" r="2.5" fill="#c8344e" opacity="0.6"/>
<circle cx="586.60" cy="267.30" r="2.5" fill="#c8344e" opacity="0.6"/>
<circle cx="589.60" cy="271.00" r="2.5" fill="#c8344e" opacity="0.6"/>
<circle cx="585.30" cy="286.00" r="2.5" fill="#c8344e" opacity="0.6"/>
<circle cx="584.50" cy="289.80" r="2.5" fill="#c8344e" opacity="0.6"/>
<circle cx="589.60" cy="294.60" r="2.5" fill="#c8344e" opacity="0.6"/>
<circle cx="588.50" cy="317.30" r="2.5" fill="#c8344e" opacity="0.6"/>
<circle cx="588.00" cy="328.00" r="2.5" fill="#c8344e" opacity="0.6"/>
<circle cx="586.60" cy="337.00" r="2.5" fill="#c8344e" opacity="0.6"/>
<circle cx="584.50" cy="341.90" r="2.5" fill="#c8344e" opacity="0.6"/>
<circle cx="585.60" cy="362.50" r="2.5" fill="#c8344e" opacity="0.6"/>
<circle cx="591.50" cy="284.70" r="2.5" fill="#2a6ab5" opacity="0.6"/>
<circle cx="595.00" cy="289.80" r="2.5" fill="#2a6ab5" opacity="0.6"/>
<circle cx="595.60" cy="290.90" r="2.5" fill="#2a6ab5" opacity="0.6"/>
<circle cx="592.60" cy="302.50" r="2.5" fill="#2a6ab5" opacity="0.6"/>
<circle cx="592.00" cy="328.80" r="2.5" fill="#2a6ab5" opacity="0.6"/>
<circle cx="591.80" cy="335.40" r="2.5" fill="#2a6ab5" opacity="0.6"/>
<circle cx="594.00" cy="333.70" r="2.5" fill="#2a6ab5" opacity="0.6"/>
<circle cx="594.60" cy="345.70" r="2.5" fill="#2a6ab5" opacity="0.6"/>
<circle cx="597.00" cy="366.60" r="2.5" fill="#2a6ab5" opacity="0.6"/>
<line x1="323.90" y1="308.50" x2="610.00" y2="308.50" stroke="#8a8a8a" stroke-width="0.9" />
<rect x="335.60" y="307.30" width="5.80" height="2.40" fill="#a9a9a9" />
<rect x="344.30" y="307.30" width="5.80" height="2.40" fill="#eb9aa6" />
<rect x="352.90" y="307.30" width="5.80" height="2.40" fill="#a4c6ea" />
<line x1="376.93" y1="305.47" x2="376.93" y2="314.56" stroke="#a9a9a9" stroke-width="1.1" />
<line x1="375.03" y1="305.47" x2="378.83" y2="305.47" stroke="#a9a9a9" stroke-width="1.1" />
<line x1="375.03" y1="314.56" x2="378.83" y2="314.56" stroke="#a9a9a9" stroke-width="1.1" />
<rect x="373.43" y="308.50" width="7.00" height="1.60" fill="#a9a9a9" />
<line x1="385.53" y1="303.45" x2="385.53" y2="310.52" stroke="#eb9aa6" stroke-width="1.1" />
<line x1="383.63" y1="303.45" x2="387.43" y2="303.45" stroke="#eb9aa6" stroke-width="1.1" />
<line x1="383.63" y1="310.52" x2="387.43" y2="310.52" stroke="#eb9aa6" stroke-width="1.1" />
<rect x="382.03" y="306.99" width="7.00" height="1.60" fill="#eb9aa6" />
<line x1="394.03" y1="306.99" x2="394.03" y2="314.06" stroke="#a4c6ea" stroke-width="1.1" />
<line x1="392.13" y1="306.99" x2="395.93" y2="306.99" stroke="#a4c6ea" stroke-width="1.1" />
<line x1="392.13" y1="314.06" x2="395.93" y2="314.06" stroke="#a4c6ea" stroke-width="1.1" />
<rect x="390.53" y="308.50" width="7.00" height="2.02" fill="#a4c6ea" />
<line x1="415.26" y1="306.99" x2="415.26" y2="318.10" stroke="#a9a9a9" stroke-width="1.1" />
<line x1="413.36" y1="306.99" x2="417.16" y2="306.99" stroke="#a9a9a9" stroke-width="1.1" />
<line x1="413.36" y1="318.10" x2="417.16" y2="318.10" stroke="#a9a9a9" stroke-width="1.1" />
<rect x="411.76" y="308.50" width="7.00" height="4.04" fill="#a9a9a9" />
<line x1="423.86" y1="311.53" x2="423.86" y2="321.43" stroke="#eb9aa6" stroke-width="1.1" />
<line x1="421.96" y1="311.53" x2="425.76" y2="311.53" stroke="#eb9aa6" stroke-width="1.1" />
<line x1="421.96" y1="321.43" x2="425.76" y2="321.43" stroke="#eb9aa6" stroke-width="1.1" />
<rect x="420.36" y="308.50" width="7.00" height="7.98" fill="#eb9aa6" />
<line x1="432.36" y1="311.63" x2="432.36" y2="317.89" stroke="#a4c6ea" stroke-width="1.1" />
<line x1="430.46" y1="311.63" x2="434.26" y2="311.63" stroke="#a4c6ea" stroke-width="1.1" />
<line x1="430.46" y1="317.89" x2="434.26" y2="317.89" stroke="#a4c6ea" stroke-width="1.1" />
<rect x="428.86" y="308.50" width="7.00" height="6.26" fill="#a4c6ea" />
<line x1="453.59" y1="312.54" x2="453.59" y2="320.42" stroke="#a9a9a9" stroke-width="1.1" />
<line x1="451.69" y1="312.54" x2="455.49" y2="312.54" stroke="#a9a9a9" stroke-width="1.1" />
<line x1="451.69" y1="320.42" x2="455.49" y2="320.42" stroke="#a9a9a9" stroke-width="1.1" />
<rect x="450.09" y="308.50" width="7.00" height="7.98" fill="#a9a9a9" />
<line x1="462.19" y1="313.15" x2="462.19" y2="324.05" stroke="#eb9aa6" stroke-width="1.1" />
<line x1="460.29" y1="313.15" x2="464.09" y2="313.15" stroke="#eb9aa6" stroke-width="1.1" />
<line x1="460.29" y1="324.05" x2="464.09" y2="324.05" stroke="#eb9aa6" stroke-width="1.1" />
<rect x="458.69" y="308.50" width="7.00" height="10.10" fill="#eb9aa6" />
<line x1="470.69" y1="304.46" x2="470.69" y2="320.62" stroke="#a4c6ea" stroke-width="1.1" />
<line x1="468.79" y1="304.46" x2="472.59" y2="304.46" stroke="#a4c6ea" stroke-width="1.1" />
<line x1="468.79" y1="320.62" x2="472.59" y2="320.62" stroke="#a4c6ea" stroke-width="1.1" />
<rect x="467.19" y="308.50" width="7.00" height="4.04" fill="#a4c6ea" />
<line x1="491.92" y1="308.90" x2="491.92" y2="321.83" stroke="#a9a9a9" stroke-width="1.1" />
<line x1="490.02" y1="308.90" x2="493.82" y2="308.90" stroke="#a9a9a9" stroke-width="1.1" />
<line x1="490.02" y1="321.83" x2="493.82" y2="321.83" stroke="#a9a9a9" stroke-width="1.1" />
<rect x="488.42" y="308.50" width="7.00" height="6.87" fill="#a9a9a9" />
<line x1="500.52" y1="314.66" x2="500.52" y2="321.33" stroke="#eb9aa6" stroke-width="1.1" />
<line x1="498.62" y1="314.66" x2="502.42" y2="314.66" stroke="#eb9aa6" stroke-width="1.1" />
<line x1="498.62" y1="321.33" x2="502.42" y2="321.33" stroke="#eb9aa6" stroke-width="1.1" />
<rect x="497.02" y="308.50" width="7.00" height="9.49" fill="#eb9aa6" />
<line x1="509.02" y1="308.50" x2="509.02" y2="323.25" stroke="#a4c6ea" stroke-width="1.1" />
<line x1="507.12" y1="308.50" x2="510.92" y2="308.50" stroke="#a4c6ea" stroke-width="1.1" />
<line x1="507.12" y1="323.25" x2="510.92" y2="323.25" stroke="#a4c6ea" stroke-width="1.1" />
<rect x="505.52" y="308.50" width="7.00" height="7.37" fill="#a4c6ea" />
<line x1="577.90" y1="310.22" x2="577.90" y2="323.95" stroke="#555555" stroke-width="1.1" />
<line x1="576.00" y1="310.22" x2="579.80" y2="310.22" stroke="#555555" stroke-width="1.1" />
<line x1="576.00" y1="323.95" x2="579.80" y2="323.95" stroke="#555555" stroke-width="1.1" />
<rect x="574.40" y="308.50" width="7.00" height="8.58" fill="#555555" />
<line x1="586.30" y1="290.02" x2="586.30" y2="307.19" stroke="#c0172f" stroke-width="1.1" />
<line x1="584.40" y1="290.02" x2="588.20" y2="290.02" stroke="#c0172f" stroke-width="1.1" />
<line x1="584.40" y1="307.19" x2="588.20" y2="307.19" stroke="#c0172f" stroke-width="1.1" />
<rect x="582.80" y="298.60" width="7.00" height="9.90" fill="#c0172f" />
<line x1="595.00" y1="316.68" x2="595.00" y2="326.18" stroke="#2766b3" stroke-width="1.1" />
<line x1="593.10" y1="316.68" x2="596.90" y2="316.68" stroke="#2766b3" stroke-width="1.1" />
<line x1="593.10" y1="326.18" x2="596.90" y2="326.18" stroke="#2766b3" stroke-width="1.1" />
<rect x="591.50" y="308.50" width="7.00" height="12.93" fill="#2766b3" />
<line x1="613.30" y1="222.00" x2="618.00" y2="222.00" stroke="#222" stroke-width="1.6" />
<text x="620.00" y="224.30" font-size="6.3" text-anchor="start" fill="#222" font-weight="normal" font-style="normal"  stroke="#222" stroke-width="0.12">Average across groups</text>
<line x1="629.40" y1="225.30" x2="629.40" y2="288.80" stroke="#8c8c8c" stroke-width="0.8" />
<line x1="629.40" y1="288.80" x2="672.00" y2="288.80" stroke="#8c8c8c" stroke-width="0.8" />
<text x="627.00" y="243.70" font-size="6.6" text-anchor="end" fill="#262626" font-weight="normal" font-style="normal"  stroke="#262626" stroke-width="0.12">0</text>
<text x="627.00" y="291.20" font-size="6.6" text-anchor="end" fill="#262626" font-weight="normal" font-style="normal"  stroke="#262626" stroke-width="0.12">-15</text>
<line x1="633.80" y1="288.80" x2="633.80" y2="287.20" stroke="#8c8c8c" stroke-width="0.6" />
<text x="633.80" y="298.20" font-size="6.8" text-anchor="middle" fill="#222" font-weight="normal" font-style="normal"  stroke="#222" stroke-width="0.12">1</text>
<line x1="642.00" y1="288.80" x2="642.00" y2="287.20" stroke="#8c8c8c" stroke-width="0.6" />
<text x="642.00" y="298.20" font-size="6.8" text-anchor="middle" fill="#222" font-weight="normal" font-style="normal"  stroke="#222" stroke-width="0.12">2</text>
<line x1="650.20" y1="288.80" x2="650.20" y2="287.20" stroke="#8c8c8c" stroke-width="0.6" />
<text x="650.20" y="298.20" font-size="6.8" text-anchor="middle" fill="#222" font-weight="normal" font-style="normal"  stroke="#222" stroke-width="0.12">3</text>
<line x1="658.30" y1="288.80" x2="658.30" y2="287.20" stroke="#8c8c8c" stroke-width="0.6" />
<text x="658.30" y="298.20" font-size="6.8" text-anchor="middle" fill="#222" font-weight="normal" font-style="normal"  stroke="#222" stroke-width="0.12">4</text>
<line x1="666.40" y1="288.80" x2="666.40" y2="287.20" stroke="#8c8c8c" stroke-width="0.6" />
<text x="666.40" y="298.20" font-size="6.8" text-anchor="middle" fill="#222" font-weight="normal" font-style="normal"  stroke="#222" stroke-width="0.12">5</text>
<path d="M633.80,241.30 L642.00,241.30 C644.73,244.15 647.48,254.77 650.20,258.42 C652.92,262.06 655.60,261.85 658.30,263.17 C661.00,264.49 665.05,265.81 666.40,266.34 " fill="none" stroke="#222" stroke-width="1.3"/>
<line x1="642.00" y1="234.33" x2="642.00" y2="249.23" stroke="#333" stroke-width="1.1" />
<line x1="640.20" y1="234.33" x2="643.80" y2="234.33" stroke="#333" stroke-width="1.1" />
<line x1="640.20" y1="249.23" x2="643.80" y2="249.23" stroke="#333" stroke-width="1.1" />
<line x1="650.20" y1="247.96" x2="650.20" y2="268.25" stroke="#333" stroke-width="1.1" />
<line x1="648.40" y1="247.96" x2="652.00" y2="247.96" stroke="#333" stroke-width="1.1" />
<line x1="648.40" y1="268.25" x2="652.00" y2="268.25" stroke="#333" stroke-width="1.1" />
<line x1="658.30" y1="250.18" x2="658.30" y2="275.54" stroke="#333" stroke-width="1.1" />
<line x1="656.50" y1="250.18" x2="660.10" y2="250.18" stroke="#333" stroke-width="1.1" />
<line x1="656.50" y1="275.54" x2="660.10" y2="275.54" stroke="#333" stroke-width="1.1" />
<line x1="666.40" y1="254.61" x2="666.40" y2="278.07" stroke="#333" stroke-width="1.1" />
<line x1="664.60" y1="254.61" x2="668.20" y2="254.61" stroke="#333" stroke-width="1.1" />
<line x1="664.60" y1="278.07" x2="668.20" y2="278.07" stroke="#333" stroke-width="1.1" />
<text x="655.20" y="239.60" font-size="7.5" text-anchor="middle" fill="#222" font-weight="bold" font-style="normal"  stroke="#222" stroke-width="0.08">**</text>
<text x="651.30" y="305.00" font-size="7.3" text-anchor="middle" fill="#111" font-weight="normal" font-style="normal"  stroke="#111" stroke-width="0.12">Batch during training</text>
<line x1="617.00" y1="317.00" x2="621.50" y2="317.00" stroke="#555" stroke-width="1.6" />
<text x="621.60" y="319.00" font-size="6.6" text-anchor="start" fill="#222" font-weight="normal" font-style="normal"  stroke="#222" stroke-width="0.12">0 Hz</text>
<line x1="637.60" y1="317.00" x2="642.10" y2="317.00" stroke="#c0172f" stroke-width="1.6" />
<text x="642.20" y="319.00" font-size="6.6" text-anchor="start" fill="#222" font-weight="normal" font-style="normal"  stroke="#222" stroke-width="0.12">10 Hz</text>
<line x1="660.80" y1="317.00" x2="665.30" y2="317.00" stroke="#2766b3" stroke-width="1.6" />
<text x="665.40" y="319.00" font-size="6.6" text-anchor="start" fill="#222" font-weight="normal" font-style="normal"  stroke="#222" stroke-width="0.12">1 Hz</text>
<line x1="629.60" y1="325.00" x2="629.60" y2="388.70" stroke="#8c8c8c" stroke-width="0.8" />
<line x1="629.60" y1="388.70" x2="669.20" y2="388.70" stroke="#8c8c8c" stroke-width="0.8" />
<text x="626.40" y="327.40" font-size="6.6" text-anchor="end" fill="#262626" font-weight="normal" font-style="normal"  stroke="#262626" stroke-width="0.12">20</text>
<text x="626.40" y="359.20" font-size="6.6" text-anchor="end" fill="#262626" font-weight="normal" font-style="normal"  stroke="#262626" stroke-width="0.12">0</text>
<text x="626.40" y="391.10" font-size="6.6" text-anchor="end" fill="#262626" font-weight="normal" font-style="normal"  stroke="#262626" stroke-width="0.12">-20</text>
<line x1="639.60" y1="388.70" x2="639.60" y2="387.10" stroke="#8c8c8c" stroke-width="0.6" />
<line x1="660.20" y1="388.70" x2="660.20" y2="387.10" stroke="#8c8c8c" stroke-width="0.6" />
<line x1="639.60" y1="364.16" x2="639.60" y2="378.72" stroke="#555" stroke-width="1.1" />
<line x1="638.00" y1="364.16" x2="641.20" y2="364.16" stroke="#555" stroke-width="1.1" />
<line x1="638.00" y1="378.72" x2="641.20" y2="378.72" stroke="#555" stroke-width="1.1" />
<line x1="639.60" y1="364.00" x2="639.60" y2="378.40" stroke="#c0172f" stroke-width="1.1" />
<line x1="638.00" y1="364.00" x2="641.20" y2="364.00" stroke="#c0172f" stroke-width="1.1" />
<line x1="638.00" y1="378.40" x2="641.20" y2="378.40" stroke="#c0172f" stroke-width="1.1" />
<line x1="639.60" y1="356.80" x2="639.60" y2="381.76" stroke="#2766b3" stroke-width="1.1" />
<line x1="638.00" y1="356.80" x2="641.20" y2="356.80" stroke="#2766b3" stroke-width="1.1" />
<line x1="638.00" y1="381.76" x2="641.20" y2="381.76" stroke="#2766b3" stroke-width="1.1" />
<line x1="660.20" y1="357.60" x2="660.20" y2="379.20" stroke="#555" stroke-width="1.1" />
<line x1="658.60" y1="357.60" x2="661.80" y2="357.60" stroke="#555" stroke-width="1.1" />
<line x1="658.60" y1="379.20" x2="661.80" y2="379.20" stroke="#555" stroke-width="1.1" />
<line x1="660.20" y1="327.20" x2="660.20" y2="356.80" stroke="#c0172f" stroke-width="1.1" />
<line x1="658.60" y1="327.20" x2="661.80" y2="327.20" stroke="#c0172f" stroke-width="1.1" />
<line x1="658.60" y1="356.80" x2="661.80" y2="356.80" stroke="#c0172f" stroke-width="1.1" />
<line x1="660.20" y1="362.40" x2="660.20" y2="381.60" stroke="#2766b3" stroke-width="1.1" />
<line x1="658.60" y1="362.40" x2="661.80" y2="362.40" stroke="#2766b3" stroke-width="1.1" />
<line x1="658.60" y1="381.60" x2="661.80" y2="381.60" stroke="#2766b3" stroke-width="1.1" />
<line x1="639.60" y1="368.80" x2="660.20" y2="368.32" stroke="#555" stroke-width="1.3" />
<line x1="639.60" y1="368.80" x2="660.20" y2="372.32" stroke="#2766b3" stroke-width="1.3" />
<line x1="639.60" y1="368.80" x2="660.20" y2="343.20" stroke="#c0172f" stroke-width="1.3" />
<text x="646.80" y="332.50" font-size="7" text-anchor="middle" fill="#c0172f" font-weight="normal" font-style="normal"  stroke="#c0172f" stroke-width="0.12">*</text>
<text x="646.80" y="337.20" font-size="6.2" text-anchor="middle" fill="#555" font-weight="normal" font-style="normal"  stroke="#555" stroke-width="0.12">n.s.</text>
<text x="646.80" y="343.10" font-size="6.2" text-anchor="middle" fill="#2766b3" font-weight="normal" font-style="normal"  stroke="#2766b3" stroke-width="0.12">n.s.</text>
<text x="639.30" y="397.20" font-size="6.9" text-anchor="middle" fill="#222" font-weight="normal" font-style="normal"  stroke="#222" stroke-width="0.12">Training</text>
<text x="639.30" y="405.00" font-size="6.9" text-anchor="middle" fill="#222" font-weight="normal" font-style="normal"  stroke="#222" stroke-width="0.12">#5</text>
<text x="661.30" y="397.20" font-size="6.9" text-anchor="middle" fill="#222" font-weight="normal" font-style="normal"  stroke="#222" stroke-width="0.12">Test</text>
<text x="661.30" y="405.00" font-size="6.9" text-anchor="middle" fill="#222" font-weight="normal" font-style="normal"  stroke="#222" stroke-width="0.12">#1</text>
<text x="651.10" y="413.40" font-size="8" text-anchor="middle" fill="#222" font-weight="normal" font-style="normal"  stroke="#222" stroke-width="0.12">Batch</text>
</svg>
</body></html>
